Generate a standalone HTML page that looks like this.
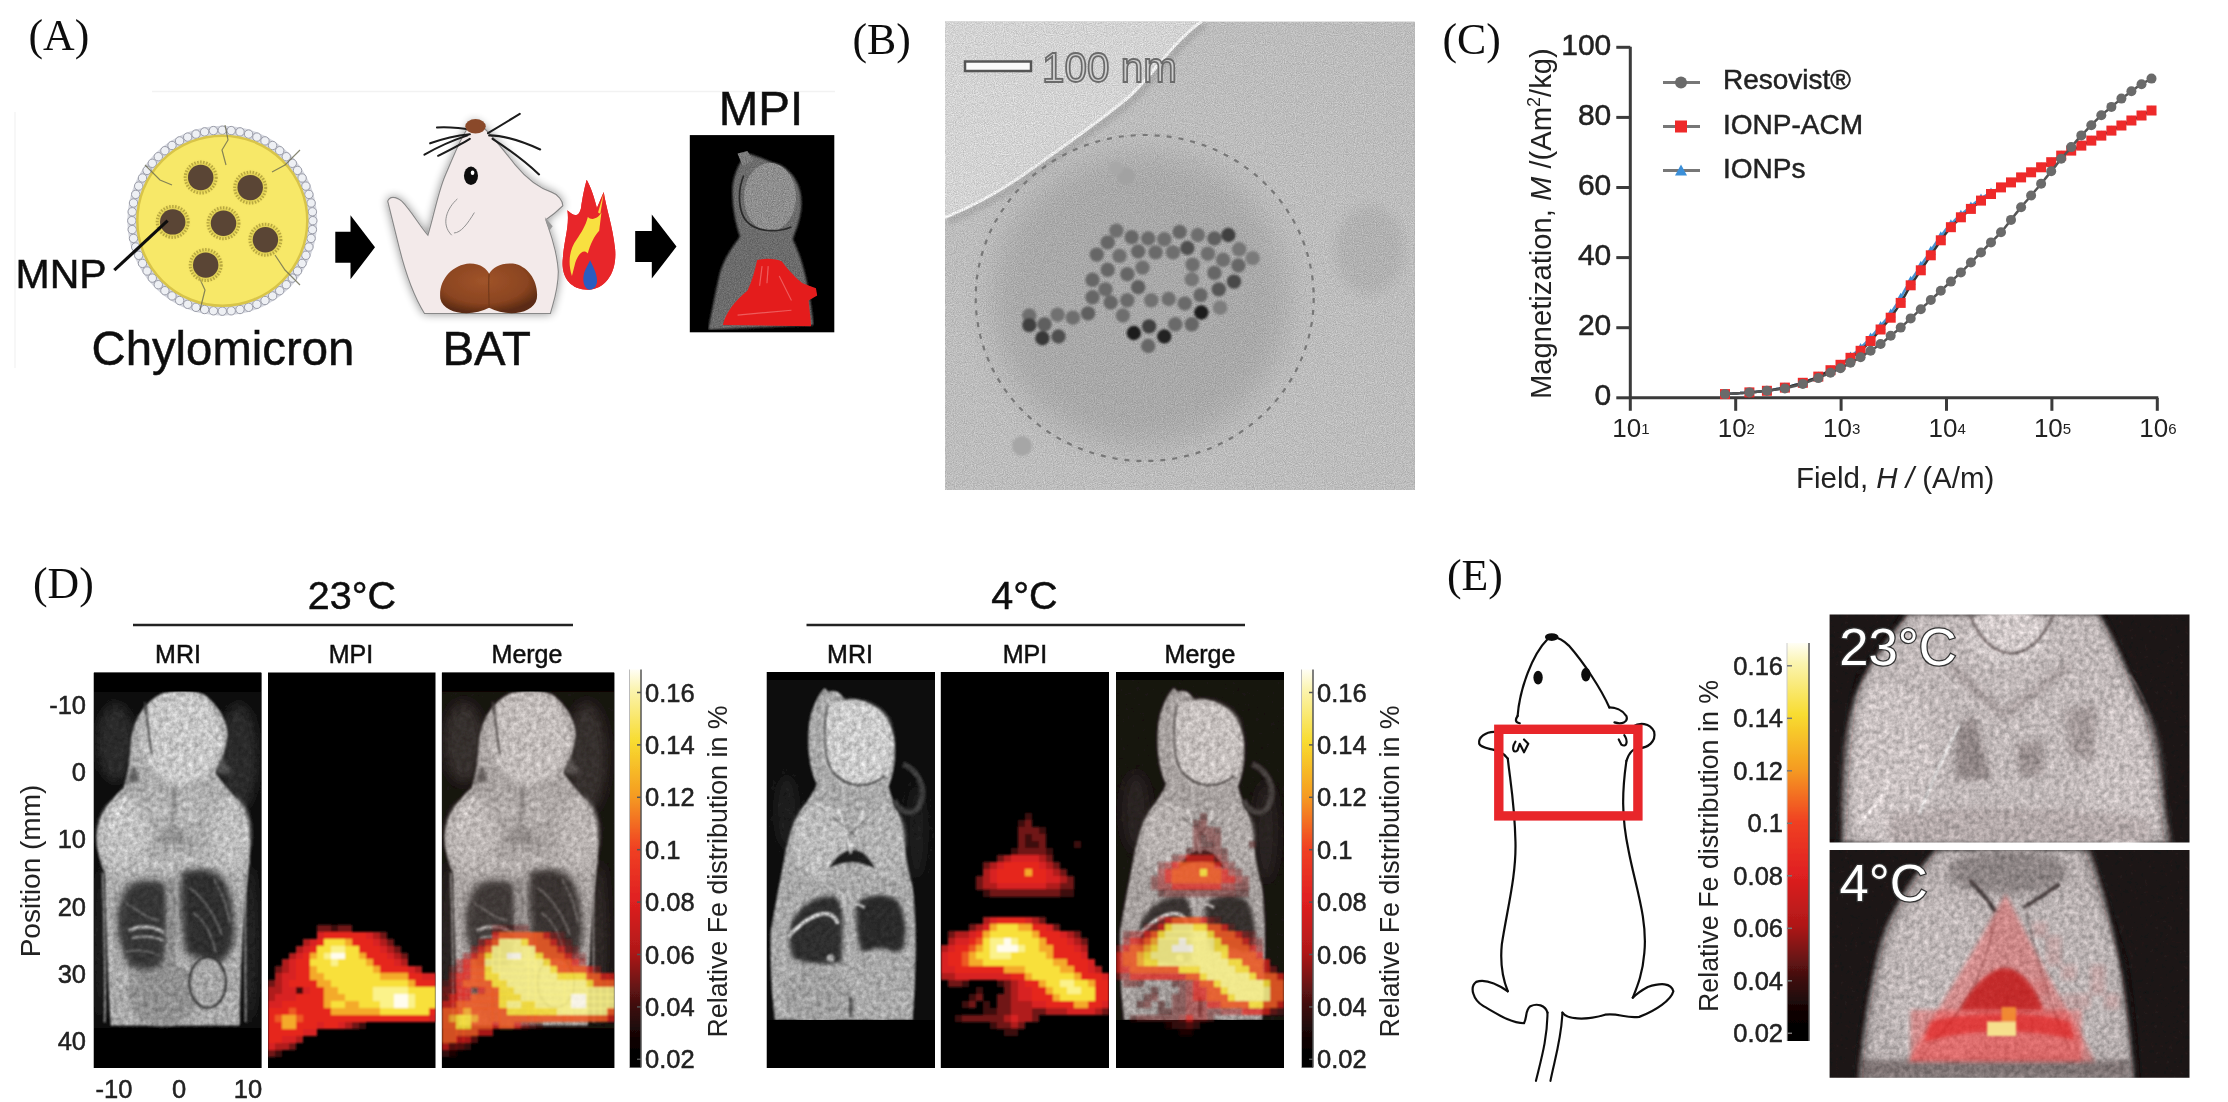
<!DOCTYPE html>
<html><head><meta charset="utf-8"><title>Figure</title>
<style>html,body{margin:0;padding:0;background:#fff;} svg{display:block;}</style></head>
<body><svg width="2228" height="1102" viewBox="0 0 2228 1102">
<defs><radialGradient id="mnphalo" cx="0.5" cy="0.5" r="0.5"><stop offset="0.6" stop-color="#cfc048"/><stop offset="1" stop-color="#f4e060" stop-opacity="0"/></radialGradient>
<radialGradient id="batg" cx="0.45" cy="0.35" r="0.65"><stop offset="0" stop-color="#a0542a"/><stop offset="0.7" stop-color="#8a4420"/><stop offset="1" stop-color="#5a2a12"/></radialGradient>
<filter id="shadow" x="-20%" y="-20%" width="140%" height="140%"><feGaussianBlur in="SourceAlpha" stdDeviation="22"/><feOffset dx="0" dy="0"/><feComponentTransfer><feFuncA type="linear" slope="0.45"/></feComponentTransfer><feMerge><feMergeNode/><feMergeNode in="SourceGraphic"/></feMerge></filter>
<filter id="glow" x="-30%" y="-30%" width="160%" height="160%"><feGaussianBlur in="SourceGraphic" stdDeviation="3" result="b"/><feMerge><feMergeNode in="b"/><feMergeNode in="SourceGraphic"/></feMerge></filter><filter id="temtex" x="0" y="0" width="100%" height="100%" color-interpolation-filters="sRGB"><feTurbulence type="fractalNoise" baseFrequency="0.9" numOctaves="2" seed="11" result="n"/><feColorMatrix in="n" type="matrix" values="1 0 0 0 0  1 0 0 0 0  1 0 0 0 0  0 0 0 0 1" result="g"/><feComposite in="SourceGraphic" in2="g" operator="arithmetic" k1="0.35" k2="0.83" k3="0" k4="0"/></filter>
<radialGradient id="temdark" cx="0.5" cy="0.5" r="0.5"><stop offset="0" stop-color="#9c9c9c"/><stop offset="0.6" stop-color="#a4a4a4"/><stop offset="1" stop-color="#b6b6b6" stop-opacity="0"/></radialGradient>
<filter id="blurtem" x="-30%" y="-30%" width="160%" height="160%"><feGaussianBlur stdDeviation="16"/></filter><clipPath id="temclip"><rect x="945" y="21.5" width="469.8" height="468.5"/></clipPath><filter id="blur1" x="-10%" y="-10%" width="120%" height="120%"><feGaussianBlur stdDeviation="1.2"/></filter>
<filter id="blur2" x="-10%" y="-10%" width="120%" height="120%"><feGaussianBlur stdDeviation="2"/></filter>
<filter id="blur4" x="-20%" y="-20%" width="140%" height="140%"><feGaussianBlur stdDeviation="3.5"/></filter>
<filter id="blur6" x="-30%" y="-30%" width="160%" height="160%"><feGaussianBlur stdDeviation="6"/></filter>
<filter id="tex" x="0" y="0" width="100%" height="100%" color-interpolation-filters="sRGB"><feTurbulence type="fractalNoise" baseFrequency="0.2" numOctaves="3" seed="4" result="n"/><feColorMatrix in="n" type="matrix" values="1 0 0 0 0  1 0 0 0 0  1 0 0 0 0  0 0 0 0 1" result="g"/><feComposite in="SourceGraphic" in2="g" operator="arithmetic" k1="0.55" k2="0.74" k3="0" k4="0"/></filter><linearGradient id="cbar" x1="0" y1="1" x2="0" y2="0"><stop offset="0" stop-color="#000"/><stop offset="0.06" stop-color="#080202"/><stop offset="0.158" stop-color="#401010"/><stop offset="0.29" stop-color="#b01818"/><stop offset="0.42" stop-color="#e02020"/><stop offset="0.55" stop-color="#f04020"/><stop offset="0.68" stop-color="#f59a20"/><stop offset="0.82" stop-color="#f8dc30"/><stop offset="0.95" stop-color="#fbf4b0"/><stop offset="1" stop-color="#fffef5"/></linearGradient><filter id="soft" x="0" y="0" width="100%" height="100%" filterUnits="userSpaceOnUse"><feGaussianBlur stdDeviation="0.6"/></filter></defs>
<g filter="url(#soft)"><rect width="2228" height="1102" fill="#fff"/>
<text x="28.5" y="50.0" style="font-family:'Liberation Serif',serif;font-size:43.8px" fill="#111" text-anchor="start" >(A)</text>
<text x="852.5" y="54.0" style="font-family:'Liberation Serif',serif;font-size:43.8px" fill="#111" text-anchor="start" >(B)</text>
<text x="1442.5" y="54.0" style="font-family:'Liberation Serif',serif;font-size:43.8px" fill="#111" text-anchor="start" >(C)</text>
<text x="33.0" y="598.0" style="font-family:'Liberation Serif',serif;font-size:43.8px" fill="#111" text-anchor="start" >(D)</text>
<text x="1447.0" y="590.0" style="font-family:'Liberation Serif',serif;font-size:43.8px" fill="#111" text-anchor="start" >(E)</text>
<path d="M152 91.5 H835" stroke="#f2f2f2" stroke-width="1.5"/><path d="M15 112 V368" stroke="#f4f4f4" stroke-width="1.5"/>
<circle cx="222.3" cy="220.7" r="95" fill="#d6d8e0"/>
<g><circle cx="312.8" cy="220.7" r="4.2" fill="#eef0f4" stroke="#9a9ca8" stroke-width="1"/><circle cx="312.4" cy="229.6" r="4.2" fill="#eef0f4" stroke="#9a9ca8" stroke-width="1"/><circle cx="311.1" cy="238.4" r="4.2" fill="#eef0f4" stroke="#9a9ca8" stroke-width="1"/><circle cx="308.9" cy="247.0" r="4.2" fill="#eef0f4" stroke="#9a9ca8" stroke-width="1"/><circle cx="305.9" cy="255.3" r="4.2" fill="#eef0f4" stroke="#9a9ca8" stroke-width="1"/><circle cx="302.1" cy="263.4" r="4.2" fill="#eef0f4" stroke="#9a9ca8" stroke-width="1"/><circle cx="297.5" cy="271.0" r="4.2" fill="#eef0f4" stroke="#9a9ca8" stroke-width="1"/><circle cx="292.3" cy="278.1" r="4.2" fill="#eef0f4" stroke="#9a9ca8" stroke-width="1"/><circle cx="286.3" cy="284.7" r="4.2" fill="#eef0f4" stroke="#9a9ca8" stroke-width="1"/><circle cx="279.7" cy="290.7" r="4.2" fill="#eef0f4" stroke="#9a9ca8" stroke-width="1"/><circle cx="272.6" cy="295.9" r="4.2" fill="#eef0f4" stroke="#9a9ca8" stroke-width="1"/><circle cx="265.0" cy="300.5" r="4.2" fill="#eef0f4" stroke="#9a9ca8" stroke-width="1"/><circle cx="256.9" cy="304.3" r="4.2" fill="#eef0f4" stroke="#9a9ca8" stroke-width="1"/><circle cx="248.6" cy="307.3" r="4.2" fill="#eef0f4" stroke="#9a9ca8" stroke-width="1"/><circle cx="240.0" cy="309.5" r="4.2" fill="#eef0f4" stroke="#9a9ca8" stroke-width="1"/><circle cx="231.2" cy="310.8" r="4.2" fill="#eef0f4" stroke="#9a9ca8" stroke-width="1"/><circle cx="222.3" cy="311.2" r="4.2" fill="#eef0f4" stroke="#9a9ca8" stroke-width="1"/><circle cx="213.4" cy="310.8" r="4.2" fill="#eef0f4" stroke="#9a9ca8" stroke-width="1"/><circle cx="204.6" cy="309.5" r="4.2" fill="#eef0f4" stroke="#9a9ca8" stroke-width="1"/><circle cx="196.0" cy="307.3" r="4.2" fill="#eef0f4" stroke="#9a9ca8" stroke-width="1"/><circle cx="187.7" cy="304.3" r="4.2" fill="#eef0f4" stroke="#9a9ca8" stroke-width="1"/><circle cx="179.6" cy="300.5" r="4.2" fill="#eef0f4" stroke="#9a9ca8" stroke-width="1"/><circle cx="172.0" cy="295.9" r="4.2" fill="#eef0f4" stroke="#9a9ca8" stroke-width="1"/><circle cx="164.9" cy="290.7" r="4.2" fill="#eef0f4" stroke="#9a9ca8" stroke-width="1"/><circle cx="158.3" cy="284.7" r="4.2" fill="#eef0f4" stroke="#9a9ca8" stroke-width="1"/><circle cx="152.3" cy="278.1" r="4.2" fill="#eef0f4" stroke="#9a9ca8" stroke-width="1"/><circle cx="147.1" cy="271.0" r="4.2" fill="#eef0f4" stroke="#9a9ca8" stroke-width="1"/><circle cx="142.5" cy="263.4" r="4.2" fill="#eef0f4" stroke="#9a9ca8" stroke-width="1"/><circle cx="138.7" cy="255.3" r="4.2" fill="#eef0f4" stroke="#9a9ca8" stroke-width="1"/><circle cx="135.7" cy="247.0" r="4.2" fill="#eef0f4" stroke="#9a9ca8" stroke-width="1"/><circle cx="133.5" cy="238.4" r="4.2" fill="#eef0f4" stroke="#9a9ca8" stroke-width="1"/><circle cx="132.2" cy="229.6" r="4.2" fill="#eef0f4" stroke="#9a9ca8" stroke-width="1"/><circle cx="131.8" cy="220.7" r="4.2" fill="#eef0f4" stroke="#9a9ca8" stroke-width="1"/><circle cx="132.2" cy="211.8" r="4.2" fill="#eef0f4" stroke="#9a9ca8" stroke-width="1"/><circle cx="133.5" cy="203.0" r="4.2" fill="#eef0f4" stroke="#9a9ca8" stroke-width="1"/><circle cx="135.7" cy="194.4" r="4.2" fill="#eef0f4" stroke="#9a9ca8" stroke-width="1"/><circle cx="138.7" cy="186.1" r="4.2" fill="#eef0f4" stroke="#9a9ca8" stroke-width="1"/><circle cx="142.5" cy="178.0" r="4.2" fill="#eef0f4" stroke="#9a9ca8" stroke-width="1"/><circle cx="147.1" cy="170.4" r="4.2" fill="#eef0f4" stroke="#9a9ca8" stroke-width="1"/><circle cx="152.3" cy="163.3" r="4.2" fill="#eef0f4" stroke="#9a9ca8" stroke-width="1"/><circle cx="158.3" cy="156.7" r="4.2" fill="#eef0f4" stroke="#9a9ca8" stroke-width="1"/><circle cx="164.9" cy="150.7" r="4.2" fill="#eef0f4" stroke="#9a9ca8" stroke-width="1"/><circle cx="172.0" cy="145.5" r="4.2" fill="#eef0f4" stroke="#9a9ca8" stroke-width="1"/><circle cx="179.6" cy="140.9" r="4.2" fill="#eef0f4" stroke="#9a9ca8" stroke-width="1"/><circle cx="187.7" cy="137.1" r="4.2" fill="#eef0f4" stroke="#9a9ca8" stroke-width="1"/><circle cx="196.0" cy="134.1" r="4.2" fill="#eef0f4" stroke="#9a9ca8" stroke-width="1"/><circle cx="204.6" cy="131.9" r="4.2" fill="#eef0f4" stroke="#9a9ca8" stroke-width="1"/><circle cx="213.4" cy="130.6" r="4.2" fill="#eef0f4" stroke="#9a9ca8" stroke-width="1"/><circle cx="222.3" cy="130.2" r="4.2" fill="#eef0f4" stroke="#9a9ca8" stroke-width="1"/><circle cx="231.2" cy="130.6" r="4.2" fill="#eef0f4" stroke="#9a9ca8" stroke-width="1"/><circle cx="240.0" cy="131.9" r="4.2" fill="#eef0f4" stroke="#9a9ca8" stroke-width="1"/><circle cx="248.6" cy="134.1" r="4.2" fill="#eef0f4" stroke="#9a9ca8" stroke-width="1"/><circle cx="256.9" cy="137.1" r="4.2" fill="#eef0f4" stroke="#9a9ca8" stroke-width="1"/><circle cx="265.0" cy="140.9" r="4.2" fill="#eef0f4" stroke="#9a9ca8" stroke-width="1"/><circle cx="272.6" cy="145.5" r="4.2" fill="#eef0f4" stroke="#9a9ca8" stroke-width="1"/><circle cx="279.7" cy="150.7" r="4.2" fill="#eef0f4" stroke="#9a9ca8" stroke-width="1"/><circle cx="286.3" cy="156.7" r="4.2" fill="#eef0f4" stroke="#9a9ca8" stroke-width="1"/><circle cx="292.3" cy="163.3" r="4.2" fill="#eef0f4" stroke="#9a9ca8" stroke-width="1"/><circle cx="297.5" cy="170.4" r="4.2" fill="#eef0f4" stroke="#9a9ca8" stroke-width="1"/><circle cx="302.1" cy="178.0" r="4.2" fill="#eef0f4" stroke="#9a9ca8" stroke-width="1"/><circle cx="305.9" cy="186.1" r="4.2" fill="#eef0f4" stroke="#9a9ca8" stroke-width="1"/><circle cx="308.9" cy="194.4" r="4.2" fill="#eef0f4" stroke="#9a9ca8" stroke-width="1"/><circle cx="311.1" cy="203.0" r="4.2" fill="#eef0f4" stroke="#9a9ca8" stroke-width="1"/><circle cx="312.4" cy="211.8" r="4.2" fill="#eef0f4" stroke="#9a9ca8" stroke-width="1"/></g>
<circle cx="222.3" cy="220.7" r="85" fill="#f7e868" stroke="#d8c448" stroke-width="2.5"/>
<g stroke="#6a6a50" stroke-width="1.2" fill="none" opacity="0.8"><path d="M225 125 L228 140 L222 150 L226 165"/><path d="M145 165 L160 180 L172 185"/><path d="M300 150 L285 165 L272 172"/><path d="M200 310 L205 290 L198 275"/><path d="M300 285 L285 270 L275 255"/></g>
<circle cx="200.7" cy="177.5" r="19" fill="url(#mnphalo)"/>
<circle cx="200.7" cy="177.5" r="15.5" fill="none" stroke="#b8a840" stroke-width="3" stroke-dasharray="1.5 1.5"/>
<circle cx="200.7" cy="177.5" r="12.7" fill="#5a4434"/>
<circle cx="250.2" cy="187.6" r="19" fill="url(#mnphalo)"/>
<circle cx="250.2" cy="187.6" r="15.5" fill="none" stroke="#b8a840" stroke-width="3" stroke-dasharray="1.5 1.5"/>
<circle cx="250.2" cy="187.6" r="12.7" fill="#5a4434"/>
<circle cx="172.7" cy="221.9" r="19" fill="url(#mnphalo)"/>
<circle cx="172.7" cy="221.9" r="15.5" fill="none" stroke="#b8a840" stroke-width="3" stroke-dasharray="1.5 1.5"/>
<circle cx="172.7" cy="221.9" r="12.7" fill="#5a4434"/>
<circle cx="223.5" cy="223.2" r="19" fill="url(#mnphalo)"/>
<circle cx="223.5" cy="223.2" r="15.5" fill="none" stroke="#b8a840" stroke-width="3" stroke-dasharray="1.5 1.5"/>
<circle cx="223.5" cy="223.2" r="12.7" fill="#5a4434"/>
<circle cx="265.4" cy="239.7" r="19" fill="url(#mnphalo)"/>
<circle cx="265.4" cy="239.7" r="15.5" fill="none" stroke="#b8a840" stroke-width="3" stroke-dasharray="1.5 1.5"/>
<circle cx="265.4" cy="239.7" r="12.7" fill="#5a4434"/>
<circle cx="205.7" cy="265.1" r="19" fill="url(#mnphalo)"/>
<circle cx="205.7" cy="265.1" r="15.5" fill="none" stroke="#b8a840" stroke-width="3" stroke-dasharray="1.5 1.5"/>
<circle cx="205.7" cy="265.1" r="12.7" fill="#5a4434"/>
<path d="M114.3 270.2 L167.6 220.7" stroke="#111" stroke-width="3.2"/>
<text x="15.5" y="288.0" style="font-family:'Liberation Sans',sans-serif;font-size:41px" fill="#111" stroke="#111" stroke-width="0.5" text-anchor="start" >MNP</text>
<text x="91.5" y="365.0" style="font-family:'Liberation Sans',sans-serif;font-size:47.3px" fill="#111" stroke="#111" stroke-width="0.5" text-anchor="start" >Chylomicron</text>
<text x="442.5" y="365.0" style="font-family:'Liberation Sans',sans-serif;font-size:47.3px" fill="#111" stroke="#111" stroke-width="0.5" text-anchor="start" >BAT</text>
<text x="718.7" y="124.5" style="font-family:'Liberation Sans',sans-serif;font-size:47.5px" fill="#111" stroke="#111" stroke-width="0.5" text-anchor="start" >MPI</text>
<path d="M335.3 231.8 H350.5 V215.3 L375 247.3 L350.5 279.3 V262.8 H335.3Z" fill="#000"/>
<path d="M635.2 231.1 H651.8 V214.6 L676.5 246.6 L651.8 278.6 V262.1 H635.2Z" fill="#000"/>
<g transform="translate(370,90) scale(0.22691)">
<g filter="url(#shadow)">
<path d="M455 135 C500 150 560 230 640 330 C690 390 740 430 800 450 C830 460 850 490 850 510 C830 530 800 555 775 572 C790 620 825 700 830 800 C830 880 810 930 795 985 L240 985 C200 920 160 820 130 700 C110 620 90 540 78 490 C85 470 110 465 140 490 C180 530 220 600 255 640 C280 560 300 450 330 380 C370 290 400 200 455 135Z" fill="#f3eaea" stroke="#888" stroke-width="5"/>
</g>
<path d="M770 560 L790 620 L805 600Z" fill="#999"/>
<ellipse cx="445" cy="378" rx="31" ry="41" fill="#111"/><ellipse cx="452" cy="365" rx="8" ry="10" fill="#fff"/>
<g stroke="#888" stroke-width="4" fill="none"><path d="M385 480 C340 520 310 590 360 640"/><path d="M460 540 C430 590 400 630 370 630"/></g>
<g stroke="#1a1a1a" stroke-width="9" fill="none" stroke-linecap="round"><path d="M240 285 C300 250 370 220 430 200"/><path d="M265 235 C320 215 390 200 440 195"/><path d="M295 165 C360 160 420 170 470 178"/><path d="M520 190 C570 160 620 130 660 105"/><path d="M525 200 C600 200 680 230 750 262"/><path d="M540 215 C610 260 690 320 745 372"/><path d="M300 290 C360 260 400 240 440 215"/></g>
<ellipse cx="465" cy="160" rx="45" ry="32" fill="#8a4a2a"/>
<g filter="url(#blur2)"><path d="M310 920 C300 840 360 770 440 765 C490 765 515 790 525 810 C540 780 580 760 630 765 C700 775 745 850 735 920 C720 990 600 1000 525 960 C450 1000 325 990 310 920Z" fill="url(#batg)"/></g>
<path d="M525 810 C520 860 525 920 525 960" stroke="#6a3418" stroke-width="6" fill="none" opacity="0.7"/>
<g filter="url(#glow)"><path d="M960 880 C880 880 840 820 850 740 C855 660 880 600 870 530 C900 560 920 560 930 520 C935 480 945 430 955 395 C975 430 990 480 1000 520 L1030 450 C1040 520 1070 600 1080 700 C1090 800 1040 880 960 880Z" fill="#e8282a"/></g>
<path d="M890 820 C870 760 880 700 910 660 C930 630 950 600 960 560 C980 580 1010 560 1020 540 L1010 620 C990 640 970 680 960 720 C940 700 920 720 905 760Z" fill="#f8e040"/>
<path d="M1030 455 L1005 540 L1015 545Z" fill="#f8e040"/>
<path d="M965 880 C935 870 935 820 950 790 C960 770 965 760 970 750 C985 780 1005 820 1000 850 C995 870 985 880 965 880Z" fill="#2a5cc0"/>
</g>
<rect x="689.8" y="135.1" width="144.5" height="197.2" fill="#000"/>
<g transform="translate(620,80) scale(0.24494)">
<g filter="url(#tex)"><g>
<path d="M520 300 C560 310 600 330 650 345 C720 380 745 450 740 520 C735 580 715 620 705 650 C740 720 770 820 790 1000 L360 1020 C380 920 395 840 410 780 C430 720 460 680 490 640 C470 580 455 500 460 430 C470 370 490 330 520 300Z" fill="#6a6a6a" filter="url(#blur4)"/>
<ellipse cx="612" cy="478" rx="106" ry="140" fill="#8c8c8c"/>
<path d="M480 300 L520 290 L545 330 L500 350Z" fill="#7a7a7a"/>
</g></g>
<path d="M505 390 C480 450 480 540 520 580 C560 620 640 625 700 600" stroke="#2a2a2a" stroke-width="7" fill="none"/>
<g filter="url(#blur2)"><path d="M560 735 C600 725 640 730 660 740 C690 780 720 810 745 830 L800 850 L805 880 L770 900 C775 950 780 990 780 1005 L420 1000 C430 950 470 900 520 860 C540 820 550 780 560 735Z" fill="#e41e1e"/></g>
<g stroke="#f59090" stroke-width="5" fill="none" opacity="0.55"><path d="M580 760 L570 840"/><path d="M605 760 L600 830"/><path d="M480 960 L700 940"/><path d="M650 800 L700 900"/></g>
</g>
<g clip-path="url(#temclip)"><g filter="url(#temtex)">
<rect x="945" y="21.5" width="469.79999999999995" height="468.5" fill="#bcbcbc"/>
<path d="M945 217.5 C975 205 1000 192 1030 170 C1070 142 1100 120 1125 100 C1145 84 1160 60 1180 40 C1190 30 1196 24 1202 21.5 L945 21.5Z" fill="#d2d2d2"/>
<path d="M945 217.5 C975 205 1000 192 1030 170 C1070 142 1100 120 1125 100 C1145 84 1160 60 1180 40 C1190 30 1196 24 1202 21.5" stroke="#a8a8a8" stroke-width="7" fill="none" filter="url(#blur2)" transform="translate(3,4)"/>
<path d="M945 217.5 C975 205 1000 192 1030 170 C1070 142 1100 120 1125 100 C1145 84 1160 60 1180 40 C1190 30 1196 24 1202 21.5" stroke="#ececec" stroke-width="3" fill="none"/>
<ellipse cx="1140" cy="300" rx="150" ry="148" fill="#a8a8a8" filter="url(#blurtem)"/>
<ellipse cx="1370" cy="250" rx="35" ry="45" fill="#b0b0b0" filter="url(#blur6)"/>
</g>
<ellipse cx="1144.7" cy="298" rx="169" ry="163" fill="none" stroke="#777" stroke-width="2.2" stroke-dasharray="5 7"/>
<circle cx="1126" cy="176" r="9" fill="#a2a2a2" filter="url(#blur1)"/><circle cx="1116" cy="168" r="7" fill="#a8a8a8" filter="url(#blur1)"/>
<circle cx="1022" cy="446" r="10" fill="#a6a6a6" filter="url(#blur1)"/>
<g filter="url(#blur1)"><circle cx="1116.4" cy="230.6" r="7.2" fill="#6e6e6e"/><circle cx="1131.7" cy="237.1" r="7.2" fill="#666666"/><circle cx="1148.2" cy="238.5" r="7.2" fill="#6b6b6b"/><circle cx="1164.3" cy="239.3" r="7.2" fill="#6e6e6e"/><circle cx="1179.6" cy="231.9" r="7.2" fill="#666666"/><circle cx="1197.9" cy="235.0" r="7.2" fill="#6e6e6e"/><circle cx="1214.4" cy="238.5" r="7.2" fill="#5f5f5f"/><circle cx="1228.4" cy="235.0" r="7.2" fill="#414141"/><circle cx="1107.7" cy="242.4" r="7.2" fill="#666666"/><circle cx="1096.8" cy="254.6" r="7.2" fill="#666666"/><circle cx="1119.5" cy="255.9" r="7.2" fill="#6e6e6e"/><circle cx="1138.2" cy="251.5" r="7.2" fill="#666666"/><circle cx="1155.6" cy="252.4" r="7.2" fill="#6b6b6b"/><circle cx="1173.0" cy="252.4" r="7.2" fill="#6e6e6e"/><circle cx="1187.4" cy="248.0" r="7.2" fill="#505050"/><circle cx="1207.9" cy="253.7" r="7.2" fill="#6e6e6e"/><circle cx="1223.1" cy="259.8" r="7.2" fill="#6e6e6e"/><circle cx="1239.2" cy="249.3" r="7.2" fill="#757575"/><circle cx="1252.7" cy="258.1" r="7.2" fill="#7a7a7a"/><circle cx="1107.7" cy="269.8" r="7.2" fill="#666666"/><circle cx="1127.3" cy="274.2" r="7.2" fill="#666666"/><circle cx="1142.5" cy="267.6" r="7.2" fill="#6e6e6e"/><circle cx="1192.6" cy="264.6" r="7.2" fill="#6e6e6e"/><circle cx="1214.4" cy="272.9" r="7.2" fill="#666666"/><circle cx="1238.4" cy="265.5" r="7.2" fill="#666666"/><circle cx="1234.0" cy="281.6" r="7.2" fill="#484848"/><circle cx="1092.5" cy="279.8" r="7.2" fill="#666666"/><circle cx="1105.5" cy="289.4" r="7.2" fill="#6b6b6b"/><circle cx="1138.2" cy="287.2" r="7.2" fill="#5f5f5f"/><circle cx="1191.8" cy="279.4" r="7.2" fill="#757575"/><circle cx="1200.5" cy="295.1" r="7.2" fill="#666666"/><circle cx="1218.8" cy="289.4" r="7.2" fill="#575757"/><circle cx="1220.1" cy="307.7" r="7.2" fill="#7d7d7d"/><circle cx="1092.5" cy="297.3" r="7.2" fill="#666666"/><circle cx="1110.7" cy="302.5" r="7.2" fill="#666666"/><circle cx="1127.3" cy="300.3" r="7.2" fill="#6b6b6b"/><circle cx="1151.3" cy="300.3" r="7.2" fill="#717171"/><circle cx="1168.7" cy="299.0" r="7.2" fill="#6e6e6e"/><circle cx="1184.8" cy="303.4" r="7.2" fill="#6b6b6b"/><circle cx="1201.3" cy="312.5" r="7.2" fill="#1b1b1b"/><circle cx="1029.3" cy="315.5" r="7.2" fill="#6e6e6e"/><circle cx="1044.5" cy="324.3" r="7.2" fill="#5f5f5f"/><circle cx="1057.6" cy="314.7" r="7.2" fill="#717171"/><circle cx="1072.9" cy="317.7" r="7.2" fill="#6e6e6e"/><circle cx="1088.1" cy="313.4" r="7.2" fill="#5f5f5f"/><circle cx="1122.9" cy="315.5" r="7.2" fill="#6e6e6e"/><circle cx="1175.2" cy="324.3" r="7.2" fill="#6b6b6b"/><circle cx="1191.8" cy="324.3" r="7.2" fill="#666666"/><circle cx="1029.3" cy="325.1" r="7.2" fill="#414141"/><circle cx="1042.4" cy="338.2" r="7.2" fill="#393939"/><circle cx="1058.5" cy="336.5" r="7.2" fill="#505050"/><circle cx="1133.8" cy="333.0" r="7.2" fill="#1b1b1b"/><circle cx="1149.1" cy="326.4" r="7.2" fill="#414141"/><circle cx="1164.3" cy="336.5" r="7.2" fill="#232323"/><circle cx="1148.2" cy="346.0" r="7.2" fill="#666666"/></g>
</g>
<rect x="965" y="61.5" width="66" height="9.5" fill="#fafafa" stroke="#555" stroke-width="2.5"/>
<text x="1042" y="81.5" style="font-family:'Liberation Sans',sans-serif;font-size:43px" fill="#cfcfcf" stroke="#6a6a6a" stroke-width="1.8" textLength="135" lengthAdjust="spacingAndGlyphs">100 nm</text>
<path d="M1630.3 46.80000000000001 V410.8 M1630.3 397.8 H2158.3" stroke="#3a3a3a" stroke-width="3" fill="none"/>
<path d="M1616.3 397.8 H1630.3" stroke="#3a3a3a" stroke-width="3"/>
<text x="1611.3" y="405.3" style="font-family:'Liberation Sans',sans-serif;font-size:30px" fill="#222" stroke="#222" stroke-width="0.5" text-anchor="end" >0</text>
<path d="M1616.3 327.7 H1630.3" stroke="#3a3a3a" stroke-width="3"/>
<text x="1611.3" y="335.2" style="font-family:'Liberation Sans',sans-serif;font-size:30px" fill="#222" stroke="#222" stroke-width="0.5" text-anchor="end" >20</text>
<path d="M1616.3 257.6 H1630.3" stroke="#3a3a3a" stroke-width="3"/>
<text x="1611.3" y="265.1" style="font-family:'Liberation Sans',sans-serif;font-size:30px" fill="#222" stroke="#222" stroke-width="0.5" text-anchor="end" >40</text>
<path d="M1616.3 187.5 H1630.3" stroke="#3a3a3a" stroke-width="3"/>
<text x="1611.3" y="195.0" style="font-family:'Liberation Sans',sans-serif;font-size:30px" fill="#222" stroke="#222" stroke-width="0.5" text-anchor="end" >60</text>
<path d="M1616.3 117.4 H1630.3" stroke="#3a3a3a" stroke-width="3"/>
<text x="1611.3" y="124.9" style="font-family:'Liberation Sans',sans-serif;font-size:30px" fill="#222" stroke="#222" stroke-width="0.5" text-anchor="end" >80</text>
<path d="M1616.3 47.3 H1630.3" stroke="#3a3a3a" stroke-width="3"/>
<text x="1611.3" y="54.8" style="font-family:'Liberation Sans',sans-serif;font-size:30px" fill="#222" stroke="#222" stroke-width="0.5" text-anchor="end" >100</text>
<path d="M1735.7 397.8 V410.8" stroke="#3a3a3a" stroke-width="3"/>
<path d="M1841.1 397.8 V410.8" stroke="#3a3a3a" stroke-width="3"/>
<path d="M1946.5 397.8 V410.8" stroke="#3a3a3a" stroke-width="3"/>
<path d="M2051.9 397.8 V410.8" stroke="#3a3a3a" stroke-width="3"/>
<path d="M2157.3 397.8 V410.8" stroke="#3a3a3a" stroke-width="3"/>
<text x="1612.3" y="437" style="font-family:'Liberation Sans',sans-serif;font-size:26px" fill="#222">10<tspan style="font-size:15px" dy="-3">1</tspan></text>
<text x="1717.7" y="437" style="font-family:'Liberation Sans',sans-serif;font-size:26px" fill="#222">10<tspan style="font-size:15px" dy="-3">2</tspan></text>
<text x="1823.1" y="437" style="font-family:'Liberation Sans',sans-serif;font-size:26px" fill="#222">10<tspan style="font-size:15px" dy="-3">3</tspan></text>
<text x="1928.5" y="437" style="font-family:'Liberation Sans',sans-serif;font-size:26px" fill="#222">10<tspan style="font-size:15px" dy="-3">4</tspan></text>
<text x="2033.9" y="437" style="font-family:'Liberation Sans',sans-serif;font-size:26px" fill="#222">10<tspan style="font-size:15px" dy="-3">5</tspan></text>
<text x="2139.3" y="437" style="font-family:'Liberation Sans',sans-serif;font-size:26px" fill="#222">10<tspan style="font-size:15px" dy="-3">6</tspan></text>
<text x="1796" y="488" style="font-family:'Liberation Sans',sans-serif;font-size:29.5px" fill="#222">Field, <tspan style="font-style:italic">H</tspan> <tspan style="font-style:italic">/</tspan> (A/m)</text>
<text transform="translate(1550.5,399) rotate(-90)" x="0" y="0" style="font-family:'Liberation Sans',sans-serif;font-size:29.2px" fill="#222">Magnetization, <tspan style="font-style:italic">M</tspan> /(Am<tspan style="font-size:18px" dy="-11">2</tspan><tspan dy="11">/kg)</tspan></text>
<path d="M1725.2 394.1 L1727.3 394.0 L1729.5 393.8 L1731.6 393.7 L1733.8 393.5 L1735.9 393.4 L1738.1 393.2 L1740.2 393.1 L1742.3 392.9 L1744.5 392.8 L1746.6 392.6 L1748.8 392.5 L1750.9 392.3 L1753.0 392.1 L1755.2 391.9 L1757.3 391.7 L1759.5 391.5 L1761.6 391.3 L1763.8 391.1 L1765.9 390.9 L1768.0 390.6 L1770.2 390.2 L1772.3 389.9 L1774.5 389.5 L1776.6 389.1 L1778.8 388.7 L1780.9 388.3 L1783.0 388.0 L1785.2 387.6 L1787.3 387.0 L1789.5 386.5 L1791.6 385.9 L1793.8 385.3 L1795.9 384.7 L1798.0 384.2 L1800.2 383.6 L1802.3 383.0 L1804.5 382.2 L1806.6 381.3 L1808.7 380.5 L1810.9 379.6 L1813.0 378.8 L1815.2 377.9 L1817.3 377.1 L1819.5 376.0 L1821.6 374.9 L1823.7 373.7 L1825.9 372.6 L1828.0 371.5 L1830.2 370.4 L1832.3 369.3 L1834.5 368.1 L1836.6 367.0 L1838.7 365.9 L1840.9 364.3 L1843.0 362.6 L1845.2 360.9 L1847.3 359.1 L1849.4 357.4 L1851.6 355.7 L1853.7 353.9 L1855.9 352.2 L1858.0 350.5 L1860.2 348.4 L1862.3 346.2 L1864.4 344.1 L1866.6 342.0 L1868.7 339.8 L1870.9 337.3 L1873.0 334.8 L1875.2 332.3 L1877.3 329.9 L1879.4 327.4 L1881.6 324.9 L1883.7 322.4 L1885.9 319.8 L1888.0 317.3 L1890.2 314.2 L1892.3 311.0 L1894.4 307.8 L1896.6 304.5 L1898.7 301.2 L1900.9 297.4 L1903.0 293.5 L1905.1 289.7 L1907.3 286.0 L1909.4 282.8 L1911.6 279.6 L1913.7 276.4 L1915.9 273.2 L1918.0 270.0 L1920.1 266.8 L1922.3 263.6 L1924.4 260.3 L1926.6 257.1 L1928.7 253.9 L1930.9 250.7 L1933.0 247.4 L1935.1 244.2 L1937.3 241.0 L1939.4 238.2 L1941.6 235.3 L1943.7 232.4 L1945.8 229.5 L1948.0 227.0 L1950.1 224.9 L1952.3 222.8 L1954.4 220.7 L1956.6 218.5 L1958.7 216.6 L1960.8 214.8 L1963.0 213.0 L1965.1 211.2 L1967.3 209.4 L1969.4 207.6 L1971.6 205.8 L1973.7 204.0 L1975.8 202.2 L1978.0 200.6 L1980.1 199.2 L1982.3 197.8 L1984.4 196.4 L1986.5 195.0 L1988.7 193.7 L1990.8 192.6 L1993.0 191.5 L1995.1 190.4 L1997.3 189.3 L1999.4 188.2 L2001.5 187.1 L2003.7 186.1 L2005.8 185.0 L2008.0 184.0 L2010.1 182.9 L2012.3 181.8 L2014.4 180.7 L2016.5 179.6 L2018.7 178.6 L2020.8 177.5 L2023.0 176.4 L2025.1 175.3 L2027.3 174.3 L2029.4 173.2 L2031.5 172.1 L2033.7 171.1 L2035.8 170.0 L2038.0 168.9 L2040.1 167.8 L2042.2 166.8 L2044.4 165.7 L2046.5 164.6 L2048.7 163.6 L2050.8 162.5 L2053.0 161.1 L2055.1 159.6 L2057.2 158.2 L2059.4 156.8 L2061.5 155.5 L2063.7 154.4 L2065.8 153.3 L2068.0 152.3 L2070.1 151.2 L2072.2 150.1 L2074.4 149.1 L2076.5 148.0 L2078.7 146.9 L2080.8 145.8 L2082.9 144.8 L2085.1 143.7 L2087.2 142.6 L2089.4 141.6 L2091.5 140.5 L2093.7 139.4 L2095.8 138.3 L2097.9 137.3 L2100.1 136.2 L2102.2 135.1 L2104.4 134.1 L2106.5 133.0 L2108.7 131.9 L2110.8 130.9 L2112.9 129.8 L2115.1 128.7 L2117.2 127.6 L2119.4 126.6 L2121.5 125.5 L2123.7 124.4 L2125.8 123.4 L2127.9 122.3 L2130.1 121.2 L2132.2 120.1 L2134.4 119.1 L2136.5 118.0 L2138.6 116.9 L2140.8 115.9 L2142.9 114.8 L2145.1 113.7 L2147.2 112.6 L2149.4 111.6 L2151.5 110.5" stroke="#4a90d0" stroke-width="2.5" fill="none"/>
<path d="M1720.0 398.1 L1725.0 389.1 L1730.0 398.1Z" fill="#3b8fd8"/>
<path d="M1744.4 396.4 L1749.4 387.4 L1754.4 396.4Z" fill="#3b8fd8"/>
<path d="M1761.9 394.8 L1766.9 385.8 L1771.9 394.8Z" fill="#3b8fd8"/>
<path d="M1779.9 391.6 L1784.9 382.6 L1789.9 391.6Z" fill="#3b8fd8"/>
<path d="M1797.8 386.8 L1802.8 377.8 L1807.8 386.8Z" fill="#3b8fd8"/>
<path d="M1813.3 380.6 L1818.3 371.6 L1823.3 380.6Z" fill="#3b8fd8"/>
<path d="M1825.5 374.2 L1830.5 365.2 L1835.5 374.2Z" fill="#3b8fd8"/>
<path d="M1835.5 368.6 L1840.5 359.6 L1845.5 368.6Z" fill="#3b8fd8"/>
<path d="M1845.5 360.5 L1850.5 351.5 L1855.5 360.5Z" fill="#3b8fd8"/>
<path d="M1855.6 352.0 L1860.6 343.0 L1865.6 352.0Z" fill="#3b8fd8"/>
<path d="M1865.6 341.6 L1870.6 332.6 L1875.6 341.6Z" fill="#3b8fd8"/>
<path d="M1875.6 330.0 L1880.6 321.0 L1885.6 330.0Z" fill="#3b8fd8"/>
<path d="M1885.7 317.4 L1890.7 308.4 L1895.7 317.4Z" fill="#3b8fd8"/>
<path d="M1895.7 301.7 L1900.7 292.7 L1905.7 301.7Z" fill="#3b8fd8"/>
<path d="M1905.7 284.8 L1910.7 275.8 L1915.7 284.8Z" fill="#3b8fd8"/>
<path d="M1915.8 269.8 L1920.8 260.8 L1925.8 269.8Z" fill="#3b8fd8"/>
<path d="M1925.8 254.8 L1930.8 245.8 L1935.8 254.8Z" fill="#3b8fd8"/>
<path d="M1935.8 240.3 L1940.8 231.3 L1945.8 240.3Z" fill="#3b8fd8"/>
<path d="M1945.9 228.2 L1950.9 219.2 L1955.9 228.2Z" fill="#3b8fd8"/>
<path d="M1955.9 218.8 L1960.9 209.8 L1965.9 218.8Z" fill="#3b8fd8"/>
<path d="M1965.9 210.4 L1970.9 201.4 L1975.9 210.4Z" fill="#3b8fd8"/>
<path d="M1976.0 202.6 L1981.0 193.6 L1986.0 202.6Z" fill="#3b8fd8"/>
<path d="M1986.0 196.6 L1991.0 187.6 L1996.0 196.6Z" fill="#3b8fd8"/>
<path d="M1996.0 191.4 L2001.0 182.4 L2006.0 191.4Z" fill="#3b8fd8"/>
<path d="M2006.0 186.4 L2011.0 177.4 L2016.0 186.4Z" fill="#3b8fd8"/>
<path d="M2016.1 181.4 L2021.1 172.4 L2026.1 181.4Z" fill="#3b8fd8"/>
<path d="M2026.1 176.3 L2031.1 167.3 L2036.1 176.3Z" fill="#3b8fd8"/>
<path d="M2036.1 171.3 L2041.1 162.3 L2046.1 171.3Z" fill="#3b8fd8"/>
<path d="M2046.2 166.2 L2051.2 157.2 L2056.2 166.2Z" fill="#3b8fd8"/>
<path d="M2056.2 159.6 L2061.2 150.6 L2066.2 159.6Z" fill="#3b8fd8"/>
<path d="M2066.2 154.6 L2071.2 145.6 L2076.2 154.6Z" fill="#3b8fd8"/>
<path d="M2076.3 149.6 L2081.3 140.6 L2086.3 149.6Z" fill="#3b8fd8"/>
<path d="M2086.3 144.6 L2091.3 135.6 L2096.3 144.6Z" fill="#3b8fd8"/>
<path d="M2096.3 139.6 L2101.3 130.6 L2106.3 139.6Z" fill="#3b8fd8"/>
<path d="M2106.4 134.6 L2111.4 125.6 L2116.4 134.6Z" fill="#3b8fd8"/>
<path d="M2116.4 129.5 L2121.4 120.5 L2126.4 129.5Z" fill="#3b8fd8"/>
<path d="M2126.4 124.5 L2131.4 115.5 L2136.4 124.5Z" fill="#3b8fd8"/>
<path d="M2136.5 119.5 L2141.5 110.5 L2146.5 119.5Z" fill="#3b8fd8"/>
<path d="M2146.5 114.5 L2151.5 105.5 L2156.5 114.5Z" fill="#3b8fd8"/>
<path d="M1725.2 394.1 L1727.3 394.0 L1729.5 393.8 L1731.6 393.7 L1733.8 393.5 L1735.9 393.4 L1738.1 393.2 L1740.2 393.1 L1742.3 392.9 L1744.5 392.8 L1746.6 392.6 L1748.8 392.5 L1750.9 392.3 L1753.0 392.1 L1755.2 391.9 L1757.3 391.7 L1759.5 391.5 L1761.6 391.3 L1763.8 391.1 L1765.9 390.9 L1768.0 390.6 L1770.2 390.2 L1772.3 389.9 L1774.5 389.5 L1776.6 389.1 L1778.8 388.7 L1780.9 388.3 L1783.0 388.0 L1785.2 387.6 L1787.3 387.0 L1789.5 386.5 L1791.6 385.9 L1793.8 385.3 L1795.9 384.7 L1798.0 384.2 L1800.2 383.6 L1802.3 383.0 L1804.5 382.2 L1806.6 381.3 L1808.7 380.5 L1810.9 379.6 L1813.0 378.8 L1815.2 377.9 L1817.3 377.1 L1819.5 376.0 L1821.6 374.9 L1823.7 373.7 L1825.9 372.6 L1828.0 371.5 L1830.2 370.4 L1832.3 369.3 L1834.5 368.1 L1836.6 367.0 L1838.7 365.9 L1840.9 364.5 L1843.0 363.0 L1845.2 361.5 L1847.3 360.0 L1849.4 358.5 L1851.6 357.0 L1853.7 355.6 L1855.9 354.1 L1858.0 352.6 L1860.2 351.1 L1862.3 349.2 L1864.4 347.1 L1866.6 345.0 L1868.7 342.8 L1870.9 340.7 L1873.0 338.3 L1875.2 335.8 L1877.3 333.3 L1879.4 330.9 L1881.6 328.4 L1883.7 325.9 L1885.9 323.4 L1888.0 320.9 L1890.2 318.3 L1892.3 315.5 L1894.4 312.3 L1896.6 309.1 L1898.7 305.8 L1900.9 302.6 L1903.0 298.9 L1905.1 295.1 L1907.3 291.2 L1909.4 287.4 L1911.6 284.1 L1913.7 280.8 L1915.9 277.6 L1918.0 274.4 L1920.1 271.2 L1922.3 268.0 L1924.4 264.8 L1926.6 261.6 L1928.7 258.4 L1930.9 255.2 L1933.0 252.0 L1935.1 248.7 L1937.3 245.5 L1939.4 242.3 L1941.6 239.3 L1943.7 236.4 L1945.8 233.6 L1948.0 230.7 L1950.1 227.9 L1952.3 225.7 L1954.4 223.6 L1956.6 221.5 L1958.7 219.4 L1960.8 217.4 L1963.0 215.6 L1965.1 213.8 L1967.3 212.0 L1969.4 210.2 L1971.6 208.4 L1973.7 206.6 L1975.8 204.8 L1978.0 203.0 L1980.1 201.1 L1982.3 199.7 L1984.4 198.3 L1986.5 196.9 L1988.7 195.5 L1990.8 194.1 L1993.0 192.7 L1995.1 191.2 L1997.3 189.8 L1999.4 188.4 L2001.5 187.1 L2003.7 186.1 L2005.8 185.0 L2008.0 184.0 L2010.1 182.9 L2012.3 181.8 L2014.4 180.7 L2016.5 179.6 L2018.7 178.6 L2020.8 177.5 L2023.0 176.4 L2025.1 175.3 L2027.3 174.3 L2029.4 173.2 L2031.5 172.1 L2033.7 171.1 L2035.8 170.0 L2038.0 168.9 L2040.1 167.8 L2042.2 166.8 L2044.4 165.7 L2046.5 164.6 L2048.7 163.6 L2050.8 162.5 L2053.0 161.1 L2055.1 159.6 L2057.2 158.2 L2059.4 156.8 L2061.5 155.5 L2063.7 154.4 L2065.8 153.3 L2068.0 152.3 L2070.1 151.2 L2072.2 150.1 L2074.4 149.1 L2076.5 148.0 L2078.7 146.9 L2080.8 145.8 L2082.9 144.8 L2085.1 143.7 L2087.2 142.6 L2089.4 141.6 L2091.5 140.5 L2093.7 139.4 L2095.8 138.3 L2097.9 137.3 L2100.1 136.2 L2102.2 135.1 L2104.4 134.1 L2106.5 133.0 L2108.7 131.9 L2110.8 130.9 L2112.9 129.8 L2115.1 128.7 L2117.2 127.6 L2119.4 126.6 L2121.5 125.5 L2123.7 124.4 L2125.8 123.4 L2127.9 122.3 L2130.1 121.2 L2132.2 120.1 L2134.4 119.1 L2136.5 118.0 L2138.6 116.9 L2140.8 115.9 L2142.9 114.8 L2145.1 113.7 L2147.2 112.6 L2149.4 111.6 L2151.5 110.5" stroke="#333" stroke-width="2.5" fill="none"/>
<g fill="#ee2a2a"><rect x="1720.0" y="389.1" width="10" height="10"/><rect x="1744.4" y="387.4" width="10" height="10"/><rect x="1761.9" y="385.8" width="10" height="10"/><rect x="1779.9" y="382.6" width="10" height="10"/><rect x="1797.8" y="377.8" width="10" height="10"/><rect x="1813.3" y="371.6" width="10" height="10"/><rect x="1825.5" y="365.2" width="10" height="10"/><rect x="1835.5" y="359.8" width="10" height="10"/><rect x="1845.5" y="352.8" width="10" height="10"/><rect x="1855.6" y="345.8" width="10" height="10"/><rect x="1865.6" y="336.0" width="10" height="10"/><rect x="1875.6" y="324.5" width="10" height="10"/><rect x="1885.7" y="312.7" width="10" height="10"/><rect x="1895.7" y="297.9" width="10" height="10"/><rect x="1905.7" y="280.3" width="10" height="10"/><rect x="1915.8" y="265.3" width="10" height="10"/><rect x="1925.8" y="250.3" width="10" height="10"/><rect x="1935.8" y="235.3" width="10" height="10"/><rect x="1945.9" y="222.2" width="10" height="10"/><rect x="1955.9" y="212.3" width="10" height="10"/><rect x="1965.9" y="203.9" width="10" height="10"/><rect x="1976.0" y="195.6" width="10" height="10"/><rect x="1986.0" y="189.0" width="10" height="10"/><rect x="1996.0" y="182.4" width="10" height="10"/><rect x="2006.0" y="177.4" width="10" height="10"/><rect x="2016.1" y="172.4" width="10" height="10"/><rect x="2026.1" y="167.3" width="10" height="10"/><rect x="2036.1" y="162.3" width="10" height="10"/><rect x="2046.2" y="157.2" width="10" height="10"/><rect x="2056.2" y="150.6" width="10" height="10"/><rect x="2066.2" y="145.6" width="10" height="10"/><rect x="2076.3" y="140.6" width="10" height="10"/><rect x="2086.3" y="135.6" width="10" height="10"/><rect x="2096.3" y="130.6" width="10" height="10"/><rect x="2106.4" y="125.6" width="10" height="10"/><rect x="2116.4" y="120.5" width="10" height="10"/><rect x="2126.4" y="115.5" width="10" height="10"/><rect x="2136.5" y="110.5" width="10" height="10"/><rect x="2146.5" y="105.5" width="10" height="10"/></g>
<path d="M1725.2 394.1 L1727.3 394.0 L1729.5 393.8 L1731.6 393.7 L1733.8 393.5 L1735.9 393.4 L1738.1 393.2 L1740.2 393.1 L1742.3 392.9 L1744.5 392.8 L1746.6 392.6 L1748.8 392.5 L1750.9 392.3 L1753.0 392.1 L1755.2 391.9 L1757.3 391.7 L1759.5 391.5 L1761.6 391.3 L1763.8 391.1 L1765.9 390.9 L1768.0 390.7 L1770.2 390.4 L1772.3 390.1 L1774.5 389.8 L1776.6 389.6 L1778.8 389.3 L1780.9 389.0 L1783.0 388.7 L1785.2 388.5 L1787.3 387.9 L1789.5 387.4 L1791.6 386.8 L1793.8 386.3 L1795.9 385.7 L1798.0 385.1 L1800.2 384.6 L1802.3 384.0 L1804.5 383.2 L1806.6 382.4 L1808.7 381.6 L1810.9 380.9 L1813.0 380.1 L1815.2 379.3 L1817.3 378.5 L1819.5 377.6 L1821.6 376.6 L1823.7 375.7 L1825.9 374.8 L1828.0 373.9 L1830.2 372.9 L1832.3 372.0 L1834.5 371.1 L1836.6 370.2 L1838.7 369.2 L1840.9 368.1 L1843.0 366.9 L1845.2 365.8 L1847.3 364.6 L1849.4 363.4 L1851.6 362.2 L1853.7 361.0 L1855.9 359.8 L1858.0 358.6 L1860.2 357.5 L1862.3 356.1 L1864.4 354.7 L1866.6 353.3 L1868.7 351.9 L1870.9 350.5 L1873.0 349.1 L1875.2 347.7 L1877.3 346.2 L1879.4 344.8 L1881.6 343.3 L1883.7 341.6 L1885.9 339.8 L1888.0 338.0 L1890.2 336.3 L1892.3 334.5 L1894.4 332.7 L1896.6 331.0 L1898.7 329.2 L1900.9 327.4 L1903.0 325.5 L1905.1 323.6 L1907.3 321.6 L1909.4 319.6 L1911.6 317.6 L1913.7 315.7 L1915.9 313.7 L1918.0 311.7 L1920.1 309.8 L1922.3 307.8 L1924.4 305.8 L1926.6 303.9 L1928.7 301.9 L1930.9 299.9 L1933.0 298.0 L1935.1 296.0 L1937.3 294.0 L1939.4 292.1 L1941.6 290.1 L1943.7 288.2 L1945.8 286.2 L1948.0 284.2 L1950.1 282.3 L1952.3 280.3 L1954.4 278.4 L1956.6 276.4 L1958.7 274.4 L1960.8 272.5 L1963.0 270.4 L1965.1 268.3 L1967.3 266.2 L1969.4 264.0 L1971.6 261.9 L1973.7 259.8 L1975.8 257.6 L1978.0 255.5 L1980.1 253.4 L1982.3 251.2 L1984.4 249.1 L1986.5 246.9 L1988.7 244.7 L1990.8 242.6 L1993.0 240.4 L1995.1 238.3 L1997.3 236.1 L1999.4 233.9 L2001.5 231.8 L2003.7 229.2 L2005.8 226.5 L2008.0 223.8 L2010.1 221.0 L2012.3 218.3 L2014.4 215.6 L2016.5 212.9 L2018.7 210.2 L2020.8 207.5 L2023.0 205.0 L2025.1 202.5 L2027.3 200.0 L2029.4 197.5 L2031.5 195.0 L2033.7 192.5 L2035.8 190.0 L2038.0 187.5 L2040.1 185.0 L2042.2 182.4 L2044.4 179.7 L2046.5 177.1 L2048.7 174.4 L2050.8 171.7 L2053.0 169.1 L2055.1 166.4 L2057.2 163.7 L2059.4 161.1 L2061.5 158.5 L2063.7 156.0 L2065.8 153.5 L2068.0 151.0 L2070.1 148.4 L2072.2 145.9 L2074.4 143.4 L2076.5 140.9 L2078.7 138.4 L2080.8 135.9 L2082.9 133.7 L2085.1 131.6 L2087.2 129.4 L2089.4 127.2 L2091.5 125.1 L2093.7 122.9 L2095.8 120.7 L2097.9 118.6 L2100.1 116.4 L2102.2 114.5 L2104.4 112.7 L2106.5 110.9 L2108.7 109.2 L2110.8 107.4 L2112.9 105.6 L2115.1 103.8 L2117.2 102.1 L2119.4 100.3 L2121.5 98.5 L2123.7 97.0 L2125.8 95.4 L2127.9 93.9 L2130.1 92.3 L2132.2 90.7 L2134.4 89.2 L2136.5 87.6 L2138.6 86.1 L2140.8 84.7 L2142.9 83.5 L2145.1 82.2 L2147.2 81.0 L2149.4 79.8 L2151.5 78.6" stroke="#555" stroke-width="2.5" fill="none"/>
<g fill="#6a6a6a"><circle cx="1725.0" cy="394.1" r="5"/><circle cx="1749.4" cy="392.4" r="5"/><circle cx="1766.9" cy="390.8" r="5"/><circle cx="1784.9" cy="388.5" r="5"/><circle cx="1802.8" cy="383.9" r="5"/><circle cx="1818.3" cy="378.1" r="5"/><circle cx="1830.5" cy="372.8" r="5"/><circle cx="1840.5" cy="368.3" r="5"/><circle cx="1850.5" cy="362.8" r="5"/><circle cx="1860.6" cy="357.2" r="5"/><circle cx="1870.6" cy="350.7" r="5"/><circle cx="1880.6" cy="344.0" r="5"/><circle cx="1890.7" cy="335.8" r="5"/><circle cx="1900.7" cy="327.6" r="5"/><circle cx="1910.7" cy="318.4" r="5"/><circle cx="1920.8" cy="309.2" r="5"/><circle cx="1930.8" cy="300.0" r="5"/><circle cx="1940.8" cy="290.8" r="5"/><circle cx="1950.9" cy="281.6" r="5"/><circle cx="1960.9" cy="272.4" r="5"/><circle cx="1970.9" cy="262.5" r="5"/><circle cx="1981.0" cy="252.5" r="5"/><circle cx="1991.0" cy="242.4" r="5"/><circle cx="2001.0" cy="232.3" r="5"/><circle cx="2011.0" cy="219.9" r="5"/><circle cx="2021.1" cy="207.2" r="5"/><circle cx="2031.1" cy="195.5" r="5"/><circle cx="2041.1" cy="183.7" r="5"/><circle cx="2051.2" cy="171.3" r="5"/><circle cx="2061.2" cy="158.8" r="5"/><circle cx="2071.2" cy="147.1" r="5"/><circle cx="2081.3" cy="135.4" r="5"/><circle cx="2091.3" cy="125.3" r="5"/><circle cx="2101.3" cy="115.2" r="5"/><circle cx="2111.4" cy="106.9" r="5"/><circle cx="2121.4" cy="98.6" r="5"/><circle cx="2131.4" cy="91.3" r="5"/><circle cx="2141.5" cy="84.3" r="5"/><circle cx="2151.5" cy="78.6" r="5"/></g>
<path d="M1663 82.4 H1700" stroke="#777" stroke-width="3"/>
<circle cx="1681" cy="82.4" r="6" fill="#6a6a6a"/>
<text x="1723.0" y="89.4" style="font-family:'Liberation Sans',sans-serif;font-size:28px" fill="#222" stroke="#222" stroke-width="0.5" text-anchor="start" >Resovist®</text>
<path d="M1663 126.5 H1700" stroke="#777" stroke-width="3"/>
<rect x="1675" y="120.5" width="12" height="12" fill="#ee2a2a"/>
<text x="1723.0" y="133.5" style="font-family:'Liberation Sans',sans-serif;font-size:28px" fill="#222" stroke="#222" stroke-width="0.5" text-anchor="start" >IONP-ACM</text>
<path d="M1663 170.6 H1700" stroke="#777" stroke-width="3"/>
<path d="M1675 175.6 L1681 164.6 L1687 175.6Z" fill="#3b8fd8"/>
<text x="1723.0" y="177.6" style="font-family:'Liberation Sans',sans-serif;font-size:28px" fill="#222" stroke="#222" stroke-width="0.5" text-anchor="start" >IONPs</text>
<text x="352.0" y="609.0" style="font-family:'Liberation Sans',sans-serif;font-size:39.5px" fill="#111" stroke="#111" stroke-width="0.5" text-anchor="middle" >23°C</text>
<path d="M133 625 H573" stroke="#222" stroke-width="2.5"/>
<text x="178.0" y="663.0" style="font-family:'Liberation Sans',sans-serif;font-size:25px" fill="#111" stroke="#111" stroke-width="0.5" text-anchor="middle" >MRI</text>
<text x="351.0" y="663.0" style="font-family:'Liberation Sans',sans-serif;font-size:25px" fill="#111" stroke="#111" stroke-width="0.5" text-anchor="middle" >MPI</text>
<text x="527.0" y="663.0" style="font-family:'Liberation Sans',sans-serif;font-size:25px" fill="#111" stroke="#111" stroke-width="0.5" text-anchor="middle" >Merge</text>
<clipPath id="m23a"><rect x="93.7" y="672.5" width="167.8" height="395.5"/></clipPath><g clip-path="url(#m23a)"><rect x="93.7" y="672.5" width="167.8" height="395.5" fill="#000"/><g transform="translate(93.7,672.5)"><g filter="url(#tex)"><rect x="0" y="0" width="167.8" height="395.5" fill="#000"/><rect x="0" y="19" width="167.8" height="337" fill="#0a0a0a"/><g filter="url(#blur6)"><ellipse cx="22" cy="70" rx="20" ry="40" fill="#2c2c2c"/><ellipse cx="145" cy="85" rx="20" ry="55" fill="#2a2a2a"/><ellipse cx="6" cy="270" rx="7" ry="80" fill="#222"/><ellipse cx="157" cy="270" rx="8" ry="80" fill="#262626"/></g><g filter="url(#blur1)"><path d="M69 21 C85 18 100 18 110 22 C125 32 134 50 134 62 C132 80 125 92 122 100 C128 110 138 120 145 130 C153 145 157 165 156 190 C150 230 147 290 146 353 L17 353 C14 300 12 240 11 200 C4 185 2 170 4 158 C8 140 18 125 30 115 C35 100 36 85 37 70 C40 45 52 28 69 21Z" fill="#a9a9a9"/></g><g filter="url(#blur2)"><path d="M66 24 C78 18 100 18 112 26 C124 40 132 62 128 82 C122 100 104 112 84 113 C68 110 56 98 50 80 C46 60 52 36 66 24Z" fill="#c4c4c4"/><ellipse cx="30" cy="162" rx="26" ry="36" fill="#bebebe"/><ellipse cx="136" cy="162" rx="21" ry="38" fill="#bababa"/><ellipse cx="84" cy="135" rx="30" ry="18" fill="#b2b2b2"/><path d="M60 171 L79 149 L98 171Z" fill="#8e8e8e"/><path d="M76 116 L83 116 L81 150 L78 150Z" fill="#808080"/><path d="M40 92 L32 112 L46 108Z M126 84 L140 100 L122 102Z" fill="#555"/><path d="M20 190 C60 182 110 182 148 192 L148 204 C110 196 60 196 18 204Z" fill="#b6b6b6"/><ellipse cx="70" cy="322" rx="36" ry="31" fill="#8e8e8e"/></g><g filter="url(#blur4)"><path d="M36 212 C48 206 64 206 72 212 C75 240 74 270 70 290 C62 298 48 300 36 294 C28 280 22 262 24 240 C26 228 30 218 36 212Z" fill="#363636"/><path d="M88 200 C100 194 118 196 128 204 C138 218 142 244 140 268 C138 280 132 288 124 290 C110 288 98 284 92 280 C88 256 85 226 88 200Z" fill="#2e2e2e"/></g><g filter="url(#blur1)"><path d="M78 206 V294" stroke="#8a8a8a" stroke-width="9"/><path d="M35 258 C48 252 60 254 70 260" stroke="#a8a8a8" stroke-width="3.5" fill="none"/><path d="M38 266 C50 262 60 264 70 268" stroke="#909090" stroke-width="2.5" fill="none"/><ellipse cx="114" cy="310" rx="18" ry="25" fill="#a4a4a4" stroke="#2a2a2a" stroke-width="2.5"/><g stroke="#707070" stroke-width="2" fill="none" opacity="0.8"><path d="M95 215 C110 225 120 240 128 262"/><path d="M100 240 C112 250 118 262 122 280"/><path d="M32 230 C45 240 55 246 66 248"/><path d="M30 280 C45 276 55 278 68 284"/><path d="M120 206 C128 220 134 236 136 250"/></g><path d="M9 200 C11 260 12 300 11 350" stroke="#9a9a9a" stroke-width="1.8" fill="none"/><path d="M152 200 C151 260 152 300 152 350" stroke="#8a8a8a" stroke-width="1.8" fill="none"/><path d="M51 29 C54 50 56 70 58 82" stroke="#444" stroke-width="2" fill="none"/><path d="M32 125 C25 140 20 150 18 160" stroke="#e0e0e0" stroke-width="2" fill="none"/></g><rect x="0" y="356" width="167.8" height="39.5" fill="#000"/><rect x="0" y="0" width="167.8" height="19" fill="#000"/></g></g></g>
<rect x="268" y="672.5" width="167.5" height="395.5" fill="#000"/>
<g clip-path="url(#mpi23)"><clipPath id="mpi23"><rect x="268" y="672.5" width="167.5" height="395.5"/></clipPath><g filter="url(#blur1)"><g shape-rendering="crispEdges"><rect x="316.86" y="924.70" width="7.38" height="7.35" fill="#701616"/><rect x="323.84" y="924.70" width="7.38" height="7.35" fill="#701616"/><rect x="330.82" y="924.70" width="7.38" height="7.35" fill="#3c0e0e"/><rect x="337.80" y="924.70" width="7.38" height="7.35" fill="#701616"/><rect x="344.78" y="924.70" width="7.38" height="7.35" fill="#701616"/><rect x="316.86" y="931.65" width="7.38" height="7.35" fill="#d82020"/><rect x="323.84" y="931.65" width="7.38" height="7.35" fill="#e6261f"/><rect x="330.82" y="931.65" width="7.38" height="7.35" fill="#e6261f"/><rect x="337.80" y="931.65" width="7.38" height="7.35" fill="#e6261f"/><rect x="344.78" y="931.65" width="7.38" height="7.35" fill="#e6261f"/><rect x="351.76" y="931.65" width="7.38" height="7.35" fill="#e6261f"/><rect x="358.74" y="931.65" width="7.38" height="7.35" fill="#e6261f"/><rect x="365.72" y="931.65" width="7.38" height="7.35" fill="#d82020"/><rect x="372.70" y="931.65" width="7.38" height="7.35" fill="#b01c1c"/><rect x="379.68" y="931.65" width="7.38" height="7.35" fill="#701616"/><rect x="302.90" y="938.60" width="7.38" height="7.35" fill="#b01c1c"/><rect x="309.88" y="938.60" width="7.38" height="7.35" fill="#d82020"/><rect x="316.86" y="938.60" width="7.38" height="7.35" fill="#e6261f"/><rect x="323.84" y="938.60" width="7.38" height="7.35" fill="#f8e03a"/><rect x="330.82" y="938.60" width="7.38" height="7.35" fill="#f8e03a"/><rect x="337.80" y="938.60" width="7.38" height="7.35" fill="#f8e03a"/><rect x="344.78" y="938.60" width="7.38" height="7.35" fill="#f4aa2c"/><rect x="351.76" y="938.60" width="7.38" height="7.35" fill="#e6261f"/><rect x="358.74" y="938.60" width="7.38" height="7.35" fill="#e6261f"/><rect x="365.72" y="938.60" width="7.38" height="7.35" fill="#e6261f"/><rect x="372.70" y="938.60" width="7.38" height="7.35" fill="#d82020"/><rect x="379.68" y="938.60" width="7.38" height="7.35" fill="#b01c1c"/><rect x="386.66" y="938.60" width="7.38" height="7.35" fill="#701616"/><rect x="295.92" y="945.55" width="7.38" height="7.35" fill="#b01c1c"/><rect x="302.90" y="945.55" width="7.38" height="7.35" fill="#d82020"/><rect x="309.88" y="945.55" width="7.38" height="7.35" fill="#e6261f"/><rect x="316.86" y="945.55" width="7.38" height="7.35" fill="#f8e03a"/><rect x="323.84" y="945.55" width="7.38" height="7.35" fill="#f8e03a"/><rect x="330.82" y="945.55" width="7.38" height="7.35" fill="#fbf28a"/><rect x="337.80" y="945.55" width="7.38" height="7.35" fill="#fbf28a"/><rect x="344.78" y="945.55" width="7.38" height="7.35" fill="#f8e03a"/><rect x="351.76" y="945.55" width="7.38" height="7.35" fill="#f8e03a"/><rect x="358.74" y="945.55" width="7.38" height="7.35" fill="#e6261f"/><rect x="365.72" y="945.55" width="7.38" height="7.35" fill="#e6261f"/><rect x="372.70" y="945.55" width="7.38" height="7.35" fill="#e6261f"/><rect x="379.68" y="945.55" width="7.38" height="7.35" fill="#d82020"/><rect x="386.66" y="945.55" width="7.38" height="7.35" fill="#b01c1c"/><rect x="393.64" y="945.55" width="7.38" height="7.35" fill="#701616"/><rect x="288.94" y="952.50" width="7.38" height="7.35" fill="#b01c1c"/><rect x="295.92" y="952.50" width="7.38" height="7.35" fill="#d82020"/><rect x="302.90" y="952.50" width="7.38" height="7.35" fill="#e6261f"/><rect x="309.88" y="952.50" width="7.38" height="7.35" fill="#f4aa2c"/><rect x="316.86" y="952.50" width="7.38" height="7.35" fill="#f8e03a"/><rect x="323.84" y="952.50" width="7.38" height="7.35" fill="#fbf28a"/><rect x="330.82" y="952.50" width="7.38" height="7.35" fill="#fffcee"/><rect x="337.80" y="952.50" width="7.38" height="7.35" fill="#fffcee"/><rect x="344.78" y="952.50" width="7.38" height="7.35" fill="#f8e03a"/><rect x="351.76" y="952.50" width="7.38" height="7.35" fill="#f8e03a"/><rect x="358.74" y="952.50" width="7.38" height="7.35" fill="#f4aa2c"/><rect x="365.72" y="952.50" width="7.38" height="7.35" fill="#e6261f"/><rect x="372.70" y="952.50" width="7.38" height="7.35" fill="#e6261f"/><rect x="379.68" y="952.50" width="7.38" height="7.35" fill="#e6261f"/><rect x="386.66" y="952.50" width="7.38" height="7.35" fill="#d82020"/><rect x="393.64" y="952.50" width="7.38" height="7.35" fill="#b01c1c"/><rect x="400.62" y="952.50" width="7.38" height="7.35" fill="#701616"/><rect x="281.96" y="959.45" width="7.38" height="7.35" fill="#b01c1c"/><rect x="288.94" y="959.45" width="7.38" height="7.35" fill="#d82020"/><rect x="295.92" y="959.45" width="7.38" height="7.35" fill="#e6261f"/><rect x="302.90" y="959.45" width="7.38" height="7.35" fill="#e6261f"/><rect x="309.88" y="959.45" width="7.38" height="7.35" fill="#f8e03a"/><rect x="316.86" y="959.45" width="7.38" height="7.35" fill="#f8e03a"/><rect x="323.84" y="959.45" width="7.38" height="7.35" fill="#f8e03a"/><rect x="330.82" y="959.45" width="7.38" height="7.35" fill="#fbf28a"/><rect x="337.80" y="959.45" width="7.38" height="7.35" fill="#f8e03a"/><rect x="344.78" y="959.45" width="7.38" height="7.35" fill="#f8e03a"/><rect x="351.76" y="959.45" width="7.38" height="7.35" fill="#f8e03a"/><rect x="358.74" y="959.45" width="7.38" height="7.35" fill="#f8e03a"/><rect x="365.72" y="959.45" width="7.38" height="7.35" fill="#f4aa2c"/><rect x="372.70" y="959.45" width="7.38" height="7.35" fill="#e6261f"/><rect x="379.68" y="959.45" width="7.38" height="7.35" fill="#e6261f"/><rect x="386.66" y="959.45" width="7.38" height="7.35" fill="#e6261f"/><rect x="393.64" y="959.45" width="7.38" height="7.35" fill="#d82020"/><rect x="400.62" y="959.45" width="7.38" height="7.35" fill="#b01c1c"/><rect x="274.98" y="966.40" width="7.38" height="7.35" fill="#701616"/><rect x="281.96" y="966.40" width="7.38" height="7.35" fill="#b01c1c"/><rect x="288.94" y="966.40" width="7.38" height="7.35" fill="#d82020"/><rect x="295.92" y="966.40" width="7.38" height="7.35" fill="#e6261f"/><rect x="302.90" y="966.40" width="7.38" height="7.35" fill="#e6261f"/><rect x="309.88" y="966.40" width="7.38" height="7.35" fill="#f4aa2c"/><rect x="316.86" y="966.40" width="7.38" height="7.35" fill="#f8e03a"/><rect x="323.84" y="966.40" width="7.38" height="7.35" fill="#f8e03a"/><rect x="330.82" y="966.40" width="7.38" height="7.35" fill="#f8e03a"/><rect x="337.80" y="966.40" width="7.38" height="7.35" fill="#f8e03a"/><rect x="344.78" y="966.40" width="7.38" height="7.35" fill="#f8e03a"/><rect x="351.76" y="966.40" width="7.38" height="7.35" fill="#f8e03a"/><rect x="358.74" y="966.40" width="7.38" height="7.35" fill="#f8e03a"/><rect x="365.72" y="966.40" width="7.38" height="7.35" fill="#f8e03a"/><rect x="372.70" y="966.40" width="7.38" height="7.35" fill="#f4aa2c"/><rect x="379.68" y="966.40" width="7.38" height="7.35" fill="#e6261f"/><rect x="386.66" y="966.40" width="7.38" height="7.35" fill="#e6261f"/><rect x="393.64" y="966.40" width="7.38" height="7.35" fill="#e6261f"/><rect x="400.62" y="966.40" width="7.38" height="7.35" fill="#e6261f"/><rect x="407.60" y="966.40" width="7.38" height="7.35" fill="#d82020"/><rect x="414.58" y="966.40" width="7.38" height="7.35" fill="#b01c1c"/><rect x="274.98" y="973.35" width="7.38" height="7.35" fill="#b01c1c"/><rect x="281.96" y="973.35" width="7.38" height="7.35" fill="#d82020"/><rect x="288.94" y="973.35" width="7.38" height="7.35" fill="#d82020"/><rect x="295.92" y="973.35" width="7.38" height="7.35" fill="#e6261f"/><rect x="302.90" y="973.35" width="7.38" height="7.35" fill="#e6261f"/><rect x="309.88" y="973.35" width="7.38" height="7.35" fill="#f4aa2c"/><rect x="316.86" y="973.35" width="7.38" height="7.35" fill="#f4aa2c"/><rect x="323.84" y="973.35" width="7.38" height="7.35" fill="#f8e03a"/><rect x="330.82" y="973.35" width="7.38" height="7.35" fill="#f8e03a"/><rect x="337.80" y="973.35" width="7.38" height="7.35" fill="#f8e03a"/><rect x="344.78" y="973.35" width="7.38" height="7.35" fill="#f8e03a"/><rect x="351.76" y="973.35" width="7.38" height="7.35" fill="#f8e03a"/><rect x="358.74" y="973.35" width="7.38" height="7.35" fill="#f8e03a"/><rect x="365.72" y="973.35" width="7.38" height="7.35" fill="#f8e03a"/><rect x="372.70" y="973.35" width="7.38" height="7.35" fill="#f8e03a"/><rect x="379.68" y="973.35" width="7.38" height="7.35" fill="#f4aa2c"/><rect x="386.66" y="973.35" width="7.38" height="7.35" fill="#f4aa2c"/><rect x="393.64" y="973.35" width="7.38" height="7.35" fill="#f4aa2c"/><rect x="400.62" y="973.35" width="7.38" height="7.35" fill="#f4aa2c"/><rect x="407.60" y="973.35" width="7.38" height="7.35" fill="#e6261f"/><rect x="414.58" y="973.35" width="7.38" height="7.35" fill="#e6261f"/><rect x="421.56" y="973.35" width="7.38" height="7.35" fill="#d82020"/><rect x="428.54" y="973.35" width="7.38" height="7.35" fill="#d82020"/><rect x="268.00" y="980.30" width="7.38" height="7.35" fill="#701616"/><rect x="274.98" y="980.30" width="7.38" height="7.35" fill="#b01c1c"/><rect x="281.96" y="980.30" width="7.38" height="7.35" fill="#d82020"/><rect x="288.94" y="980.30" width="7.38" height="7.35" fill="#e6261f"/><rect x="295.92" y="980.30" width="7.38" height="7.35" fill="#e6261f"/><rect x="302.90" y="980.30" width="7.38" height="7.35" fill="#e6261f"/><rect x="309.88" y="980.30" width="7.38" height="7.35" fill="#e6261f"/><rect x="316.86" y="980.30" width="7.38" height="7.35" fill="#f4aa2c"/><rect x="323.84" y="980.30" width="7.38" height="7.35" fill="#f4aa2c"/><rect x="330.82" y="980.30" width="7.38" height="7.35" fill="#f8e03a"/><rect x="337.80" y="980.30" width="7.38" height="7.35" fill="#f8e03a"/><rect x="344.78" y="980.30" width="7.38" height="7.35" fill="#f8e03a"/><rect x="351.76" y="980.30" width="7.38" height="7.35" fill="#f8e03a"/><rect x="358.74" y="980.30" width="7.38" height="7.35" fill="#f8e03a"/><rect x="365.72" y="980.30" width="7.38" height="7.35" fill="#f8e03a"/><rect x="372.70" y="980.30" width="7.38" height="7.35" fill="#f8e03a"/><rect x="379.68" y="980.30" width="7.38" height="7.35" fill="#f8e03a"/><rect x="386.66" y="980.30" width="7.38" height="7.35" fill="#f8e03a"/><rect x="393.64" y="980.30" width="7.38" height="7.35" fill="#f8e03a"/><rect x="400.62" y="980.30" width="7.38" height="7.35" fill="#f8e03a"/><rect x="407.60" y="980.30" width="7.38" height="7.35" fill="#f4aa2c"/><rect x="414.58" y="980.30" width="7.38" height="7.35" fill="#e6261f"/><rect x="421.56" y="980.30" width="7.38" height="7.35" fill="#e6261f"/><rect x="428.54" y="980.30" width="7.38" height="7.35" fill="#e6261f"/><rect x="268.00" y="987.25" width="7.38" height="7.35" fill="#b01c1c"/><rect x="274.98" y="987.25" width="7.38" height="7.35" fill="#b01c1c"/><rect x="281.96" y="987.25" width="7.38" height="7.35" fill="#d82020"/><rect x="288.94" y="987.25" width="7.38" height="7.35" fill="#d82020"/><rect x="295.92" y="987.25" width="7.38" height="7.35" fill="#3c0e0e"/><rect x="302.90" y="987.25" width="7.38" height="7.35" fill="#d82020"/><rect x="309.88" y="987.25" width="7.38" height="7.35" fill="#e6261f"/><rect x="316.86" y="987.25" width="7.38" height="7.35" fill="#e6261f"/><rect x="323.84" y="987.25" width="7.38" height="7.35" fill="#f4aa2c"/><rect x="330.82" y="987.25" width="7.38" height="7.35" fill="#f4aa2c"/><rect x="337.80" y="987.25" width="7.38" height="7.35" fill="#f8e03a"/><rect x="344.78" y="987.25" width="7.38" height="7.35" fill="#f8e03a"/><rect x="351.76" y="987.25" width="7.38" height="7.35" fill="#f8e03a"/><rect x="358.74" y="987.25" width="7.38" height="7.35" fill="#f8e03a"/><rect x="365.72" y="987.25" width="7.38" height="7.35" fill="#f8e03a"/><rect x="372.70" y="987.25" width="7.38" height="7.35" fill="#fbf28a"/><rect x="379.68" y="987.25" width="7.38" height="7.35" fill="#fbf28a"/><rect x="386.66" y="987.25" width="7.38" height="7.35" fill="#fbf28a"/><rect x="393.64" y="987.25" width="7.38" height="7.35" fill="#fbf28a"/><rect x="400.62" y="987.25" width="7.38" height="7.35" fill="#fbf28a"/><rect x="407.60" y="987.25" width="7.38" height="7.35" fill="#f8e03a"/><rect x="414.58" y="987.25" width="7.38" height="7.35" fill="#f8e03a"/><rect x="421.56" y="987.25" width="7.38" height="7.35" fill="#f8e03a"/><rect x="428.54" y="987.25" width="7.38" height="7.35" fill="#f8e03a"/><rect x="268.00" y="994.20" width="7.38" height="7.35" fill="#b01c1c"/><rect x="274.98" y="994.20" width="7.38" height="7.35" fill="#d82020"/><rect x="281.96" y="994.20" width="7.38" height="7.35" fill="#d82020"/><rect x="288.94" y="994.20" width="7.38" height="7.35" fill="#d82020"/><rect x="295.92" y="994.20" width="7.38" height="7.35" fill="#e6261f"/><rect x="302.90" y="994.20" width="7.38" height="7.35" fill="#e6261f"/><rect x="309.88" y="994.20" width="7.38" height="7.35" fill="#e6261f"/><rect x="316.86" y="994.20" width="7.38" height="7.35" fill="#e6261f"/><rect x="323.84" y="994.20" width="7.38" height="7.35" fill="#f4aa2c"/><rect x="330.82" y="994.20" width="7.38" height="7.35" fill="#f4aa2c"/><rect x="337.80" y="994.20" width="7.38" height="7.35" fill="#f4aa2c"/><rect x="344.78" y="994.20" width="7.38" height="7.35" fill="#f8e03a"/><rect x="351.76" y="994.20" width="7.38" height="7.35" fill="#f8e03a"/><rect x="358.74" y="994.20" width="7.38" height="7.35" fill="#f8e03a"/><rect x="365.72" y="994.20" width="7.38" height="7.35" fill="#f8e03a"/><rect x="372.70" y="994.20" width="7.38" height="7.35" fill="#fbf28a"/><rect x="379.68" y="994.20" width="7.38" height="7.35" fill="#fbf28a"/><rect x="386.66" y="994.20" width="7.38" height="7.35" fill="#fbf28a"/><rect x="393.64" y="994.20" width="7.38" height="7.35" fill="#fffcee"/><rect x="400.62" y="994.20" width="7.38" height="7.35" fill="#fffcee"/><rect x="407.60" y="994.20" width="7.38" height="7.35" fill="#fbf28a"/><rect x="414.58" y="994.20" width="7.38" height="7.35" fill="#f8e03a"/><rect x="421.56" y="994.20" width="7.38" height="7.35" fill="#f8e03a"/><rect x="428.54" y="994.20" width="7.38" height="7.35" fill="#f8e03a"/><rect x="268.00" y="1001.15" width="7.38" height="7.35" fill="#d82020"/><rect x="274.98" y="1001.15" width="7.38" height="7.35" fill="#d82020"/><rect x="281.96" y="1001.15" width="7.38" height="7.35" fill="#e6261f"/><rect x="288.94" y="1001.15" width="7.38" height="7.35" fill="#e6261f"/><rect x="295.92" y="1001.15" width="7.38" height="7.35" fill="#e6261f"/><rect x="302.90" y="1001.15" width="7.38" height="7.35" fill="#e6261f"/><rect x="309.88" y="1001.15" width="7.38" height="7.35" fill="#e6261f"/><rect x="316.86" y="1001.15" width="7.38" height="7.35" fill="#e6261f"/><rect x="323.84" y="1001.15" width="7.38" height="7.35" fill="#f4aa2c"/><rect x="330.82" y="1001.15" width="7.38" height="7.35" fill="#f8e03a"/><rect x="337.80" y="1001.15" width="7.38" height="7.35" fill="#f8e03a"/><rect x="344.78" y="1001.15" width="7.38" height="7.35" fill="#f4aa2c"/><rect x="351.76" y="1001.15" width="7.38" height="7.35" fill="#f4aa2c"/><rect x="358.74" y="1001.15" width="7.38" height="7.35" fill="#f8e03a"/><rect x="365.72" y="1001.15" width="7.38" height="7.35" fill="#f8e03a"/><rect x="372.70" y="1001.15" width="7.38" height="7.35" fill="#f8e03a"/><rect x="379.68" y="1001.15" width="7.38" height="7.35" fill="#fbf28a"/><rect x="386.66" y="1001.15" width="7.38" height="7.35" fill="#fbf28a"/><rect x="393.64" y="1001.15" width="7.38" height="7.35" fill="#fffcee"/><rect x="400.62" y="1001.15" width="7.38" height="7.35" fill="#fffcee"/><rect x="407.60" y="1001.15" width="7.38" height="7.35" fill="#fbf28a"/><rect x="414.58" y="1001.15" width="7.38" height="7.35" fill="#f8e03a"/><rect x="421.56" y="1001.15" width="7.38" height="7.35" fill="#f8e03a"/><rect x="428.54" y="1001.15" width="7.38" height="7.35" fill="#f8e03a"/><rect x="268.00" y="1008.10" width="7.38" height="7.35" fill="#e6261f"/><rect x="274.98" y="1008.10" width="7.38" height="7.35" fill="#e6261f"/><rect x="281.96" y="1008.10" width="7.38" height="7.35" fill="#e6261f"/><rect x="288.94" y="1008.10" width="7.38" height="7.35" fill="#ee5a24"/><rect x="295.92" y="1008.10" width="7.38" height="7.35" fill="#e6261f"/><rect x="302.90" y="1008.10" width="7.38" height="7.35" fill="#e6261f"/><rect x="309.88" y="1008.10" width="7.38" height="7.35" fill="#e6261f"/><rect x="316.86" y="1008.10" width="7.38" height="7.35" fill="#e6261f"/><rect x="323.84" y="1008.10" width="7.38" height="7.35" fill="#e6261f"/><rect x="330.82" y="1008.10" width="7.38" height="7.35" fill="#f4aa2c"/><rect x="337.80" y="1008.10" width="7.38" height="7.35" fill="#f4aa2c"/><rect x="344.78" y="1008.10" width="7.38" height="7.35" fill="#f4aa2c"/><rect x="351.76" y="1008.10" width="7.38" height="7.35" fill="#f4aa2c"/><rect x="358.74" y="1008.10" width="7.38" height="7.35" fill="#f4aa2c"/><rect x="365.72" y="1008.10" width="7.38" height="7.35" fill="#f4aa2c"/><rect x="372.70" y="1008.10" width="7.38" height="7.35" fill="#f4aa2c"/><rect x="379.68" y="1008.10" width="7.38" height="7.35" fill="#f8e03a"/><rect x="386.66" y="1008.10" width="7.38" height="7.35" fill="#f8e03a"/><rect x="393.64" y="1008.10" width="7.38" height="7.35" fill="#f8e03a"/><rect x="400.62" y="1008.10" width="7.38" height="7.35" fill="#f8e03a"/><rect x="407.60" y="1008.10" width="7.38" height="7.35" fill="#f8e03a"/><rect x="414.58" y="1008.10" width="7.38" height="7.35" fill="#f8e03a"/><rect x="421.56" y="1008.10" width="7.38" height="7.35" fill="#f8e03a"/><rect x="428.54" y="1008.10" width="7.38" height="7.35" fill="#e6261f"/><rect x="268.00" y="1015.05" width="7.38" height="7.35" fill="#e6261f"/><rect x="274.98" y="1015.05" width="7.38" height="7.35" fill="#ee5a24"/><rect x="281.96" y="1015.05" width="7.38" height="7.35" fill="#f4aa2c"/><rect x="288.94" y="1015.05" width="7.38" height="7.35" fill="#f4aa2c"/><rect x="295.92" y="1015.05" width="7.38" height="7.35" fill="#ee5a24"/><rect x="302.90" y="1015.05" width="7.38" height="7.35" fill="#e6261f"/><rect x="309.88" y="1015.05" width="7.38" height="7.35" fill="#e6261f"/><rect x="316.86" y="1015.05" width="7.38" height="7.35" fill="#e6261f"/><rect x="323.84" y="1015.05" width="7.38" height="7.35" fill="#e6261f"/><rect x="330.82" y="1015.05" width="7.38" height="7.35" fill="#e6261f"/><rect x="337.80" y="1015.05" width="7.38" height="7.35" fill="#e6261f"/><rect x="344.78" y="1015.05" width="7.38" height="7.35" fill="#e6261f"/><rect x="351.76" y="1015.05" width="7.38" height="7.35" fill="#e6261f"/><rect x="358.74" y="1015.05" width="7.38" height="7.35" fill="#e6261f"/><rect x="365.72" y="1015.05" width="7.38" height="7.35" fill="#e6261f"/><rect x="372.70" y="1015.05" width="7.38" height="7.35" fill="#e6261f"/><rect x="379.68" y="1015.05" width="7.38" height="7.35" fill="#e6261f"/><rect x="386.66" y="1015.05" width="7.38" height="7.35" fill="#e6261f"/><rect x="393.64" y="1015.05" width="7.38" height="7.35" fill="#e6261f"/><rect x="400.62" y="1015.05" width="7.38" height="7.35" fill="#e6261f"/><rect x="407.60" y="1015.05" width="7.38" height="7.35" fill="#e6261f"/><rect x="414.58" y="1015.05" width="7.38" height="7.35" fill="#e6261f"/><rect x="421.56" y="1015.05" width="7.38" height="7.35" fill="#e6261f"/><rect x="428.54" y="1015.05" width="7.38" height="7.35" fill="#d82020"/><rect x="268.00" y="1022.00" width="7.38" height="7.35" fill="#e6261f"/><rect x="274.98" y="1022.00" width="7.38" height="7.35" fill="#e6261f"/><rect x="281.96" y="1022.00" width="7.38" height="7.35" fill="#f4aa2c"/><rect x="288.94" y="1022.00" width="7.38" height="7.35" fill="#f4aa2c"/><rect x="295.92" y="1022.00" width="7.38" height="7.35" fill="#e6261f"/><rect x="302.90" y="1022.00" width="7.38" height="7.35" fill="#e6261f"/><rect x="309.88" y="1022.00" width="7.38" height="7.35" fill="#e6261f"/><rect x="316.86" y="1022.00" width="7.38" height="7.35" fill="#d82020"/><rect x="323.84" y="1022.00" width="7.38" height="7.35" fill="#e6261f"/><rect x="330.82" y="1022.00" width="7.38" height="7.35" fill="#e6261f"/><rect x="337.80" y="1022.00" width="7.38" height="7.35" fill="#d82020"/><rect x="344.78" y="1022.00" width="7.38" height="7.35" fill="#b01c1c"/><rect x="351.76" y="1022.00" width="7.38" height="7.35" fill="#701616"/><rect x="358.74" y="1022.00" width="7.38" height="7.35" fill="#3c0e0e"/><rect x="268.00" y="1028.95" width="7.38" height="7.35" fill="#e6261f"/><rect x="274.98" y="1028.95" width="7.38" height="7.35" fill="#e6261f"/><rect x="281.96" y="1028.95" width="7.38" height="7.35" fill="#e6261f"/><rect x="288.94" y="1028.95" width="7.38" height="7.35" fill="#e6261f"/><rect x="295.92" y="1028.95" width="7.38" height="7.35" fill="#e6261f"/><rect x="302.90" y="1028.95" width="7.38" height="7.35" fill="#d82020"/><rect x="309.88" y="1028.95" width="7.38" height="7.35" fill="#d82020"/><rect x="268.00" y="1035.90" width="7.38" height="7.35" fill="#e6261f"/><rect x="274.98" y="1035.90" width="7.38" height="7.35" fill="#e6261f"/><rect x="281.96" y="1035.90" width="7.38" height="7.35" fill="#d82020"/><rect x="288.94" y="1035.90" width="7.38" height="7.35" fill="#d82020"/><rect x="295.92" y="1035.90" width="7.38" height="7.35" fill="#b01c1c"/><rect x="268.00" y="1042.85" width="7.38" height="7.35" fill="#d82020"/><rect x="274.98" y="1042.85" width="7.38" height="7.35" fill="#b01c1c"/><rect x="281.96" y="1042.85" width="7.38" height="7.35" fill="#b01c1c"/><rect x="288.94" y="1042.85" width="7.38" height="7.35" fill="#701616"/><rect x="268.00" y="1049.80" width="7.38" height="7.35" fill="#701616"/><rect x="274.98" y="1049.80" width="7.38" height="7.35" fill="#3c0e0e"/></g></g></g>
<clipPath id="m23b"><rect x="441.8" y="672.5" width="172.6" height="395.5"/></clipPath><g clip-path="url(#m23b)"><rect x="441.8" y="672.5" width="172.6" height="395.5" fill="#000"/><g transform="translate(441.8,672.5)"><g filter="url(#tex)"><rect x="0" y="0" width="172.6" height="395.5" fill="#000"/><rect x="0" y="19" width="172.6" height="337" fill="#0a0a0a"/><g filter="url(#blur6)"><ellipse cx="22" cy="70" rx="20" ry="40" fill="#2c2c2c"/><ellipse cx="145" cy="85" rx="20" ry="55" fill="#2a2a2a"/><ellipse cx="6" cy="270" rx="7" ry="80" fill="#222"/><ellipse cx="157" cy="270" rx="8" ry="80" fill="#262626"/></g><g filter="url(#blur1)"><path d="M69 21 C85 18 100 18 110 22 C125 32 134 50 134 62 C132 80 125 92 122 100 C128 110 138 120 145 130 C153 145 157 165 156 190 C150 230 147 290 146 353 L17 353 C14 300 12 240 11 200 C4 185 2 170 4 158 C8 140 18 125 30 115 C35 100 36 85 37 70 C40 45 52 28 69 21Z" fill="#a9a9a9"/></g><g filter="url(#blur2)"><path d="M66 24 C78 18 100 18 112 26 C124 40 132 62 128 82 C122 100 104 112 84 113 C68 110 56 98 50 80 C46 60 52 36 66 24Z" fill="#c4c4c4"/><ellipse cx="30" cy="162" rx="26" ry="36" fill="#bebebe"/><ellipse cx="136" cy="162" rx="21" ry="38" fill="#bababa"/><ellipse cx="84" cy="135" rx="30" ry="18" fill="#b2b2b2"/><path d="M60 171 L79 149 L98 171Z" fill="#8e8e8e"/><path d="M76 116 L83 116 L81 150 L78 150Z" fill="#808080"/><path d="M40 92 L32 112 L46 108Z M126 84 L140 100 L122 102Z" fill="#555"/><path d="M20 190 C60 182 110 182 148 192 L148 204 C110 196 60 196 18 204Z" fill="#b6b6b6"/><ellipse cx="70" cy="322" rx="36" ry="31" fill="#8e8e8e"/></g><g filter="url(#blur4)"><path d="M36 212 C48 206 64 206 72 212 C75 240 74 270 70 290 C62 298 48 300 36 294 C28 280 22 262 24 240 C26 228 30 218 36 212Z" fill="#363636"/><path d="M88 200 C100 194 118 196 128 204 C138 218 142 244 140 268 C138 280 132 288 124 290 C110 288 98 284 92 280 C88 256 85 226 88 200Z" fill="#2e2e2e"/></g><g filter="url(#blur1)"><path d="M78 206 V294" stroke="#8a8a8a" stroke-width="9"/><path d="M35 258 C48 252 60 254 70 260" stroke="#a8a8a8" stroke-width="3.5" fill="none"/><path d="M38 266 C50 262 60 264 70 268" stroke="#909090" stroke-width="2.5" fill="none"/><ellipse cx="114" cy="310" rx="18" ry="25" fill="#a4a4a4" stroke="#2a2a2a" stroke-width="2.5"/><g stroke="#707070" stroke-width="2" fill="none" opacity="0.8"><path d="M95 215 C110 225 120 240 128 262"/><path d="M100 240 C112 250 118 262 122 280"/><path d="M32 230 C45 240 55 246 66 248"/><path d="M30 280 C45 276 55 278 68 284"/><path d="M120 206 C128 220 134 236 136 250"/></g><path d="M9 200 C11 260 12 300 11 350" stroke="#9a9a9a" stroke-width="1.8" fill="none"/><path d="M152 200 C151 260 152 300 152 350" stroke="#8a8a8a" stroke-width="1.8" fill="none"/><path d="M51 29 C54 50 56 70 58 82" stroke="#444" stroke-width="2" fill="none"/><path d="M32 125 C25 140 20 150 18 160" stroke="#e0e0e0" stroke-width="2" fill="none"/></g><rect x="0" y="356" width="172.6" height="39.5" fill="#000"/><rect x="0" y="0" width="172.6" height="19" fill="#000"/></g><rect x="0" y="19" width="172.6" height="337" fill="#a06050" opacity="0.1"/></g></g>
<g clip-path="url(#m23b)" filter="url(#blur1)"><g shape-rendering="crispEdges"><rect x="492.20" y="924.70" width="7.60" height="7.35" fill="#701616" fill-opacity="0.45"/><rect x="499.40" y="924.70" width="7.60" height="7.35" fill="#701616" fill-opacity="0.45"/><rect x="506.60" y="924.70" width="7.60" height="7.35" fill="#3c0e0e" fill-opacity="0.45"/><rect x="513.80" y="924.70" width="7.60" height="7.35" fill="#701616" fill-opacity="0.45"/><rect x="521.00" y="924.70" width="7.60" height="7.35" fill="#701616" fill-opacity="0.45"/><rect x="492.20" y="931.65" width="7.60" height="7.35" fill="#e6261f" fill-opacity="0.72"/><rect x="499.40" y="931.65" width="7.60" height="7.35" fill="#ee5a24" fill-opacity="0.88"/><rect x="506.60" y="931.65" width="7.60" height="7.35" fill="#ee5a24" fill-opacity="0.88"/><rect x="513.80" y="931.65" width="7.60" height="7.35" fill="#ee5a24" fill-opacity="0.88"/><rect x="521.00" y="931.65" width="7.60" height="7.35" fill="#ee5a24" fill-opacity="0.88"/><rect x="528.20" y="931.65" width="7.60" height="7.35" fill="#ee5a24" fill-opacity="0.88"/><rect x="535.40" y="931.65" width="7.60" height="7.35" fill="#ee5a24" fill-opacity="0.88"/><rect x="542.60" y="931.65" width="7.60" height="7.35" fill="#e6261f" fill-opacity="0.72"/><rect x="549.80" y="931.65" width="7.60" height="7.35" fill="#b01c1c" fill-opacity="0.45"/><rect x="557.00" y="931.65" width="7.60" height="7.35" fill="#701616" fill-opacity="0.45"/><rect x="477.80" y="938.60" width="7.60" height="7.35" fill="#b01c1c" fill-opacity="0.45"/><rect x="485.00" y="938.60" width="7.60" height="7.35" fill="#e6261f" fill-opacity="0.72"/><rect x="492.20" y="938.60" width="7.60" height="7.35" fill="#ee5a24" fill-opacity="0.88"/><rect x="499.40" y="938.60" width="7.60" height="7.35" fill="#fbf28a" fill-opacity="0.88"/><rect x="506.60" y="938.60" width="7.60" height="7.35" fill="#fbf28a" fill-opacity="0.88"/><rect x="513.80" y="938.60" width="7.60" height="7.35" fill="#fbf28a" fill-opacity="0.88"/><rect x="521.00" y="938.60" width="7.60" height="7.35" fill="#f8e03a" fill-opacity="0.88"/><rect x="528.20" y="938.60" width="7.60" height="7.35" fill="#ee5a24" fill-opacity="0.88"/><rect x="535.40" y="938.60" width="7.60" height="7.35" fill="#ee5a24" fill-opacity="0.88"/><rect x="542.60" y="938.60" width="7.60" height="7.35" fill="#ee5a24" fill-opacity="0.88"/><rect x="549.80" y="938.60" width="7.60" height="7.35" fill="#e6261f" fill-opacity="0.72"/><rect x="557.00" y="938.60" width="7.60" height="7.35" fill="#b01c1c" fill-opacity="0.45"/><rect x="564.20" y="938.60" width="7.60" height="7.35" fill="#701616" fill-opacity="0.45"/><rect x="470.60" y="945.55" width="7.60" height="7.35" fill="#b01c1c" fill-opacity="0.45"/><rect x="477.80" y="945.55" width="7.60" height="7.35" fill="#e6261f" fill-opacity="0.72"/><rect x="485.00" y="945.55" width="7.60" height="7.35" fill="#ee5a24" fill-opacity="0.88"/><rect x="492.20" y="945.55" width="7.60" height="7.35" fill="#fbf28a" fill-opacity="0.88"/><rect x="499.40" y="945.55" width="7.60" height="7.35" fill="#fbf28a" fill-opacity="0.88"/><rect x="506.60" y="945.55" width="7.60" height="7.35" fill="#fbf28a" fill-opacity="0.88"/><rect x="513.80" y="945.55" width="7.60" height="7.35" fill="#fbf28a" fill-opacity="0.88"/><rect x="521.00" y="945.55" width="7.60" height="7.35" fill="#fbf28a" fill-opacity="0.88"/><rect x="528.20" y="945.55" width="7.60" height="7.35" fill="#fbf28a" fill-opacity="0.88"/><rect x="535.40" y="945.55" width="7.60" height="7.35" fill="#ee5a24" fill-opacity="0.88"/><rect x="542.60" y="945.55" width="7.60" height="7.35" fill="#ee5a24" fill-opacity="0.88"/><rect x="549.80" y="945.55" width="7.60" height="7.35" fill="#ee5a24" fill-opacity="0.88"/><rect x="557.00" y="945.55" width="7.60" height="7.35" fill="#e6261f" fill-opacity="0.72"/><rect x="564.20" y="945.55" width="7.60" height="7.35" fill="#b01c1c" fill-opacity="0.45"/><rect x="571.40" y="945.55" width="7.60" height="7.35" fill="#701616" fill-opacity="0.45"/><rect x="463.40" y="952.50" width="7.60" height="7.35" fill="#b01c1c" fill-opacity="0.45"/><rect x="470.60" y="952.50" width="7.60" height="7.35" fill="#e6261f" fill-opacity="0.72"/><rect x="477.80" y="952.50" width="7.60" height="7.35" fill="#ee5a24" fill-opacity="0.88"/><rect x="485.00" y="952.50" width="7.60" height="7.35" fill="#f8e03a" fill-opacity="0.88"/><rect x="492.20" y="952.50" width="7.60" height="7.35" fill="#fbf28a" fill-opacity="0.88"/><rect x="499.40" y="952.50" width="7.60" height="7.35" fill="#fbf28a" fill-opacity="0.88"/><rect x="506.60" y="952.50" width="7.60" height="7.35" fill="#fffcee" fill-opacity="0.88"/><rect x="513.80" y="952.50" width="7.60" height="7.35" fill="#fffcee" fill-opacity="0.88"/><rect x="521.00" y="952.50" width="7.60" height="7.35" fill="#fbf28a" fill-opacity="0.88"/><rect x="528.20" y="952.50" width="7.60" height="7.35" fill="#fbf28a" fill-opacity="0.88"/><rect x="535.40" y="952.50" width="7.60" height="7.35" fill="#f8e03a" fill-opacity="0.88"/><rect x="542.60" y="952.50" width="7.60" height="7.35" fill="#ee5a24" fill-opacity="0.88"/><rect x="549.80" y="952.50" width="7.60" height="7.35" fill="#ee5a24" fill-opacity="0.88"/><rect x="557.00" y="952.50" width="7.60" height="7.35" fill="#ee5a24" fill-opacity="0.88"/><rect x="564.20" y="952.50" width="7.60" height="7.35" fill="#e6261f" fill-opacity="0.72"/><rect x="571.40" y="952.50" width="7.60" height="7.35" fill="#b01c1c" fill-opacity="0.45"/><rect x="578.60" y="952.50" width="7.60" height="7.35" fill="#701616" fill-opacity="0.45"/><rect x="456.20" y="959.45" width="7.60" height="7.35" fill="#b01c1c" fill-opacity="0.45"/><rect x="463.40" y="959.45" width="7.60" height="7.35" fill="#e6261f" fill-opacity="0.72"/><rect x="470.60" y="959.45" width="7.60" height="7.35" fill="#ee5a24" fill-opacity="0.88"/><rect x="477.80" y="959.45" width="7.60" height="7.35" fill="#ee5a24" fill-opacity="0.88"/><rect x="485.00" y="959.45" width="7.60" height="7.35" fill="#fbf28a" fill-opacity="0.88"/><rect x="492.20" y="959.45" width="7.60" height="7.35" fill="#fbf28a" fill-opacity="0.88"/><rect x="499.40" y="959.45" width="7.60" height="7.35" fill="#fbf28a" fill-opacity="0.88"/><rect x="506.60" y="959.45" width="7.60" height="7.35" fill="#fbf28a" fill-opacity="0.88"/><rect x="513.80" y="959.45" width="7.60" height="7.35" fill="#fbf28a" fill-opacity="0.88"/><rect x="521.00" y="959.45" width="7.60" height="7.35" fill="#fbf28a" fill-opacity="0.88"/><rect x="528.20" y="959.45" width="7.60" height="7.35" fill="#fbf28a" fill-opacity="0.88"/><rect x="535.40" y="959.45" width="7.60" height="7.35" fill="#fbf28a" fill-opacity="0.88"/><rect x="542.60" y="959.45" width="7.60" height="7.35" fill="#f8e03a" fill-opacity="0.88"/><rect x="549.80" y="959.45" width="7.60" height="7.35" fill="#ee5a24" fill-opacity="0.88"/><rect x="557.00" y="959.45" width="7.60" height="7.35" fill="#ee5a24" fill-opacity="0.88"/><rect x="564.20" y="959.45" width="7.60" height="7.35" fill="#ee5a24" fill-opacity="0.88"/><rect x="571.40" y="959.45" width="7.60" height="7.35" fill="#e6261f" fill-opacity="0.72"/><rect x="578.60" y="959.45" width="7.60" height="7.35" fill="#b01c1c" fill-opacity="0.45"/><rect x="449.00" y="966.40" width="7.60" height="7.35" fill="#701616" fill-opacity="0.45"/><rect x="456.20" y="966.40" width="7.60" height="7.35" fill="#b01c1c" fill-opacity="0.45"/><rect x="463.40" y="966.40" width="7.60" height="7.35" fill="#e6261f" fill-opacity="0.72"/><rect x="470.60" y="966.40" width="7.60" height="7.35" fill="#ee5a24" fill-opacity="0.88"/><rect x="477.80" y="966.40" width="7.60" height="7.35" fill="#ee5a24" fill-opacity="0.88"/><rect x="485.00" y="966.40" width="7.60" height="7.35" fill="#f8e03a" fill-opacity="0.88"/><rect x="492.20" y="966.40" width="7.60" height="7.35" fill="#fbf28a" fill-opacity="0.88"/><rect x="499.40" y="966.40" width="7.60" height="7.35" fill="#fbf28a" fill-opacity="0.88"/><rect x="506.60" y="966.40" width="7.60" height="7.35" fill="#fbf28a" fill-opacity="0.88"/><rect x="513.80" y="966.40" width="7.60" height="7.35" fill="#fbf28a" fill-opacity="0.88"/><rect x="521.00" y="966.40" width="7.60" height="7.35" fill="#fbf28a" fill-opacity="0.88"/><rect x="528.20" y="966.40" width="7.60" height="7.35" fill="#fbf28a" fill-opacity="0.88"/><rect x="535.40" y="966.40" width="7.60" height="7.35" fill="#fbf28a" fill-opacity="0.88"/><rect x="542.60" y="966.40" width="7.60" height="7.35" fill="#fbf28a" fill-opacity="0.88"/><rect x="549.80" y="966.40" width="7.60" height="7.35" fill="#f8e03a" fill-opacity="0.88"/><rect x="557.00" y="966.40" width="7.60" height="7.35" fill="#ee5a24" fill-opacity="0.88"/><rect x="564.20" y="966.40" width="7.60" height="7.35" fill="#ee5a24" fill-opacity="0.88"/><rect x="571.40" y="966.40" width="7.60" height="7.35" fill="#ee5a24" fill-opacity="0.88"/><rect x="578.60" y="966.40" width="7.60" height="7.35" fill="#ee5a24" fill-opacity="0.88"/><rect x="585.80" y="966.40" width="7.60" height="7.35" fill="#e6261f" fill-opacity="0.72"/><rect x="593.00" y="966.40" width="7.60" height="7.35" fill="#b01c1c" fill-opacity="0.45"/><rect x="449.00" y="973.35" width="7.60" height="7.35" fill="#b01c1c" fill-opacity="0.45"/><rect x="456.20" y="973.35" width="7.60" height="7.35" fill="#e6261f" fill-opacity="0.72"/><rect x="463.40" y="973.35" width="7.60" height="7.35" fill="#e6261f" fill-opacity="0.72"/><rect x="470.60" y="973.35" width="7.60" height="7.35" fill="#ee5a24" fill-opacity="0.88"/><rect x="477.80" y="973.35" width="7.60" height="7.35" fill="#ee5a24" fill-opacity="0.88"/><rect x="485.00" y="973.35" width="7.60" height="7.35" fill="#f8e03a" fill-opacity="0.88"/><rect x="492.20" y="973.35" width="7.60" height="7.35" fill="#f8e03a" fill-opacity="0.88"/><rect x="499.40" y="973.35" width="7.60" height="7.35" fill="#fbf28a" fill-opacity="0.88"/><rect x="506.60" y="973.35" width="7.60" height="7.35" fill="#fbf28a" fill-opacity="0.88"/><rect x="513.80" y="973.35" width="7.60" height="7.35" fill="#fbf28a" fill-opacity="0.88"/><rect x="521.00" y="973.35" width="7.60" height="7.35" fill="#fbf28a" fill-opacity="0.88"/><rect x="528.20" y="973.35" width="7.60" height="7.35" fill="#fbf28a" fill-opacity="0.88"/><rect x="535.40" y="973.35" width="7.60" height="7.35" fill="#fbf28a" fill-opacity="0.88"/><rect x="542.60" y="973.35" width="7.60" height="7.35" fill="#fbf28a" fill-opacity="0.88"/><rect x="549.80" y="973.35" width="7.60" height="7.35" fill="#fbf28a" fill-opacity="0.88"/><rect x="557.00" y="973.35" width="7.60" height="7.35" fill="#f8e03a" fill-opacity="0.88"/><rect x="564.20" y="973.35" width="7.60" height="7.35" fill="#f8e03a" fill-opacity="0.88"/><rect x="571.40" y="973.35" width="7.60" height="7.35" fill="#f8e03a" fill-opacity="0.88"/><rect x="578.60" y="973.35" width="7.60" height="7.35" fill="#f8e03a" fill-opacity="0.88"/><rect x="585.80" y="973.35" width="7.60" height="7.35" fill="#ee5a24" fill-opacity="0.88"/><rect x="593.00" y="973.35" width="7.60" height="7.35" fill="#ee5a24" fill-opacity="0.88"/><rect x="600.20" y="973.35" width="7.60" height="7.35" fill="#e6261f" fill-opacity="0.72"/><rect x="607.40" y="973.35" width="7.60" height="7.35" fill="#e6261f" fill-opacity="0.72"/><rect x="441.80" y="980.30" width="7.60" height="7.35" fill="#701616" fill-opacity="0.45"/><rect x="449.00" y="980.30" width="7.60" height="7.35" fill="#b01c1c" fill-opacity="0.45"/><rect x="456.20" y="980.30" width="7.60" height="7.35" fill="#e6261f" fill-opacity="0.72"/><rect x="463.40" y="980.30" width="7.60" height="7.35" fill="#ee5a24" fill-opacity="0.88"/><rect x="470.60" y="980.30" width="7.60" height="7.35" fill="#ee5a24" fill-opacity="0.88"/><rect x="477.80" y="980.30" width="7.60" height="7.35" fill="#ee5a24" fill-opacity="0.88"/><rect x="485.00" y="980.30" width="7.60" height="7.35" fill="#ee5a24" fill-opacity="0.88"/><rect x="492.20" y="980.30" width="7.60" height="7.35" fill="#f8e03a" fill-opacity="0.88"/><rect x="499.40" y="980.30" width="7.60" height="7.35" fill="#f8e03a" fill-opacity="0.88"/><rect x="506.60" y="980.30" width="7.60" height="7.35" fill="#fbf28a" fill-opacity="0.88"/><rect x="513.80" y="980.30" width="7.60" height="7.35" fill="#fbf28a" fill-opacity="0.88"/><rect x="521.00" y="980.30" width="7.60" height="7.35" fill="#fbf28a" fill-opacity="0.88"/><rect x="528.20" y="980.30" width="7.60" height="7.35" fill="#fbf28a" fill-opacity="0.88"/><rect x="535.40" y="980.30" width="7.60" height="7.35" fill="#fbf28a" fill-opacity="0.88"/><rect x="542.60" y="980.30" width="7.60" height="7.35" fill="#fbf28a" fill-opacity="0.88"/><rect x="549.80" y="980.30" width="7.60" height="7.35" fill="#fbf28a" fill-opacity="0.88"/><rect x="557.00" y="980.30" width="7.60" height="7.35" fill="#fbf28a" fill-opacity="0.88"/><rect x="564.20" y="980.30" width="7.60" height="7.35" fill="#fbf28a" fill-opacity="0.88"/><rect x="571.40" y="980.30" width="7.60" height="7.35" fill="#fbf28a" fill-opacity="0.88"/><rect x="578.60" y="980.30" width="7.60" height="7.35" fill="#fbf28a" fill-opacity="0.88"/><rect x="585.80" y="980.30" width="7.60" height="7.35" fill="#f8e03a" fill-opacity="0.88"/><rect x="593.00" y="980.30" width="7.60" height="7.35" fill="#ee5a24" fill-opacity="0.88"/><rect x="600.20" y="980.30" width="7.60" height="7.35" fill="#ee5a24" fill-opacity="0.88"/><rect x="607.40" y="980.30" width="7.60" height="7.35" fill="#ee5a24" fill-opacity="0.88"/><rect x="441.80" y="987.25" width="7.60" height="7.35" fill="#b01c1c" fill-opacity="0.45"/><rect x="449.00" y="987.25" width="7.60" height="7.35" fill="#b01c1c" fill-opacity="0.45"/><rect x="456.20" y="987.25" width="7.60" height="7.35" fill="#e6261f" fill-opacity="0.72"/><rect x="463.40" y="987.25" width="7.60" height="7.35" fill="#e6261f" fill-opacity="0.72"/><rect x="470.60" y="987.25" width="7.60" height="7.35" fill="#3c0e0e" fill-opacity="0.45"/><rect x="477.80" y="987.25" width="7.60" height="7.35" fill="#e6261f" fill-opacity="0.72"/><rect x="485.00" y="987.25" width="7.60" height="7.35" fill="#ee5a24" fill-opacity="0.88"/><rect x="492.20" y="987.25" width="7.60" height="7.35" fill="#ee5a24" fill-opacity="0.88"/><rect x="499.40" y="987.25" width="7.60" height="7.35" fill="#f8e03a" fill-opacity="0.88"/><rect x="506.60" y="987.25" width="7.60" height="7.35" fill="#f8e03a" fill-opacity="0.88"/><rect x="513.80" y="987.25" width="7.60" height="7.35" fill="#fbf28a" fill-opacity="0.88"/><rect x="521.00" y="987.25" width="7.60" height="7.35" fill="#fbf28a" fill-opacity="0.88"/><rect x="528.20" y="987.25" width="7.60" height="7.35" fill="#fbf28a" fill-opacity="0.88"/><rect x="535.40" y="987.25" width="7.60" height="7.35" fill="#fbf28a" fill-opacity="0.88"/><rect x="542.60" y="987.25" width="7.60" height="7.35" fill="#fbf28a" fill-opacity="0.88"/><rect x="549.80" y="987.25" width="7.60" height="7.35" fill="#fbf28a" fill-opacity="0.88"/><rect x="557.00" y="987.25" width="7.60" height="7.35" fill="#fbf28a" fill-opacity="0.88"/><rect x="564.20" y="987.25" width="7.60" height="7.35" fill="#fbf28a" fill-opacity="0.88"/><rect x="571.40" y="987.25" width="7.60" height="7.35" fill="#fbf28a" fill-opacity="0.88"/><rect x="578.60" y="987.25" width="7.60" height="7.35" fill="#fbf28a" fill-opacity="0.88"/><rect x="585.80" y="987.25" width="7.60" height="7.35" fill="#fbf28a" fill-opacity="0.88"/><rect x="593.00" y="987.25" width="7.60" height="7.35" fill="#fbf28a" fill-opacity="0.88"/><rect x="600.20" y="987.25" width="7.60" height="7.35" fill="#fbf28a" fill-opacity="0.88"/><rect x="607.40" y="987.25" width="7.60" height="7.35" fill="#fbf28a" fill-opacity="0.88"/><rect x="441.80" y="994.20" width="7.60" height="7.35" fill="#b01c1c" fill-opacity="0.45"/><rect x="449.00" y="994.20" width="7.60" height="7.35" fill="#e6261f" fill-opacity="0.72"/><rect x="456.20" y="994.20" width="7.60" height="7.35" fill="#e6261f" fill-opacity="0.72"/><rect x="463.40" y="994.20" width="7.60" height="7.35" fill="#e6261f" fill-opacity="0.72"/><rect x="470.60" y="994.20" width="7.60" height="7.35" fill="#ee5a24" fill-opacity="0.88"/><rect x="477.80" y="994.20" width="7.60" height="7.35" fill="#ee5a24" fill-opacity="0.88"/><rect x="485.00" y="994.20" width="7.60" height="7.35" fill="#ee5a24" fill-opacity="0.88"/><rect x="492.20" y="994.20" width="7.60" height="7.35" fill="#ee5a24" fill-opacity="0.88"/><rect x="499.40" y="994.20" width="7.60" height="7.35" fill="#f8e03a" fill-opacity="0.88"/><rect x="506.60" y="994.20" width="7.60" height="7.35" fill="#f8e03a" fill-opacity="0.88"/><rect x="513.80" y="994.20" width="7.60" height="7.35" fill="#f8e03a" fill-opacity="0.88"/><rect x="521.00" y="994.20" width="7.60" height="7.35" fill="#fbf28a" fill-opacity="0.88"/><rect x="528.20" y="994.20" width="7.60" height="7.35" fill="#fbf28a" fill-opacity="0.88"/><rect x="535.40" y="994.20" width="7.60" height="7.35" fill="#fbf28a" fill-opacity="0.88"/><rect x="542.60" y="994.20" width="7.60" height="7.35" fill="#fbf28a" fill-opacity="0.88"/><rect x="549.80" y="994.20" width="7.60" height="7.35" fill="#fbf28a" fill-opacity="0.88"/><rect x="557.00" y="994.20" width="7.60" height="7.35" fill="#fbf28a" fill-opacity="0.88"/><rect x="564.20" y="994.20" width="7.60" height="7.35" fill="#fbf28a" fill-opacity="0.88"/><rect x="571.40" y="994.20" width="7.60" height="7.35" fill="#fffcee" fill-opacity="0.88"/><rect x="578.60" y="994.20" width="7.60" height="7.35" fill="#fffcee" fill-opacity="0.88"/><rect x="585.80" y="994.20" width="7.60" height="7.35" fill="#fbf28a" fill-opacity="0.88"/><rect x="593.00" y="994.20" width="7.60" height="7.35" fill="#fbf28a" fill-opacity="0.88"/><rect x="600.20" y="994.20" width="7.60" height="7.35" fill="#fbf28a" fill-opacity="0.88"/><rect x="607.40" y="994.20" width="7.60" height="7.35" fill="#fbf28a" fill-opacity="0.88"/><rect x="441.80" y="1001.15" width="7.60" height="7.35" fill="#e6261f" fill-opacity="0.72"/><rect x="449.00" y="1001.15" width="7.60" height="7.35" fill="#e6261f" fill-opacity="0.72"/><rect x="456.20" y="1001.15" width="7.60" height="7.35" fill="#ee5a24" fill-opacity="0.88"/><rect x="463.40" y="1001.15" width="7.60" height="7.35" fill="#ee5a24" fill-opacity="0.88"/><rect x="470.60" y="1001.15" width="7.60" height="7.35" fill="#ee5a24" fill-opacity="0.88"/><rect x="477.80" y="1001.15" width="7.60" height="7.35" fill="#ee5a24" fill-opacity="0.88"/><rect x="485.00" y="1001.15" width="7.60" height="7.35" fill="#ee5a24" fill-opacity="0.88"/><rect x="492.20" y="1001.15" width="7.60" height="7.35" fill="#ee5a24" fill-opacity="0.88"/><rect x="499.40" y="1001.15" width="7.60" height="7.35" fill="#f8e03a" fill-opacity="0.88"/><rect x="506.60" y="1001.15" width="7.60" height="7.35" fill="#fbf28a" fill-opacity="0.88"/><rect x="513.80" y="1001.15" width="7.60" height="7.35" fill="#fbf28a" fill-opacity="0.88"/><rect x="521.00" y="1001.15" width="7.60" height="7.35" fill="#f8e03a" fill-opacity="0.88"/><rect x="528.20" y="1001.15" width="7.60" height="7.35" fill="#f8e03a" fill-opacity="0.88"/><rect x="535.40" y="1001.15" width="7.60" height="7.35" fill="#fbf28a" fill-opacity="0.88"/><rect x="542.60" y="1001.15" width="7.60" height="7.35" fill="#fbf28a" fill-opacity="0.88"/><rect x="549.80" y="1001.15" width="7.60" height="7.35" fill="#fbf28a" fill-opacity="0.88"/><rect x="557.00" y="1001.15" width="7.60" height="7.35" fill="#fbf28a" fill-opacity="0.88"/><rect x="564.20" y="1001.15" width="7.60" height="7.35" fill="#fbf28a" fill-opacity="0.88"/><rect x="571.40" y="1001.15" width="7.60" height="7.35" fill="#fffcee" fill-opacity="0.88"/><rect x="578.60" y="1001.15" width="7.60" height="7.35" fill="#fffcee" fill-opacity="0.88"/><rect x="585.80" y="1001.15" width="7.60" height="7.35" fill="#fbf28a" fill-opacity="0.88"/><rect x="593.00" y="1001.15" width="7.60" height="7.35" fill="#fbf28a" fill-opacity="0.88"/><rect x="600.20" y="1001.15" width="7.60" height="7.35" fill="#fbf28a" fill-opacity="0.88"/><rect x="607.40" y="1001.15" width="7.60" height="7.35" fill="#fbf28a" fill-opacity="0.88"/><rect x="441.80" y="1008.10" width="7.60" height="7.35" fill="#ee5a24" fill-opacity="0.88"/><rect x="449.00" y="1008.10" width="7.60" height="7.35" fill="#ee5a24" fill-opacity="0.88"/><rect x="456.20" y="1008.10" width="7.60" height="7.35" fill="#ee5a24" fill-opacity="0.88"/><rect x="463.40" y="1008.10" width="7.60" height="7.35" fill="#f4aa2c" fill-opacity="0.88"/><rect x="470.60" y="1008.10" width="7.60" height="7.35" fill="#ee5a24" fill-opacity="0.88"/><rect x="477.80" y="1008.10" width="7.60" height="7.35" fill="#ee5a24" fill-opacity="0.88"/><rect x="485.00" y="1008.10" width="7.60" height="7.35" fill="#ee5a24" fill-opacity="0.88"/><rect x="492.20" y="1008.10" width="7.60" height="7.35" fill="#ee5a24" fill-opacity="0.88"/><rect x="499.40" y="1008.10" width="7.60" height="7.35" fill="#ee5a24" fill-opacity="0.88"/><rect x="506.60" y="1008.10" width="7.60" height="7.35" fill="#f8e03a" fill-opacity="0.88"/><rect x="513.80" y="1008.10" width="7.60" height="7.35" fill="#f8e03a" fill-opacity="0.88"/><rect x="521.00" y="1008.10" width="7.60" height="7.35" fill="#f8e03a" fill-opacity="0.88"/><rect x="528.20" y="1008.10" width="7.60" height="7.35" fill="#f8e03a" fill-opacity="0.88"/><rect x="535.40" y="1008.10" width="7.60" height="7.35" fill="#f8e03a" fill-opacity="0.88"/><rect x="542.60" y="1008.10" width="7.60" height="7.35" fill="#f8e03a" fill-opacity="0.88"/><rect x="549.80" y="1008.10" width="7.60" height="7.35" fill="#f8e03a" fill-opacity="0.88"/><rect x="557.00" y="1008.10" width="7.60" height="7.35" fill="#fbf28a" fill-opacity="0.88"/><rect x="564.20" y="1008.10" width="7.60" height="7.35" fill="#fbf28a" fill-opacity="0.88"/><rect x="571.40" y="1008.10" width="7.60" height="7.35" fill="#fbf28a" fill-opacity="0.88"/><rect x="578.60" y="1008.10" width="7.60" height="7.35" fill="#fbf28a" fill-opacity="0.88"/><rect x="585.80" y="1008.10" width="7.60" height="7.35" fill="#fbf28a" fill-opacity="0.88"/><rect x="593.00" y="1008.10" width="7.60" height="7.35" fill="#fbf28a" fill-opacity="0.88"/><rect x="600.20" y="1008.10" width="7.60" height="7.35" fill="#fbf28a" fill-opacity="0.88"/><rect x="607.40" y="1008.10" width="7.60" height="7.35" fill="#ee5a24" fill-opacity="0.88"/><rect x="441.80" y="1015.05" width="7.60" height="7.35" fill="#ee5a24" fill-opacity="0.88"/><rect x="449.00" y="1015.05" width="7.60" height="7.35" fill="#f4aa2c" fill-opacity="0.88"/><rect x="456.20" y="1015.05" width="7.60" height="7.35" fill="#f8e03a" fill-opacity="0.88"/><rect x="463.40" y="1015.05" width="7.60" height="7.35" fill="#f8e03a" fill-opacity="0.88"/><rect x="470.60" y="1015.05" width="7.60" height="7.35" fill="#f4aa2c" fill-opacity="0.88"/><rect x="477.80" y="1015.05" width="7.60" height="7.35" fill="#ee5a24" fill-opacity="0.88"/><rect x="485.00" y="1015.05" width="7.60" height="7.35" fill="#ee5a24" fill-opacity="0.88"/><rect x="492.20" y="1015.05" width="7.60" height="7.35" fill="#ee5a24" fill-opacity="0.88"/><rect x="499.40" y="1015.05" width="7.60" height="7.35" fill="#ee5a24" fill-opacity="0.88"/><rect x="506.60" y="1015.05" width="7.60" height="7.35" fill="#ee5a24" fill-opacity="0.88"/><rect x="513.80" y="1015.05" width="7.60" height="7.35" fill="#ee5a24" fill-opacity="0.88"/><rect x="521.00" y="1015.05" width="7.60" height="7.35" fill="#ee5a24" fill-opacity="0.88"/><rect x="528.20" y="1015.05" width="7.60" height="7.35" fill="#ee5a24" fill-opacity="0.88"/><rect x="535.40" y="1015.05" width="7.60" height="7.35" fill="#ee5a24" fill-opacity="0.88"/><rect x="542.60" y="1015.05" width="7.60" height="7.35" fill="#ee5a24" fill-opacity="0.88"/><rect x="549.80" y="1015.05" width="7.60" height="7.35" fill="#ee5a24" fill-opacity="0.88"/><rect x="557.00" y="1015.05" width="7.60" height="7.35" fill="#ee5a24" fill-opacity="0.88"/><rect x="564.20" y="1015.05" width="7.60" height="7.35" fill="#ee5a24" fill-opacity="0.88"/><rect x="571.40" y="1015.05" width="7.60" height="7.35" fill="#ee5a24" fill-opacity="0.88"/><rect x="578.60" y="1015.05" width="7.60" height="7.35" fill="#ee5a24" fill-opacity="0.88"/><rect x="585.80" y="1015.05" width="7.60" height="7.35" fill="#ee5a24" fill-opacity="0.88"/><rect x="593.00" y="1015.05" width="7.60" height="7.35" fill="#ee5a24" fill-opacity="0.88"/><rect x="600.20" y="1015.05" width="7.60" height="7.35" fill="#ee5a24" fill-opacity="0.88"/><rect x="607.40" y="1015.05" width="7.60" height="7.35" fill="#e6261f" fill-opacity="0.72"/><rect x="441.80" y="1022.00" width="7.60" height="7.35" fill="#ee5a24" fill-opacity="0.88"/><rect x="449.00" y="1022.00" width="7.60" height="7.35" fill="#ee5a24" fill-opacity="0.88"/><rect x="456.20" y="1022.00" width="7.60" height="7.35" fill="#f8e03a" fill-opacity="0.88"/><rect x="463.40" y="1022.00" width="7.60" height="7.35" fill="#f8e03a" fill-opacity="0.88"/><rect x="470.60" y="1022.00" width="7.60" height="7.35" fill="#ee5a24" fill-opacity="0.88"/><rect x="477.80" y="1022.00" width="7.60" height="7.35" fill="#ee5a24" fill-opacity="0.88"/><rect x="485.00" y="1022.00" width="7.60" height="7.35" fill="#ee5a24" fill-opacity="0.88"/><rect x="492.20" y="1022.00" width="7.60" height="7.35" fill="#e6261f" fill-opacity="0.72"/><rect x="499.40" y="1022.00" width="7.60" height="7.35" fill="#ee5a24" fill-opacity="0.88"/><rect x="506.60" y="1022.00" width="7.60" height="7.35" fill="#ee5a24" fill-opacity="0.88"/><rect x="513.80" y="1022.00" width="7.60" height="7.35" fill="#e6261f" fill-opacity="0.72"/><rect x="521.00" y="1022.00" width="7.60" height="7.35" fill="#b01c1c" fill-opacity="0.45"/><rect x="528.20" y="1022.00" width="7.60" height="7.35" fill="#701616" fill-opacity="0.45"/><rect x="535.40" y="1022.00" width="7.60" height="7.35" fill="#3c0e0e" fill-opacity="0.45"/><rect x="441.80" y="1028.95" width="7.60" height="7.35" fill="#ee5a24" fill-opacity="0.88"/><rect x="449.00" y="1028.95" width="7.60" height="7.35" fill="#ee5a24" fill-opacity="0.88"/><rect x="456.20" y="1028.95" width="7.60" height="7.35" fill="#ee5a24" fill-opacity="0.88"/><rect x="463.40" y="1028.95" width="7.60" height="7.35" fill="#ee5a24" fill-opacity="0.88"/><rect x="470.60" y="1028.95" width="7.60" height="7.35" fill="#ee5a24" fill-opacity="0.88"/><rect x="477.80" y="1028.95" width="7.60" height="7.35" fill="#e6261f" fill-opacity="0.72"/><rect x="485.00" y="1028.95" width="7.60" height="7.35" fill="#e6261f" fill-opacity="0.72"/><rect x="441.80" y="1035.90" width="7.60" height="7.35" fill="#ee5a24" fill-opacity="0.88"/><rect x="449.00" y="1035.90" width="7.60" height="7.35" fill="#ee5a24" fill-opacity="0.88"/><rect x="456.20" y="1035.90" width="7.60" height="7.35" fill="#e6261f" fill-opacity="0.72"/><rect x="463.40" y="1035.90" width="7.60" height="7.35" fill="#e6261f" fill-opacity="0.72"/><rect x="470.60" y="1035.90" width="7.60" height="7.35" fill="#b01c1c" fill-opacity="0.45"/><rect x="441.80" y="1042.85" width="7.60" height="7.35" fill="#e6261f" fill-opacity="0.72"/><rect x="449.00" y="1042.85" width="7.60" height="7.35" fill="#b01c1c" fill-opacity="0.45"/><rect x="456.20" y="1042.85" width="7.60" height="7.35" fill="#b01c1c" fill-opacity="0.45"/><rect x="463.40" y="1042.85" width="7.60" height="7.35" fill="#701616" fill-opacity="0.45"/><rect x="441.80" y="1049.80" width="7.60" height="7.35" fill="#701616" fill-opacity="0.45"/><rect x="449.00" y="1049.80" width="7.60" height="7.35" fill="#3c0e0e" fill-opacity="0.45"/></g></g>
<text x="1024.5" y="609.0" style="font-family:'Liberation Sans',sans-serif;font-size:39.5px" fill="#111" stroke="#111" stroke-width="0.5" text-anchor="middle" >4°C</text>
<path d="M806.5 625 H1245" stroke="#222" stroke-width="2.5"/>
<text x="850.0" y="663.0" style="font-family:'Liberation Sans',sans-serif;font-size:25px" fill="#111" stroke="#111" stroke-width="0.5" text-anchor="middle" >MRI</text>
<text x="1025.0" y="663.0" style="font-family:'Liberation Sans',sans-serif;font-size:25px" fill="#111" stroke="#111" stroke-width="0.5" text-anchor="middle" >MPI</text>
<text x="1200.0" y="663.0" style="font-family:'Liberation Sans',sans-serif;font-size:25px" fill="#111" stroke="#111" stroke-width="0.5" text-anchor="middle" >Merge</text>
<clipPath id="m4a"><rect x="766.7" y="672" width="168.3" height="396"/></clipPath><g clip-path="url(#m4a)"><rect x="766.7" y="672" width="168.3" height="396" fill="#000"/><g transform="translate(766.7,672)"><g filter="url(#tex)"><rect x="0" y="0" width="168.3" height="396" fill="#000"/><rect x="0" y="8" width="168.3" height="340" fill="#0a0a0a"/><g filter="url(#blur6)"><ellipse cx="20" cy="140" rx="14" ry="40" fill="#1c1c1c"/><ellipse cx="150" cy="160" rx="12" ry="50" fill="#1e1e1e"/></g><g filter="url(#blur1)"><path d="M62 20 C68 17 74 20 78 28 C100 24 122 40 127 66 C130 90 126 105 122 114 C124 125 132 140 136 160 C138 180 142 200 146 215 C150 250 150 290 146 348 L8 348 C5 320 3 290 4 260 C8 235 12 215 16 195 C20 170 25 150 40 130 C45 122 48 118 50 112 C44 100 40 80 42 55 C44 38 50 24 58 16Z" fill="#a6a6a6"/></g><g filter="url(#blur2)"><path d="M62 34 C76 24 110 26 122 48 C130 70 128 98 114 110 C104 116 92 117 82 115 C68 110 60 98 58 80 C56 62 56 44 62 34Z" fill="#c8c8c8"/><ellipse cx="52" cy="168" rx="26" ry="38" fill="#b8b8b8"/><ellipse cx="116" cy="168" rx="22" ry="38" fill="#b0b0b0"/><ellipse cx="48" cy="318" rx="40" ry="30" fill="#aaaaaa"/><ellipse cx="115" cy="318" rx="30" ry="30" fill="#a8a8a8"/><path d="M22 238 C50 220 110 218 140 236 L140 250 C110 234 50 236 22 252Z" fill="#b4b4b4"/></g><g filter="url(#blur1)"><path d="M62 196 C70 184 78 178 86 178 C94 178 102 184 108 196 C98 192 92 190 85 190 C78 190 70 192 62 196Z" fill="#1a1a1a"/><path d="M72 138 L84 178 L96 138" stroke="#d8d8d8" stroke-width="2.5" fill="none"/><path d="M66 145 L90 165 M102 145 L80 165" stroke="#6a6a6a" stroke-width="1.5" fill="none"/><path d="M136 92 C155 100 160 120 152 135 C145 145 132 140 128 128" stroke="#3a3a3a" stroke-width="6" fill="none"/><path d="M60 34 C56 60 58 90 66 100" stroke="#555" stroke-width="2" fill="none"/><path d="M66 100 C80 116 100 118 118 104" stroke="#3a3a3a" stroke-width="2" fill="none"/></g><g filter="url(#blur2)"><path d="M24 252 C30 236 44 226 62 224 C72 224 76 232 76 244 L75 290 C58 294 40 292 26 286 C22 274 22 262 24 252Z" fill="#2e2e2e"/><path d="M90 230 C102 222 122 220 132 230 C140 244 140 262 136 278 C122 282 106 282 94 278 C90 262 88 244 90 230Z" fill="#2a2a2a"/></g><g filter="url(#blur2)"><ellipse cx="113" cy="300" rx="20" ry="24" fill="#a6a6a6"/><ellipse cx="50" cy="322" rx="34" ry="28" fill="#9e9e9e"/></g><g filter="url(#blur1)"><path d="M80 230 C84 250 86 280 85 304" stroke="#a8a8a8" stroke-width="7" fill="none"/><path d="M21 265 C35 250 50 240 62 242 C68 244 70 248 71 252" stroke="#c8c8c8" stroke-width="4" fill="none"/><path d="M74 236 C80 230 90 230 98 236" stroke="#b0b0b0" stroke-width="3" fill="none"/><circle cx="64" cy="286" r="4" fill="#a0a0a0"/><path d="M84 325 V345" stroke="#555" stroke-width="4"/></g><rect x="0" y="348" width="168.3" height="48" fill="#000"/><rect x="0" y="0" width="168.3" height="8" fill="#000"/></g></g></g>
<rect x="940.8" y="672" width="168.2" height="396" fill="#000"/>
<g clip-path="url(#mpi4)"><clipPath id="mpi4"><rect x="940.8" y="672" width="168.2" height="396"/></clipPath><g filter="url(#blur1)"><g shape-rendering="crispEdges"><rect x="1024.80" y="813.00" width="7.40" height="7.35" fill="#3c0e0e"/><rect x="1017.80" y="819.95" width="7.40" height="7.35" fill="#3c0e0e"/><rect x="1024.80" y="819.95" width="7.40" height="7.35" fill="#701616"/><rect x="1017.80" y="826.90" width="7.40" height="7.35" fill="#701616"/><rect x="1024.80" y="826.90" width="7.40" height="7.35" fill="#701616"/><rect x="1031.80" y="826.90" width="7.40" height="7.35" fill="#701616"/><rect x="1038.80" y="826.90" width="7.40" height="7.35" fill="#3c0e0e"/><rect x="1017.80" y="833.85" width="7.40" height="7.35" fill="#701616"/><rect x="1024.80" y="833.85" width="7.40" height="7.35" fill="#3c0e0e"/><rect x="1031.80" y="833.85" width="7.40" height="7.35" fill="#701616"/><rect x="1038.80" y="833.85" width="7.40" height="7.35" fill="#701616"/><rect x="1017.80" y="840.80" width="7.40" height="7.35" fill="#701616"/><rect x="1024.80" y="840.80" width="7.40" height="7.35" fill="#3c0e0e"/><rect x="1031.80" y="840.80" width="7.40" height="7.35" fill="#3c0e0e"/><rect x="1038.80" y="840.80" width="7.40" height="7.35" fill="#701616"/><rect x="1073.80" y="840.80" width="7.40" height="7.35" fill="#3c0e0e"/><rect x="1010.80" y="847.75" width="7.40" height="7.35" fill="#3c0e0e"/><rect x="1017.80" y="847.75" width="7.40" height="7.35" fill="#701616"/><rect x="1024.80" y="847.75" width="7.40" height="7.35" fill="#701616"/><rect x="1031.80" y="847.75" width="7.40" height="7.35" fill="#701616"/><rect x="1038.80" y="847.75" width="7.40" height="7.35" fill="#701616"/><rect x="1045.80" y="847.75" width="7.40" height="7.35" fill="#3c0e0e"/><rect x="996.80" y="854.70" width="7.40" height="7.35" fill="#701616"/><rect x="1003.80" y="854.70" width="7.40" height="7.35" fill="#b01c1c"/><rect x="1010.80" y="854.70" width="7.40" height="7.35" fill="#d82020"/><rect x="1017.80" y="854.70" width="7.40" height="7.35" fill="#d82020"/><rect x="1024.80" y="854.70" width="7.40" height="7.35" fill="#d82020"/><rect x="1031.80" y="854.70" width="7.40" height="7.35" fill="#d82020"/><rect x="1038.80" y="854.70" width="7.40" height="7.35" fill="#b01c1c"/><rect x="1045.80" y="854.70" width="7.40" height="7.35" fill="#701616"/><rect x="982.80" y="861.65" width="7.40" height="7.35" fill="#701616"/><rect x="989.80" y="861.65" width="7.40" height="7.35" fill="#b01c1c"/><rect x="996.80" y="861.65" width="7.40" height="7.35" fill="#d82020"/><rect x="1003.80" y="861.65" width="7.40" height="7.35" fill="#e6261f"/><rect x="1010.80" y="861.65" width="7.40" height="7.35" fill="#e6261f"/><rect x="1017.80" y="861.65" width="7.40" height="7.35" fill="#e6261f"/><rect x="1024.80" y="861.65" width="7.40" height="7.35" fill="#e6261f"/><rect x="1031.80" y="861.65" width="7.40" height="7.35" fill="#e6261f"/><rect x="1038.80" y="861.65" width="7.40" height="7.35" fill="#d82020"/><rect x="1045.80" y="861.65" width="7.40" height="7.35" fill="#b01c1c"/><rect x="1052.80" y="861.65" width="7.40" height="7.35" fill="#701616"/><rect x="982.80" y="868.60" width="7.40" height="7.35" fill="#b01c1c"/><rect x="989.80" y="868.60" width="7.40" height="7.35" fill="#d82020"/><rect x="996.80" y="868.60" width="7.40" height="7.35" fill="#e6261f"/><rect x="1003.80" y="868.60" width="7.40" height="7.35" fill="#e6261f"/><rect x="1010.80" y="868.60" width="7.40" height="7.35" fill="#e6261f"/><rect x="1017.80" y="868.60" width="7.40" height="7.35" fill="#e6261f"/><rect x="1024.80" y="868.60" width="7.40" height="7.35" fill="#f4aa2c"/><rect x="1031.80" y="868.60" width="7.40" height="7.35" fill="#e6261f"/><rect x="1038.80" y="868.60" width="7.40" height="7.35" fill="#e6261f"/><rect x="1045.80" y="868.60" width="7.40" height="7.35" fill="#d82020"/><rect x="1052.80" y="868.60" width="7.40" height="7.35" fill="#b01c1c"/><rect x="1059.80" y="868.60" width="7.40" height="7.35" fill="#701616"/><rect x="975.80" y="875.55" width="7.40" height="7.35" fill="#701616"/><rect x="982.80" y="875.55" width="7.40" height="7.35" fill="#b01c1c"/><rect x="989.80" y="875.55" width="7.40" height="7.35" fill="#d82020"/><rect x="996.80" y="875.55" width="7.40" height="7.35" fill="#e6261f"/><rect x="1003.80" y="875.55" width="7.40" height="7.35" fill="#e6261f"/><rect x="1010.80" y="875.55" width="7.40" height="7.35" fill="#e6261f"/><rect x="1017.80" y="875.55" width="7.40" height="7.35" fill="#e6261f"/><rect x="1024.80" y="875.55" width="7.40" height="7.35" fill="#e6261f"/><rect x="1031.80" y="875.55" width="7.40" height="7.35" fill="#e6261f"/><rect x="1038.80" y="875.55" width="7.40" height="7.35" fill="#e6261f"/><rect x="1045.80" y="875.55" width="7.40" height="7.35" fill="#d82020"/><rect x="1052.80" y="875.55" width="7.40" height="7.35" fill="#d82020"/><rect x="1059.80" y="875.55" width="7.40" height="7.35" fill="#b01c1c"/><rect x="1066.80" y="875.55" width="7.40" height="7.35" fill="#701616"/><rect x="975.80" y="882.50" width="7.40" height="7.35" fill="#701616"/><rect x="982.80" y="882.50" width="7.40" height="7.35" fill="#b01c1c"/><rect x="989.80" y="882.50" width="7.40" height="7.35" fill="#b01c1c"/><rect x="996.80" y="882.50" width="7.40" height="7.35" fill="#d82020"/><rect x="1003.80" y="882.50" width="7.40" height="7.35" fill="#d82020"/><rect x="1010.80" y="882.50" width="7.40" height="7.35" fill="#d82020"/><rect x="1017.80" y="882.50" width="7.40" height="7.35" fill="#d82020"/><rect x="1024.80" y="882.50" width="7.40" height="7.35" fill="#d82020"/><rect x="1031.80" y="882.50" width="7.40" height="7.35" fill="#d82020"/><rect x="1038.80" y="882.50" width="7.40" height="7.35" fill="#d82020"/><rect x="1045.80" y="882.50" width="7.40" height="7.35" fill="#b01c1c"/><rect x="1052.80" y="882.50" width="7.40" height="7.35" fill="#b01c1c"/><rect x="1059.80" y="882.50" width="7.40" height="7.35" fill="#701616"/><rect x="1066.80" y="882.50" width="7.40" height="7.35" fill="#701616"/><rect x="982.80" y="889.45" width="7.40" height="7.35" fill="#3c0e0e"/><rect x="989.80" y="889.45" width="7.40" height="7.35" fill="#701616"/><rect x="996.80" y="889.45" width="7.40" height="7.35" fill="#701616"/><rect x="1003.80" y="889.45" width="7.40" height="7.35" fill="#701616"/><rect x="1010.80" y="889.45" width="7.40" height="7.35" fill="#701616"/><rect x="1017.80" y="889.45" width="7.40" height="7.35" fill="#701616"/><rect x="1024.80" y="889.45" width="7.40" height="7.35" fill="#701616"/><rect x="1031.80" y="889.45" width="7.40" height="7.35" fill="#701616"/><rect x="1038.80" y="889.45" width="7.40" height="7.35" fill="#701616"/><rect x="1045.80" y="889.45" width="7.40" height="7.35" fill="#701616"/><rect x="1052.80" y="889.45" width="7.40" height="7.35" fill="#701616"/><rect x="1059.80" y="889.45" width="7.40" height="7.35" fill="#3c0e0e"/><rect x="1066.80" y="889.45" width="7.40" height="7.35" fill="#3c0e0e"/><rect x="982.80" y="917.25" width="7.40" height="7.35" fill="#b01c1c"/><rect x="989.80" y="917.25" width="7.40" height="7.35" fill="#d82020"/><rect x="996.80" y="917.25" width="7.40" height="7.35" fill="#e6261f"/><rect x="1003.80" y="917.25" width="7.40" height="7.35" fill="#e6261f"/><rect x="1010.80" y="917.25" width="7.40" height="7.35" fill="#e6261f"/><rect x="1017.80" y="917.25" width="7.40" height="7.35" fill="#e6261f"/><rect x="1024.80" y="917.25" width="7.40" height="7.35" fill="#d82020"/><rect x="1031.80" y="917.25" width="7.40" height="7.35" fill="#b01c1c"/><rect x="1038.80" y="917.25" width="7.40" height="7.35" fill="#701616"/><rect x="968.80" y="924.20" width="7.40" height="7.35" fill="#701616"/><rect x="975.80" y="924.20" width="7.40" height="7.35" fill="#b01c1c"/><rect x="982.80" y="924.20" width="7.40" height="7.35" fill="#d82020"/><rect x="989.80" y="924.20" width="7.40" height="7.35" fill="#f4aa2c"/><rect x="996.80" y="924.20" width="7.40" height="7.35" fill="#f8e03a"/><rect x="1003.80" y="924.20" width="7.40" height="7.35" fill="#f8e03a"/><rect x="1010.80" y="924.20" width="7.40" height="7.35" fill="#f8e03a"/><rect x="1017.80" y="924.20" width="7.40" height="7.35" fill="#f4aa2c"/><rect x="1024.80" y="924.20" width="7.40" height="7.35" fill="#f4aa2c"/><rect x="1031.80" y="924.20" width="7.40" height="7.35" fill="#e6261f"/><rect x="1038.80" y="924.20" width="7.40" height="7.35" fill="#e6261f"/><rect x="1045.80" y="924.20" width="7.40" height="7.35" fill="#d82020"/><rect x="1052.80" y="924.20" width="7.40" height="7.35" fill="#701616"/><rect x="947.80" y="931.15" width="7.40" height="7.35" fill="#701616"/><rect x="954.80" y="931.15" width="7.40" height="7.35" fill="#b01c1c"/><rect x="961.80" y="931.15" width="7.40" height="7.35" fill="#b01c1c"/><rect x="968.80" y="931.15" width="7.40" height="7.35" fill="#d82020"/><rect x="975.80" y="931.15" width="7.40" height="7.35" fill="#e6261f"/><rect x="982.80" y="931.15" width="7.40" height="7.35" fill="#f4aa2c"/><rect x="989.80" y="931.15" width="7.40" height="7.35" fill="#f8e03a"/><rect x="996.80" y="931.15" width="7.40" height="7.35" fill="#f8e03a"/><rect x="1003.80" y="931.15" width="7.40" height="7.35" fill="#f8e03a"/><rect x="1010.80" y="931.15" width="7.40" height="7.35" fill="#f8e03a"/><rect x="1017.80" y="931.15" width="7.40" height="7.35" fill="#f8e03a"/><rect x="1024.80" y="931.15" width="7.40" height="7.35" fill="#f8e03a"/><rect x="1031.80" y="931.15" width="7.40" height="7.35" fill="#f4aa2c"/><rect x="1038.80" y="931.15" width="7.40" height="7.35" fill="#e6261f"/><rect x="1045.80" y="931.15" width="7.40" height="7.35" fill="#e6261f"/><rect x="1052.80" y="931.15" width="7.40" height="7.35" fill="#e6261f"/><rect x="1059.80" y="931.15" width="7.40" height="7.35" fill="#d82020"/><rect x="1066.80" y="931.15" width="7.40" height="7.35" fill="#b01c1c"/><rect x="1073.80" y="931.15" width="7.40" height="7.35" fill="#701616"/><rect x="947.80" y="938.10" width="7.40" height="7.35" fill="#b01c1c"/><rect x="954.80" y="938.10" width="7.40" height="7.35" fill="#d82020"/><rect x="961.80" y="938.10" width="7.40" height="7.35" fill="#d82020"/><rect x="968.80" y="938.10" width="7.40" height="7.35" fill="#e6261f"/><rect x="975.80" y="938.10" width="7.40" height="7.35" fill="#ee5a24"/><rect x="982.80" y="938.10" width="7.40" height="7.35" fill="#f8e03a"/><rect x="989.80" y="938.10" width="7.40" height="7.35" fill="#fbf28a"/><rect x="996.80" y="938.10" width="7.40" height="7.35" fill="#fbf28a"/><rect x="1003.80" y="938.10" width="7.40" height="7.35" fill="#fffcee"/><rect x="1010.80" y="938.10" width="7.40" height="7.35" fill="#fbf28a"/><rect x="1017.80" y="938.10" width="7.40" height="7.35" fill="#f8e03a"/><rect x="1024.80" y="938.10" width="7.40" height="7.35" fill="#f8e03a"/><rect x="1031.80" y="938.10" width="7.40" height="7.35" fill="#f8e03a"/><rect x="1038.80" y="938.10" width="7.40" height="7.35" fill="#f4aa2c"/><rect x="1045.80" y="938.10" width="7.40" height="7.35" fill="#e6261f"/><rect x="1052.80" y="938.10" width="7.40" height="7.35" fill="#e6261f"/><rect x="1059.80" y="938.10" width="7.40" height="7.35" fill="#e6261f"/><rect x="1066.80" y="938.10" width="7.40" height="7.35" fill="#d82020"/><rect x="1073.80" y="938.10" width="7.40" height="7.35" fill="#b01c1c"/><rect x="1080.80" y="938.10" width="7.40" height="7.35" fill="#701616"/><rect x="940.80" y="945.05" width="7.40" height="7.35" fill="#b01c1c"/><rect x="947.80" y="945.05" width="7.40" height="7.35" fill="#d82020"/><rect x="954.80" y="945.05" width="7.40" height="7.35" fill="#e6261f"/><rect x="961.80" y="945.05" width="7.40" height="7.35" fill="#e6261f"/><rect x="968.80" y="945.05" width="7.40" height="7.35" fill="#ee5a24"/><rect x="975.80" y="945.05" width="7.40" height="7.35" fill="#f4aa2c"/><rect x="982.80" y="945.05" width="7.40" height="7.35" fill="#f8e03a"/><rect x="989.80" y="945.05" width="7.40" height="7.35" fill="#fbf28a"/><rect x="996.80" y="945.05" width="7.40" height="7.35" fill="#fffcee"/><rect x="1003.80" y="945.05" width="7.40" height="7.35" fill="#fffcee"/><rect x="1010.80" y="945.05" width="7.40" height="7.35" fill="#fffcee"/><rect x="1017.80" y="945.05" width="7.40" height="7.35" fill="#fbf28a"/><rect x="1024.80" y="945.05" width="7.40" height="7.35" fill="#f8e03a"/><rect x="1031.80" y="945.05" width="7.40" height="7.35" fill="#f8e03a"/><rect x="1038.80" y="945.05" width="7.40" height="7.35" fill="#f4aa2c"/><rect x="1045.80" y="945.05" width="7.40" height="7.35" fill="#f4aa2c"/><rect x="1052.80" y="945.05" width="7.40" height="7.35" fill="#e6261f"/><rect x="1059.80" y="945.05" width="7.40" height="7.35" fill="#e6261f"/><rect x="1066.80" y="945.05" width="7.40" height="7.35" fill="#e6261f"/><rect x="1073.80" y="945.05" width="7.40" height="7.35" fill="#d82020"/><rect x="1080.80" y="945.05" width="7.40" height="7.35" fill="#b01c1c"/><rect x="940.80" y="952.00" width="7.40" height="7.35" fill="#d82020"/><rect x="947.80" y="952.00" width="7.40" height="7.35" fill="#e6261f"/><rect x="954.80" y="952.00" width="7.40" height="7.35" fill="#e6261f"/><rect x="961.80" y="952.00" width="7.40" height="7.35" fill="#ee5a24"/><rect x="968.80" y="952.00" width="7.40" height="7.35" fill="#f4aa2c"/><rect x="975.80" y="952.00" width="7.40" height="7.35" fill="#f8e03a"/><rect x="982.80" y="952.00" width="7.40" height="7.35" fill="#f8e03a"/><rect x="989.80" y="952.00" width="7.40" height="7.35" fill="#fbf28a"/><rect x="996.80" y="952.00" width="7.40" height="7.35" fill="#fbf28a"/><rect x="1003.80" y="952.00" width="7.40" height="7.35" fill="#fbf28a"/><rect x="1010.80" y="952.00" width="7.40" height="7.35" fill="#f8e03a"/><rect x="1017.80" y="952.00" width="7.40" height="7.35" fill="#f8e03a"/><rect x="1024.80" y="952.00" width="7.40" height="7.35" fill="#f8e03a"/><rect x="1031.80" y="952.00" width="7.40" height="7.35" fill="#f8e03a"/><rect x="1038.80" y="952.00" width="7.40" height="7.35" fill="#f8e03a"/><rect x="1045.80" y="952.00" width="7.40" height="7.35" fill="#f4aa2c"/><rect x="1052.80" y="952.00" width="7.40" height="7.35" fill="#e6261f"/><rect x="1059.80" y="952.00" width="7.40" height="7.35" fill="#e6261f"/><rect x="1066.80" y="952.00" width="7.40" height="7.35" fill="#e6261f"/><rect x="1073.80" y="952.00" width="7.40" height="7.35" fill="#e6261f"/><rect x="1080.80" y="952.00" width="7.40" height="7.35" fill="#d82020"/><rect x="940.80" y="958.95" width="7.40" height="7.35" fill="#d82020"/><rect x="947.80" y="958.95" width="7.40" height="7.35" fill="#e6261f"/><rect x="954.80" y="958.95" width="7.40" height="7.35" fill="#e6261f"/><rect x="961.80" y="958.95" width="7.40" height="7.35" fill="#ee5a24"/><rect x="968.80" y="958.95" width="7.40" height="7.35" fill="#f4aa2c"/><rect x="975.80" y="958.95" width="7.40" height="7.35" fill="#f4aa2c"/><rect x="982.80" y="958.95" width="7.40" height="7.35" fill="#f8e03a"/><rect x="989.80" y="958.95" width="7.40" height="7.35" fill="#f8e03a"/><rect x="996.80" y="958.95" width="7.40" height="7.35" fill="#f8e03a"/><rect x="1003.80" y="958.95" width="7.40" height="7.35" fill="#f8e03a"/><rect x="1010.80" y="958.95" width="7.40" height="7.35" fill="#f8e03a"/><rect x="1017.80" y="958.95" width="7.40" height="7.35" fill="#f8e03a"/><rect x="1024.80" y="958.95" width="7.40" height="7.35" fill="#f8e03a"/><rect x="1031.80" y="958.95" width="7.40" height="7.35" fill="#f8e03a"/><rect x="1038.80" y="958.95" width="7.40" height="7.35" fill="#f8e03a"/><rect x="1045.80" y="958.95" width="7.40" height="7.35" fill="#f8e03a"/><rect x="1052.80" y="958.95" width="7.40" height="7.35" fill="#f4aa2c"/><rect x="1059.80" y="958.95" width="7.40" height="7.35" fill="#f4aa2c"/><rect x="1066.80" y="958.95" width="7.40" height="7.35" fill="#e6261f"/><rect x="1073.80" y="958.95" width="7.40" height="7.35" fill="#e6261f"/><rect x="1080.80" y="958.95" width="7.40" height="7.35" fill="#e6261f"/><rect x="1087.80" y="958.95" width="7.40" height="7.35" fill="#d82020"/><rect x="940.80" y="965.90" width="7.40" height="7.35" fill="#d82020"/><rect x="947.80" y="965.90" width="7.40" height="7.35" fill="#d82020"/><rect x="954.80" y="965.90" width="7.40" height="7.35" fill="#e6261f"/><rect x="961.80" y="965.90" width="7.40" height="7.35" fill="#e6261f"/><rect x="968.80" y="965.90" width="7.40" height="7.35" fill="#e6261f"/><rect x="975.80" y="965.90" width="7.40" height="7.35" fill="#e6261f"/><rect x="982.80" y="965.90" width="7.40" height="7.35" fill="#e6261f"/><rect x="989.80" y="965.90" width="7.40" height="7.35" fill="#e6261f"/><rect x="996.80" y="965.90" width="7.40" height="7.35" fill="#e6261f"/><rect x="1003.80" y="965.90" width="7.40" height="7.35" fill="#f4aa2c"/><rect x="1010.80" y="965.90" width="7.40" height="7.35" fill="#f4aa2c"/><rect x="1017.80" y="965.90" width="7.40" height="7.35" fill="#f4aa2c"/><rect x="1024.80" y="965.90" width="7.40" height="7.35" fill="#f8e03a"/><rect x="1031.80" y="965.90" width="7.40" height="7.35" fill="#f8e03a"/><rect x="1038.80" y="965.90" width="7.40" height="7.35" fill="#f8e03a"/><rect x="1045.80" y="965.90" width="7.40" height="7.35" fill="#f8e03a"/><rect x="1052.80" y="965.90" width="7.40" height="7.35" fill="#f8e03a"/><rect x="1059.80" y="965.90" width="7.40" height="7.35" fill="#f4aa2c"/><rect x="1066.80" y="965.90" width="7.40" height="7.35" fill="#f4aa2c"/><rect x="1073.80" y="965.90" width="7.40" height="7.35" fill="#e6261f"/><rect x="1080.80" y="965.90" width="7.40" height="7.35" fill="#e6261f"/><rect x="1087.80" y="965.90" width="7.40" height="7.35" fill="#d82020"/><rect x="1094.80" y="965.90" width="7.40" height="7.35" fill="#b01c1c"/><rect x="940.80" y="972.85" width="7.40" height="7.35" fill="#b01c1c"/><rect x="947.80" y="972.85" width="7.40" height="7.35" fill="#b01c1c"/><rect x="954.80" y="972.85" width="7.40" height="7.35" fill="#d82020"/><rect x="961.80" y="972.85" width="7.40" height="7.35" fill="#d82020"/><rect x="968.80" y="972.85" width="7.40" height="7.35" fill="#d82020"/><rect x="975.80" y="972.85" width="7.40" height="7.35" fill="#d82020"/><rect x="982.80" y="972.85" width="7.40" height="7.35" fill="#d82020"/><rect x="989.80" y="972.85" width="7.40" height="7.35" fill="#d82020"/><rect x="996.80" y="972.85" width="7.40" height="7.35" fill="#d82020"/><rect x="1003.80" y="972.85" width="7.40" height="7.35" fill="#d82020"/><rect x="1010.80" y="972.85" width="7.40" height="7.35" fill="#e6261f"/><rect x="1017.80" y="972.85" width="7.40" height="7.35" fill="#e6261f"/><rect x="1024.80" y="972.85" width="7.40" height="7.35" fill="#f4aa2c"/><rect x="1031.80" y="972.85" width="7.40" height="7.35" fill="#f8e03a"/><rect x="1038.80" y="972.85" width="7.40" height="7.35" fill="#f8e03a"/><rect x="1045.80" y="972.85" width="7.40" height="7.35" fill="#f8e03a"/><rect x="1052.80" y="972.85" width="7.40" height="7.35" fill="#f8e03a"/><rect x="1059.80" y="972.85" width="7.40" height="7.35" fill="#f8e03a"/><rect x="1066.80" y="972.85" width="7.40" height="7.35" fill="#f8e03a"/><rect x="1073.80" y="972.85" width="7.40" height="7.35" fill="#f4aa2c"/><rect x="1080.80" y="972.85" width="7.40" height="7.35" fill="#e6261f"/><rect x="1087.80" y="972.85" width="7.40" height="7.35" fill="#e6261f"/><rect x="1094.80" y="972.85" width="7.40" height="7.35" fill="#e6261f"/><rect x="1101.80" y="972.85" width="7.40" height="7.35" fill="#d82020"/><rect x="947.80" y="979.80" width="7.40" height="7.35" fill="#701616"/><rect x="954.80" y="979.80" width="7.40" height="7.35" fill="#701616"/><rect x="961.80" y="979.80" width="7.40" height="7.35" fill="#3c0e0e"/><rect x="996.80" y="979.80" width="7.40" height="7.35" fill="#3c0e0e"/><rect x="1003.80" y="979.80" width="7.40" height="7.35" fill="#701616"/><rect x="1010.80" y="979.80" width="7.40" height="7.35" fill="#b01c1c"/><rect x="1017.80" y="979.80" width="7.40" height="7.35" fill="#d82020"/><rect x="1024.80" y="979.80" width="7.40" height="7.35" fill="#e6261f"/><rect x="1031.80" y="979.80" width="7.40" height="7.35" fill="#e6261f"/><rect x="1038.80" y="979.80" width="7.40" height="7.35" fill="#f4aa2c"/><rect x="1045.80" y="979.80" width="7.40" height="7.35" fill="#f8e03a"/><rect x="1052.80" y="979.80" width="7.40" height="7.35" fill="#f8e03a"/><rect x="1059.80" y="979.80" width="7.40" height="7.35" fill="#fbf28a"/><rect x="1066.80" y="979.80" width="7.40" height="7.35" fill="#fbf28a"/><rect x="1073.80" y="979.80" width="7.40" height="7.35" fill="#f8e03a"/><rect x="1080.80" y="979.80" width="7.40" height="7.35" fill="#f8e03a"/><rect x="1087.80" y="979.80" width="7.40" height="7.35" fill="#f4aa2c"/><rect x="1094.80" y="979.80" width="7.40" height="7.35" fill="#e6261f"/><rect x="1101.80" y="979.80" width="7.40" height="7.35" fill="#e6261f"/><rect x="975.80" y="986.75" width="7.40" height="7.35" fill="#3c0e0e"/><rect x="1003.80" y="986.75" width="7.40" height="7.35" fill="#701616"/><rect x="1010.80" y="986.75" width="7.40" height="7.35" fill="#b01c1c"/><rect x="1017.80" y="986.75" width="7.40" height="7.35" fill="#d82020"/><rect x="1024.80" y="986.75" width="7.40" height="7.35" fill="#d82020"/><rect x="1031.80" y="986.75" width="7.40" height="7.35" fill="#e6261f"/><rect x="1038.80" y="986.75" width="7.40" height="7.35" fill="#e6261f"/><rect x="1045.80" y="986.75" width="7.40" height="7.35" fill="#f4aa2c"/><rect x="1052.80" y="986.75" width="7.40" height="7.35" fill="#f8e03a"/><rect x="1059.80" y="986.75" width="7.40" height="7.35" fill="#f8e03a"/><rect x="1066.80" y="986.75" width="7.40" height="7.35" fill="#fbf28a"/><rect x="1073.80" y="986.75" width="7.40" height="7.35" fill="#fbf28a"/><rect x="1080.80" y="986.75" width="7.40" height="7.35" fill="#f8e03a"/><rect x="1087.80" y="986.75" width="7.40" height="7.35" fill="#f8e03a"/><rect x="1094.80" y="986.75" width="7.40" height="7.35" fill="#e6261f"/><rect x="1101.80" y="986.75" width="7.40" height="7.35" fill="#e6261f"/><rect x="968.80" y="993.70" width="7.40" height="7.35" fill="#3c0e0e"/><rect x="975.80" y="993.70" width="7.40" height="7.35" fill="#701616"/><rect x="996.80" y="993.70" width="7.40" height="7.35" fill="#701616"/><rect x="1003.80" y="993.70" width="7.40" height="7.35" fill="#701616"/><rect x="1010.80" y="993.70" width="7.40" height="7.35" fill="#b01c1c"/><rect x="1017.80" y="993.70" width="7.40" height="7.35" fill="#d82020"/><rect x="1024.80" y="993.70" width="7.40" height="7.35" fill="#d82020"/><rect x="1031.80" y="993.70" width="7.40" height="7.35" fill="#e6261f"/><rect x="1038.80" y="993.70" width="7.40" height="7.35" fill="#e6261f"/><rect x="1045.80" y="993.70" width="7.40" height="7.35" fill="#e6261f"/><rect x="1052.80" y="993.70" width="7.40" height="7.35" fill="#f4aa2c"/><rect x="1059.80" y="993.70" width="7.40" height="7.35" fill="#f8e03a"/><rect x="1066.80" y="993.70" width="7.40" height="7.35" fill="#f8e03a"/><rect x="1073.80" y="993.70" width="7.40" height="7.35" fill="#f8e03a"/><rect x="1080.80" y="993.70" width="7.40" height="7.35" fill="#f8e03a"/><rect x="1087.80" y="993.70" width="7.40" height="7.35" fill="#f8e03a"/><rect x="1094.80" y="993.70" width="7.40" height="7.35" fill="#e6261f"/><rect x="1101.80" y="993.70" width="7.40" height="7.35" fill="#e6261f"/><rect x="961.80" y="1000.65" width="7.40" height="7.35" fill="#3c0e0e"/><rect x="968.80" y="1000.65" width="7.40" height="7.35" fill="#701616"/><rect x="982.80" y="1000.65" width="7.40" height="7.35" fill="#3c0e0e"/><rect x="996.80" y="1000.65" width="7.40" height="7.35" fill="#701616"/><rect x="1003.80" y="1000.65" width="7.40" height="7.35" fill="#701616"/><rect x="1010.80" y="1000.65" width="7.40" height="7.35" fill="#b01c1c"/><rect x="1017.80" y="1000.65" width="7.40" height="7.35" fill="#b01c1c"/><rect x="1024.80" y="1000.65" width="7.40" height="7.35" fill="#b01c1c"/><rect x="1031.80" y="1000.65" width="7.40" height="7.35" fill="#d82020"/><rect x="1038.80" y="1000.65" width="7.40" height="7.35" fill="#d82020"/><rect x="1045.80" y="1000.65" width="7.40" height="7.35" fill="#e6261f"/><rect x="1052.80" y="1000.65" width="7.40" height="7.35" fill="#e6261f"/><rect x="1059.80" y="1000.65" width="7.40" height="7.35" fill="#e6261f"/><rect x="1066.80" y="1000.65" width="7.40" height="7.35" fill="#e6261f"/><rect x="1073.80" y="1000.65" width="7.40" height="7.35" fill="#f4aa2c"/><rect x="1080.80" y="1000.65" width="7.40" height="7.35" fill="#f4aa2c"/><rect x="1087.80" y="1000.65" width="7.40" height="7.35" fill="#e6261f"/><rect x="1094.80" y="1000.65" width="7.40" height="7.35" fill="#e6261f"/><rect x="1101.80" y="1000.65" width="7.40" height="7.35" fill="#d82020"/><rect x="982.80" y="1007.60" width="7.40" height="7.35" fill="#3c0e0e"/><rect x="989.80" y="1007.60" width="7.40" height="7.35" fill="#3c0e0e"/><rect x="996.80" y="1007.60" width="7.40" height="7.35" fill="#701616"/><rect x="1003.80" y="1007.60" width="7.40" height="7.35" fill="#701616"/><rect x="1010.80" y="1007.60" width="7.40" height="7.35" fill="#b01c1c"/><rect x="1017.80" y="1007.60" width="7.40" height="7.35" fill="#b01c1c"/><rect x="1024.80" y="1007.60" width="7.40" height="7.35" fill="#b01c1c"/><rect x="1031.80" y="1007.60" width="7.40" height="7.35" fill="#701616"/><rect x="1038.80" y="1007.60" width="7.40" height="7.35" fill="#701616"/><rect x="1045.80" y="1007.60" width="7.40" height="7.35" fill="#b01c1c"/><rect x="1052.80" y="1007.60" width="7.40" height="7.35" fill="#b01c1c"/><rect x="1059.80" y="1007.60" width="7.40" height="7.35" fill="#b01c1c"/><rect x="1066.80" y="1007.60" width="7.40" height="7.35" fill="#d82020"/><rect x="1073.80" y="1007.60" width="7.40" height="7.35" fill="#d82020"/><rect x="1080.80" y="1007.60" width="7.40" height="7.35" fill="#d82020"/><rect x="1087.80" y="1007.60" width="7.40" height="7.35" fill="#d82020"/><rect x="1094.80" y="1007.60" width="7.40" height="7.35" fill="#b01c1c"/><rect x="1101.80" y="1007.60" width="7.40" height="7.35" fill="#701616"/><rect x="954.80" y="1014.55" width="7.40" height="7.35" fill="#3c0e0e"/><rect x="961.80" y="1014.55" width="7.40" height="7.35" fill="#701616"/><rect x="968.80" y="1014.55" width="7.40" height="7.35" fill="#701616"/><rect x="975.80" y="1014.55" width="7.40" height="7.35" fill="#701616"/><rect x="982.80" y="1014.55" width="7.40" height="7.35" fill="#701616"/><rect x="989.80" y="1014.55" width="7.40" height="7.35" fill="#701616"/><rect x="996.80" y="1014.55" width="7.40" height="7.35" fill="#701616"/><rect x="1003.80" y="1014.55" width="7.40" height="7.35" fill="#b01c1c"/><rect x="1010.80" y="1014.55" width="7.40" height="7.35" fill="#d82020"/><rect x="1017.80" y="1014.55" width="7.40" height="7.35" fill="#b01c1c"/><rect x="1024.80" y="1014.55" width="7.40" height="7.35" fill="#b01c1c"/><rect x="1031.80" y="1014.55" width="7.40" height="7.35" fill="#701616"/><rect x="989.80" y="1021.50" width="7.40" height="7.35" fill="#3c0e0e"/><rect x="996.80" y="1021.50" width="7.40" height="7.35" fill="#701616"/><rect x="1003.80" y="1021.50" width="7.40" height="7.35" fill="#701616"/><rect x="1010.80" y="1021.50" width="7.40" height="7.35" fill="#b01c1c"/><rect x="1017.80" y="1021.50" width="7.40" height="7.35" fill="#701616"/><rect x="1003.80" y="1028.45" width="7.40" height="7.35" fill="#3c0e0e"/><rect x="1010.80" y="1028.45" width="7.40" height="7.35" fill="#3c0e0e"/></g></g></g>
<clipPath id="m4b"><rect x="1116" y="672" width="168" height="396"/></clipPath><g clip-path="url(#m4b)"><rect x="1116" y="672" width="168" height="396" fill="#000"/><g transform="translate(1116,672)"><g filter="url(#tex)"><rect x="0" y="0" width="168" height="396" fill="#000"/><rect x="0" y="8" width="168" height="340" fill="#0a0a0a"/><g filter="url(#blur6)"><ellipse cx="20" cy="140" rx="14" ry="40" fill="#1c1c1c"/><ellipse cx="150" cy="160" rx="12" ry="50" fill="#1e1e1e"/></g><g filter="url(#blur1)"><path d="M62 20 C68 17 74 20 78 28 C100 24 122 40 127 66 C130 90 126 105 122 114 C124 125 132 140 136 160 C138 180 142 200 146 215 C150 250 150 290 146 348 L8 348 C5 320 3 290 4 260 C8 235 12 215 16 195 C20 170 25 150 40 130 C45 122 48 118 50 112 C44 100 40 80 42 55 C44 38 50 24 58 16Z" fill="#a6a6a6"/></g><g filter="url(#blur2)"><path d="M62 34 C76 24 110 26 122 48 C130 70 128 98 114 110 C104 116 92 117 82 115 C68 110 60 98 58 80 C56 62 56 44 62 34Z" fill="#c8c8c8"/><ellipse cx="52" cy="168" rx="26" ry="38" fill="#b8b8b8"/><ellipse cx="116" cy="168" rx="22" ry="38" fill="#b0b0b0"/><ellipse cx="48" cy="318" rx="40" ry="30" fill="#aaaaaa"/><ellipse cx="115" cy="318" rx="30" ry="30" fill="#a8a8a8"/><path d="M22 238 C50 220 110 218 140 236 L140 250 C110 234 50 236 22 252Z" fill="#b4b4b4"/></g><g filter="url(#blur1)"><path d="M62 196 C70 184 78 178 86 178 C94 178 102 184 108 196 C98 192 92 190 85 190 C78 190 70 192 62 196Z" fill="#1a1a1a"/><path d="M72 138 L84 178 L96 138" stroke="#d8d8d8" stroke-width="2.5" fill="none"/><path d="M66 145 L90 165 M102 145 L80 165" stroke="#6a6a6a" stroke-width="1.5" fill="none"/><path d="M136 92 C155 100 160 120 152 135 C145 145 132 140 128 128" stroke="#3a3a3a" stroke-width="6" fill="none"/><path d="M60 34 C56 60 58 90 66 100" stroke="#555" stroke-width="2" fill="none"/><path d="M66 100 C80 116 100 118 118 104" stroke="#3a3a3a" stroke-width="2" fill="none"/></g><g filter="url(#blur2)"><path d="M24 252 C30 236 44 226 62 224 C72 224 76 232 76 244 L75 290 C58 294 40 292 26 286 C22 274 22 262 24 252Z" fill="#2e2e2e"/><path d="M90 230 C102 222 122 220 132 230 C140 244 140 262 136 278 C122 282 106 282 94 278 C90 262 88 244 90 230Z" fill="#2a2a2a"/></g><g filter="url(#blur2)"><ellipse cx="113" cy="300" rx="20" ry="24" fill="#a6a6a6"/><ellipse cx="50" cy="322" rx="34" ry="28" fill="#9e9e9e"/></g><g filter="url(#blur1)"><path d="M80 230 C84 250 86 280 85 304" stroke="#a8a8a8" stroke-width="7" fill="none"/><path d="M21 265 C35 250 50 240 62 242 C68 244 70 248 71 252" stroke="#c8c8c8" stroke-width="4" fill="none"/><path d="M74 236 C80 230 90 230 98 236" stroke="#b0b0b0" stroke-width="3" fill="none"/><circle cx="64" cy="286" r="4" fill="#a0a0a0"/><path d="M84 325 V345" stroke="#555" stroke-width="4"/></g><rect x="0" y="348" width="168" height="48" fill="#000"/><rect x="0" y="0" width="168" height="8" fill="#000"/></g><rect x="0" y="8" width="168" height="340" fill="#a06050" opacity="0.1"/></g></g>
<g clip-path="url(#m4b)" filter="url(#blur1)"><g shape-rendering="crispEdges"><rect x="1200.00" y="813.00" width="7.40" height="7.35" fill="#3c0e0e" fill-opacity="0.45"/><rect x="1193.00" y="819.95" width="7.40" height="7.35" fill="#3c0e0e" fill-opacity="0.45"/><rect x="1200.00" y="819.95" width="7.40" height="7.35" fill="#701616" fill-opacity="0.45"/><rect x="1193.00" y="826.90" width="7.40" height="7.35" fill="#701616" fill-opacity="0.45"/><rect x="1200.00" y="826.90" width="7.40" height="7.35" fill="#701616" fill-opacity="0.45"/><rect x="1207.00" y="826.90" width="7.40" height="7.35" fill="#701616" fill-opacity="0.45"/><rect x="1214.00" y="826.90" width="7.40" height="7.35" fill="#3c0e0e" fill-opacity="0.45"/><rect x="1193.00" y="833.85" width="7.40" height="7.35" fill="#701616" fill-opacity="0.45"/><rect x="1200.00" y="833.85" width="7.40" height="7.35" fill="#3c0e0e" fill-opacity="0.45"/><rect x="1207.00" y="833.85" width="7.40" height="7.35" fill="#701616" fill-opacity="0.45"/><rect x="1214.00" y="833.85" width="7.40" height="7.35" fill="#701616" fill-opacity="0.45"/><rect x="1193.00" y="840.80" width="7.40" height="7.35" fill="#701616" fill-opacity="0.45"/><rect x="1200.00" y="840.80" width="7.40" height="7.35" fill="#3c0e0e" fill-opacity="0.45"/><rect x="1207.00" y="840.80" width="7.40" height="7.35" fill="#3c0e0e" fill-opacity="0.45"/><rect x="1214.00" y="840.80" width="7.40" height="7.35" fill="#701616" fill-opacity="0.45"/><rect x="1249.00" y="840.80" width="7.40" height="7.35" fill="#3c0e0e" fill-opacity="0.45"/><rect x="1186.00" y="847.75" width="7.40" height="7.35" fill="#3c0e0e" fill-opacity="0.45"/><rect x="1193.00" y="847.75" width="7.40" height="7.35" fill="#701616" fill-opacity="0.45"/><rect x="1200.00" y="847.75" width="7.40" height="7.35" fill="#701616" fill-opacity="0.45"/><rect x="1207.00" y="847.75" width="7.40" height="7.35" fill="#701616" fill-opacity="0.45"/><rect x="1214.00" y="847.75" width="7.40" height="7.35" fill="#701616" fill-opacity="0.45"/><rect x="1221.00" y="847.75" width="7.40" height="7.35" fill="#3c0e0e" fill-opacity="0.45"/><rect x="1172.00" y="854.70" width="7.40" height="7.35" fill="#701616" fill-opacity="0.45"/><rect x="1179.00" y="854.70" width="7.40" height="7.35" fill="#b01c1c" fill-opacity="0.45"/><rect x="1186.00" y="854.70" width="7.40" height="7.35" fill="#e6261f" fill-opacity="0.72"/><rect x="1193.00" y="854.70" width="7.40" height="7.35" fill="#e6261f" fill-opacity="0.72"/><rect x="1200.00" y="854.70" width="7.40" height="7.35" fill="#e6261f" fill-opacity="0.72"/><rect x="1207.00" y="854.70" width="7.40" height="7.35" fill="#e6261f" fill-opacity="0.72"/><rect x="1214.00" y="854.70" width="7.40" height="7.35" fill="#b01c1c" fill-opacity="0.45"/><rect x="1221.00" y="854.70" width="7.40" height="7.35" fill="#701616" fill-opacity="0.45"/><rect x="1158.00" y="861.65" width="7.40" height="7.35" fill="#701616" fill-opacity="0.45"/><rect x="1165.00" y="861.65" width="7.40" height="7.35" fill="#b01c1c" fill-opacity="0.45"/><rect x="1172.00" y="861.65" width="7.40" height="7.35" fill="#e6261f" fill-opacity="0.72"/><rect x="1179.00" y="861.65" width="7.40" height="7.35" fill="#ee5a24" fill-opacity="0.88"/><rect x="1186.00" y="861.65" width="7.40" height="7.35" fill="#ee5a24" fill-opacity="0.88"/><rect x="1193.00" y="861.65" width="7.40" height="7.35" fill="#ee5a24" fill-opacity="0.88"/><rect x="1200.00" y="861.65" width="7.40" height="7.35" fill="#ee5a24" fill-opacity="0.88"/><rect x="1207.00" y="861.65" width="7.40" height="7.35" fill="#ee5a24" fill-opacity="0.88"/><rect x="1214.00" y="861.65" width="7.40" height="7.35" fill="#e6261f" fill-opacity="0.72"/><rect x="1221.00" y="861.65" width="7.40" height="7.35" fill="#b01c1c" fill-opacity="0.45"/><rect x="1228.00" y="861.65" width="7.40" height="7.35" fill="#701616" fill-opacity="0.45"/><rect x="1158.00" y="868.60" width="7.40" height="7.35" fill="#b01c1c" fill-opacity="0.45"/><rect x="1165.00" y="868.60" width="7.40" height="7.35" fill="#e6261f" fill-opacity="0.72"/><rect x="1172.00" y="868.60" width="7.40" height="7.35" fill="#ee5a24" fill-opacity="0.88"/><rect x="1179.00" y="868.60" width="7.40" height="7.35" fill="#ee5a24" fill-opacity="0.88"/><rect x="1186.00" y="868.60" width="7.40" height="7.35" fill="#ee5a24" fill-opacity="0.88"/><rect x="1193.00" y="868.60" width="7.40" height="7.35" fill="#ee5a24" fill-opacity="0.88"/><rect x="1200.00" y="868.60" width="7.40" height="7.35" fill="#f8e03a" fill-opacity="0.88"/><rect x="1207.00" y="868.60" width="7.40" height="7.35" fill="#ee5a24" fill-opacity="0.88"/><rect x="1214.00" y="868.60" width="7.40" height="7.35" fill="#ee5a24" fill-opacity="0.88"/><rect x="1221.00" y="868.60" width="7.40" height="7.35" fill="#e6261f" fill-opacity="0.72"/><rect x="1228.00" y="868.60" width="7.40" height="7.35" fill="#b01c1c" fill-opacity="0.45"/><rect x="1235.00" y="868.60" width="7.40" height="7.35" fill="#701616" fill-opacity="0.45"/><rect x="1151.00" y="875.55" width="7.40" height="7.35" fill="#701616" fill-opacity="0.45"/><rect x="1158.00" y="875.55" width="7.40" height="7.35" fill="#b01c1c" fill-opacity="0.45"/><rect x="1165.00" y="875.55" width="7.40" height="7.35" fill="#e6261f" fill-opacity="0.72"/><rect x="1172.00" y="875.55" width="7.40" height="7.35" fill="#ee5a24" fill-opacity="0.88"/><rect x="1179.00" y="875.55" width="7.40" height="7.35" fill="#ee5a24" fill-opacity="0.88"/><rect x="1186.00" y="875.55" width="7.40" height="7.35" fill="#ee5a24" fill-opacity="0.88"/><rect x="1193.00" y="875.55" width="7.40" height="7.35" fill="#ee5a24" fill-opacity="0.88"/><rect x="1200.00" y="875.55" width="7.40" height="7.35" fill="#ee5a24" fill-opacity="0.88"/><rect x="1207.00" y="875.55" width="7.40" height="7.35" fill="#ee5a24" fill-opacity="0.88"/><rect x="1214.00" y="875.55" width="7.40" height="7.35" fill="#ee5a24" fill-opacity="0.88"/><rect x="1221.00" y="875.55" width="7.40" height="7.35" fill="#e6261f" fill-opacity="0.72"/><rect x="1228.00" y="875.55" width="7.40" height="7.35" fill="#e6261f" fill-opacity="0.72"/><rect x="1235.00" y="875.55" width="7.40" height="7.35" fill="#b01c1c" fill-opacity="0.45"/><rect x="1242.00" y="875.55" width="7.40" height="7.35" fill="#701616" fill-opacity="0.45"/><rect x="1151.00" y="882.50" width="7.40" height="7.35" fill="#701616" fill-opacity="0.45"/><rect x="1158.00" y="882.50" width="7.40" height="7.35" fill="#b01c1c" fill-opacity="0.45"/><rect x="1165.00" y="882.50" width="7.40" height="7.35" fill="#b01c1c" fill-opacity="0.45"/><rect x="1172.00" y="882.50" width="7.40" height="7.35" fill="#e6261f" fill-opacity="0.72"/><rect x="1179.00" y="882.50" width="7.40" height="7.35" fill="#e6261f" fill-opacity="0.72"/><rect x="1186.00" y="882.50" width="7.40" height="7.35" fill="#e6261f" fill-opacity="0.72"/><rect x="1193.00" y="882.50" width="7.40" height="7.35" fill="#e6261f" fill-opacity="0.72"/><rect x="1200.00" y="882.50" width="7.40" height="7.35" fill="#e6261f" fill-opacity="0.72"/><rect x="1207.00" y="882.50" width="7.40" height="7.35" fill="#e6261f" fill-opacity="0.72"/><rect x="1214.00" y="882.50" width="7.40" height="7.35" fill="#e6261f" fill-opacity="0.72"/><rect x="1221.00" y="882.50" width="7.40" height="7.35" fill="#b01c1c" fill-opacity="0.45"/><rect x="1228.00" y="882.50" width="7.40" height="7.35" fill="#b01c1c" fill-opacity="0.45"/><rect x="1235.00" y="882.50" width="7.40" height="7.35" fill="#701616" fill-opacity="0.45"/><rect x="1242.00" y="882.50" width="7.40" height="7.35" fill="#701616" fill-opacity="0.45"/><rect x="1158.00" y="889.45" width="7.40" height="7.35" fill="#3c0e0e" fill-opacity="0.45"/><rect x="1165.00" y="889.45" width="7.40" height="7.35" fill="#701616" fill-opacity="0.45"/><rect x="1172.00" y="889.45" width="7.40" height="7.35" fill="#701616" fill-opacity="0.45"/><rect x="1179.00" y="889.45" width="7.40" height="7.35" fill="#701616" fill-opacity="0.45"/><rect x="1186.00" y="889.45" width="7.40" height="7.35" fill="#701616" fill-opacity="0.45"/><rect x="1193.00" y="889.45" width="7.40" height="7.35" fill="#701616" fill-opacity="0.45"/><rect x="1200.00" y="889.45" width="7.40" height="7.35" fill="#701616" fill-opacity="0.45"/><rect x="1207.00" y="889.45" width="7.40" height="7.35" fill="#701616" fill-opacity="0.45"/><rect x="1214.00" y="889.45" width="7.40" height="7.35" fill="#701616" fill-opacity="0.45"/><rect x="1221.00" y="889.45" width="7.40" height="7.35" fill="#701616" fill-opacity="0.45"/><rect x="1228.00" y="889.45" width="7.40" height="7.35" fill="#701616" fill-opacity="0.45"/><rect x="1235.00" y="889.45" width="7.40" height="7.35" fill="#3c0e0e" fill-opacity="0.45"/><rect x="1242.00" y="889.45" width="7.40" height="7.35" fill="#3c0e0e" fill-opacity="0.45"/><rect x="1158.00" y="917.25" width="7.40" height="7.35" fill="#b01c1c" fill-opacity="0.45"/><rect x="1165.00" y="917.25" width="7.40" height="7.35" fill="#e6261f" fill-opacity="0.72"/><rect x="1172.00" y="917.25" width="7.40" height="7.35" fill="#ee5a24" fill-opacity="0.88"/><rect x="1179.00" y="917.25" width="7.40" height="7.35" fill="#ee5a24" fill-opacity="0.88"/><rect x="1186.00" y="917.25" width="7.40" height="7.35" fill="#ee5a24" fill-opacity="0.88"/><rect x="1193.00" y="917.25" width="7.40" height="7.35" fill="#ee5a24" fill-opacity="0.88"/><rect x="1200.00" y="917.25" width="7.40" height="7.35" fill="#e6261f" fill-opacity="0.72"/><rect x="1207.00" y="917.25" width="7.40" height="7.35" fill="#b01c1c" fill-opacity="0.45"/><rect x="1214.00" y="917.25" width="7.40" height="7.35" fill="#701616" fill-opacity="0.45"/><rect x="1144.00" y="924.20" width="7.40" height="7.35" fill="#701616" fill-opacity="0.45"/><rect x="1151.00" y="924.20" width="7.40" height="7.35" fill="#b01c1c" fill-opacity="0.45"/><rect x="1158.00" y="924.20" width="7.40" height="7.35" fill="#e6261f" fill-opacity="0.72"/><rect x="1165.00" y="924.20" width="7.40" height="7.35" fill="#f8e03a" fill-opacity="0.88"/><rect x="1172.00" y="924.20" width="7.40" height="7.35" fill="#fbf28a" fill-opacity="0.88"/><rect x="1179.00" y="924.20" width="7.40" height="7.35" fill="#fbf28a" fill-opacity="0.88"/><rect x="1186.00" y="924.20" width="7.40" height="7.35" fill="#fbf28a" fill-opacity="0.88"/><rect x="1193.00" y="924.20" width="7.40" height="7.35" fill="#f8e03a" fill-opacity="0.88"/><rect x="1200.00" y="924.20" width="7.40" height="7.35" fill="#f8e03a" fill-opacity="0.88"/><rect x="1207.00" y="924.20" width="7.40" height="7.35" fill="#ee5a24" fill-opacity="0.88"/><rect x="1214.00" y="924.20" width="7.40" height="7.35" fill="#ee5a24" fill-opacity="0.88"/><rect x="1221.00" y="924.20" width="7.40" height="7.35" fill="#e6261f" fill-opacity="0.72"/><rect x="1228.00" y="924.20" width="7.40" height="7.35" fill="#701616" fill-opacity="0.45"/><rect x="1123.00" y="931.15" width="7.40" height="7.35" fill="#701616" fill-opacity="0.45"/><rect x="1130.00" y="931.15" width="7.40" height="7.35" fill="#b01c1c" fill-opacity="0.45"/><rect x="1137.00" y="931.15" width="7.40" height="7.35" fill="#b01c1c" fill-opacity="0.45"/><rect x="1144.00" y="931.15" width="7.40" height="7.35" fill="#e6261f" fill-opacity="0.72"/><rect x="1151.00" y="931.15" width="7.40" height="7.35" fill="#ee5a24" fill-opacity="0.88"/><rect x="1158.00" y="931.15" width="7.40" height="7.35" fill="#f8e03a" fill-opacity="0.88"/><rect x="1165.00" y="931.15" width="7.40" height="7.35" fill="#fbf28a" fill-opacity="0.88"/><rect x="1172.00" y="931.15" width="7.40" height="7.35" fill="#fbf28a" fill-opacity="0.88"/><rect x="1179.00" y="931.15" width="7.40" height="7.35" fill="#fbf28a" fill-opacity="0.88"/><rect x="1186.00" y="931.15" width="7.40" height="7.35" fill="#fbf28a" fill-opacity="0.88"/><rect x="1193.00" y="931.15" width="7.40" height="7.35" fill="#fbf28a" fill-opacity="0.88"/><rect x="1200.00" y="931.15" width="7.40" height="7.35" fill="#fbf28a" fill-opacity="0.88"/><rect x="1207.00" y="931.15" width="7.40" height="7.35" fill="#f8e03a" fill-opacity="0.88"/><rect x="1214.00" y="931.15" width="7.40" height="7.35" fill="#ee5a24" fill-opacity="0.88"/><rect x="1221.00" y="931.15" width="7.40" height="7.35" fill="#ee5a24" fill-opacity="0.88"/><rect x="1228.00" y="931.15" width="7.40" height="7.35" fill="#ee5a24" fill-opacity="0.88"/><rect x="1235.00" y="931.15" width="7.40" height="7.35" fill="#e6261f" fill-opacity="0.72"/><rect x="1242.00" y="931.15" width="7.40" height="7.35" fill="#b01c1c" fill-opacity="0.45"/><rect x="1249.00" y="931.15" width="7.40" height="7.35" fill="#701616" fill-opacity="0.45"/><rect x="1123.00" y="938.10" width="7.40" height="7.35" fill="#b01c1c" fill-opacity="0.45"/><rect x="1130.00" y="938.10" width="7.40" height="7.35" fill="#e6261f" fill-opacity="0.72"/><rect x="1137.00" y="938.10" width="7.40" height="7.35" fill="#e6261f" fill-opacity="0.72"/><rect x="1144.00" y="938.10" width="7.40" height="7.35" fill="#ee5a24" fill-opacity="0.88"/><rect x="1151.00" y="938.10" width="7.40" height="7.35" fill="#f4aa2c" fill-opacity="0.88"/><rect x="1158.00" y="938.10" width="7.40" height="7.35" fill="#fbf28a" fill-opacity="0.88"/><rect x="1165.00" y="938.10" width="7.40" height="7.35" fill="#fbf28a" fill-opacity="0.88"/><rect x="1172.00" y="938.10" width="7.40" height="7.35" fill="#fbf28a" fill-opacity="0.88"/><rect x="1179.00" y="938.10" width="7.40" height="7.35" fill="#fffcee" fill-opacity="0.88"/><rect x="1186.00" y="938.10" width="7.40" height="7.35" fill="#fbf28a" fill-opacity="0.88"/><rect x="1193.00" y="938.10" width="7.40" height="7.35" fill="#fbf28a" fill-opacity="0.88"/><rect x="1200.00" y="938.10" width="7.40" height="7.35" fill="#fbf28a" fill-opacity="0.88"/><rect x="1207.00" y="938.10" width="7.40" height="7.35" fill="#fbf28a" fill-opacity="0.88"/><rect x="1214.00" y="938.10" width="7.40" height="7.35" fill="#f8e03a" fill-opacity="0.88"/><rect x="1221.00" y="938.10" width="7.40" height="7.35" fill="#ee5a24" fill-opacity="0.88"/><rect x="1228.00" y="938.10" width="7.40" height="7.35" fill="#ee5a24" fill-opacity="0.88"/><rect x="1235.00" y="938.10" width="7.40" height="7.35" fill="#ee5a24" fill-opacity="0.88"/><rect x="1242.00" y="938.10" width="7.40" height="7.35" fill="#e6261f" fill-opacity="0.72"/><rect x="1249.00" y="938.10" width="7.40" height="7.35" fill="#b01c1c" fill-opacity="0.45"/><rect x="1256.00" y="938.10" width="7.40" height="7.35" fill="#701616" fill-opacity="0.45"/><rect x="1116.00" y="945.05" width="7.40" height="7.35" fill="#b01c1c" fill-opacity="0.45"/><rect x="1123.00" y="945.05" width="7.40" height="7.35" fill="#e6261f" fill-opacity="0.72"/><rect x="1130.00" y="945.05" width="7.40" height="7.35" fill="#ee5a24" fill-opacity="0.88"/><rect x="1137.00" y="945.05" width="7.40" height="7.35" fill="#ee5a24" fill-opacity="0.88"/><rect x="1144.00" y="945.05" width="7.40" height="7.35" fill="#f4aa2c" fill-opacity="0.88"/><rect x="1151.00" y="945.05" width="7.40" height="7.35" fill="#f8e03a" fill-opacity="0.88"/><rect x="1158.00" y="945.05" width="7.40" height="7.35" fill="#fbf28a" fill-opacity="0.88"/><rect x="1165.00" y="945.05" width="7.40" height="7.35" fill="#fbf28a" fill-opacity="0.88"/><rect x="1172.00" y="945.05" width="7.40" height="7.35" fill="#fffcee" fill-opacity="0.88"/><rect x="1179.00" y="945.05" width="7.40" height="7.35" fill="#fffcee" fill-opacity="0.88"/><rect x="1186.00" y="945.05" width="7.40" height="7.35" fill="#fffcee" fill-opacity="0.88"/><rect x="1193.00" y="945.05" width="7.40" height="7.35" fill="#fbf28a" fill-opacity="0.88"/><rect x="1200.00" y="945.05" width="7.40" height="7.35" fill="#fbf28a" fill-opacity="0.88"/><rect x="1207.00" y="945.05" width="7.40" height="7.35" fill="#fbf28a" fill-opacity="0.88"/><rect x="1214.00" y="945.05" width="7.40" height="7.35" fill="#f8e03a" fill-opacity="0.88"/><rect x="1221.00" y="945.05" width="7.40" height="7.35" fill="#f8e03a" fill-opacity="0.88"/><rect x="1228.00" y="945.05" width="7.40" height="7.35" fill="#ee5a24" fill-opacity="0.88"/><rect x="1235.00" y="945.05" width="7.40" height="7.35" fill="#ee5a24" fill-opacity="0.88"/><rect x="1242.00" y="945.05" width="7.40" height="7.35" fill="#ee5a24" fill-opacity="0.88"/><rect x="1249.00" y="945.05" width="7.40" height="7.35" fill="#e6261f" fill-opacity="0.72"/><rect x="1256.00" y="945.05" width="7.40" height="7.35" fill="#b01c1c" fill-opacity="0.45"/><rect x="1116.00" y="952.00" width="7.40" height="7.35" fill="#e6261f" fill-opacity="0.72"/><rect x="1123.00" y="952.00" width="7.40" height="7.35" fill="#ee5a24" fill-opacity="0.88"/><rect x="1130.00" y="952.00" width="7.40" height="7.35" fill="#ee5a24" fill-opacity="0.88"/><rect x="1137.00" y="952.00" width="7.40" height="7.35" fill="#f4aa2c" fill-opacity="0.88"/><rect x="1144.00" y="952.00" width="7.40" height="7.35" fill="#f8e03a" fill-opacity="0.88"/><rect x="1151.00" y="952.00" width="7.40" height="7.35" fill="#fbf28a" fill-opacity="0.88"/><rect x="1158.00" y="952.00" width="7.40" height="7.35" fill="#fbf28a" fill-opacity="0.88"/><rect x="1165.00" y="952.00" width="7.40" height="7.35" fill="#fbf28a" fill-opacity="0.88"/><rect x="1172.00" y="952.00" width="7.40" height="7.35" fill="#fbf28a" fill-opacity="0.88"/><rect x="1179.00" y="952.00" width="7.40" height="7.35" fill="#fbf28a" fill-opacity="0.88"/><rect x="1186.00" y="952.00" width="7.40" height="7.35" fill="#fbf28a" fill-opacity="0.88"/><rect x="1193.00" y="952.00" width="7.40" height="7.35" fill="#fbf28a" fill-opacity="0.88"/><rect x="1200.00" y="952.00" width="7.40" height="7.35" fill="#fbf28a" fill-opacity="0.88"/><rect x="1207.00" y="952.00" width="7.40" height="7.35" fill="#fbf28a" fill-opacity="0.88"/><rect x="1214.00" y="952.00" width="7.40" height="7.35" fill="#fbf28a" fill-opacity="0.88"/><rect x="1221.00" y="952.00" width="7.40" height="7.35" fill="#f8e03a" fill-opacity="0.88"/><rect x="1228.00" y="952.00" width="7.40" height="7.35" fill="#ee5a24" fill-opacity="0.88"/><rect x="1235.00" y="952.00" width="7.40" height="7.35" fill="#ee5a24" fill-opacity="0.88"/><rect x="1242.00" y="952.00" width="7.40" height="7.35" fill="#ee5a24" fill-opacity="0.88"/><rect x="1249.00" y="952.00" width="7.40" height="7.35" fill="#ee5a24" fill-opacity="0.88"/><rect x="1256.00" y="952.00" width="7.40" height="7.35" fill="#e6261f" fill-opacity="0.72"/><rect x="1116.00" y="958.95" width="7.40" height="7.35" fill="#e6261f" fill-opacity="0.72"/><rect x="1123.00" y="958.95" width="7.40" height="7.35" fill="#ee5a24" fill-opacity="0.88"/><rect x="1130.00" y="958.95" width="7.40" height="7.35" fill="#ee5a24" fill-opacity="0.88"/><rect x="1137.00" y="958.95" width="7.40" height="7.35" fill="#f4aa2c" fill-opacity="0.88"/><rect x="1144.00" y="958.95" width="7.40" height="7.35" fill="#f8e03a" fill-opacity="0.88"/><rect x="1151.00" y="958.95" width="7.40" height="7.35" fill="#f8e03a" fill-opacity="0.88"/><rect x="1158.00" y="958.95" width="7.40" height="7.35" fill="#fbf28a" fill-opacity="0.88"/><rect x="1165.00" y="958.95" width="7.40" height="7.35" fill="#fbf28a" fill-opacity="0.88"/><rect x="1172.00" y="958.95" width="7.40" height="7.35" fill="#fbf28a" fill-opacity="0.88"/><rect x="1179.00" y="958.95" width="7.40" height="7.35" fill="#fbf28a" fill-opacity="0.88"/><rect x="1186.00" y="958.95" width="7.40" height="7.35" fill="#fbf28a" fill-opacity="0.88"/><rect x="1193.00" y="958.95" width="7.40" height="7.35" fill="#fbf28a" fill-opacity="0.88"/><rect x="1200.00" y="958.95" width="7.40" height="7.35" fill="#fbf28a" fill-opacity="0.88"/><rect x="1207.00" y="958.95" width="7.40" height="7.35" fill="#fbf28a" fill-opacity="0.88"/><rect x="1214.00" y="958.95" width="7.40" height="7.35" fill="#fbf28a" fill-opacity="0.88"/><rect x="1221.00" y="958.95" width="7.40" height="7.35" fill="#fbf28a" fill-opacity="0.88"/><rect x="1228.00" y="958.95" width="7.40" height="7.35" fill="#f8e03a" fill-opacity="0.88"/><rect x="1235.00" y="958.95" width="7.40" height="7.35" fill="#f8e03a" fill-opacity="0.88"/><rect x="1242.00" y="958.95" width="7.40" height="7.35" fill="#ee5a24" fill-opacity="0.88"/><rect x="1249.00" y="958.95" width="7.40" height="7.35" fill="#ee5a24" fill-opacity="0.88"/><rect x="1256.00" y="958.95" width="7.40" height="7.35" fill="#ee5a24" fill-opacity="0.88"/><rect x="1263.00" y="958.95" width="7.40" height="7.35" fill="#e6261f" fill-opacity="0.72"/><rect x="1116.00" y="965.90" width="7.40" height="7.35" fill="#e6261f" fill-opacity="0.72"/><rect x="1123.00" y="965.90" width="7.40" height="7.35" fill="#e6261f" fill-opacity="0.72"/><rect x="1130.00" y="965.90" width="7.40" height="7.35" fill="#ee5a24" fill-opacity="0.88"/><rect x="1137.00" y="965.90" width="7.40" height="7.35" fill="#ee5a24" fill-opacity="0.88"/><rect x="1144.00" y="965.90" width="7.40" height="7.35" fill="#ee5a24" fill-opacity="0.88"/><rect x="1151.00" y="965.90" width="7.40" height="7.35" fill="#ee5a24" fill-opacity="0.88"/><rect x="1158.00" y="965.90" width="7.40" height="7.35" fill="#ee5a24" fill-opacity="0.88"/><rect x="1165.00" y="965.90" width="7.40" height="7.35" fill="#ee5a24" fill-opacity="0.88"/><rect x="1172.00" y="965.90" width="7.40" height="7.35" fill="#ee5a24" fill-opacity="0.88"/><rect x="1179.00" y="965.90" width="7.40" height="7.35" fill="#f8e03a" fill-opacity="0.88"/><rect x="1186.00" y="965.90" width="7.40" height="7.35" fill="#f8e03a" fill-opacity="0.88"/><rect x="1193.00" y="965.90" width="7.40" height="7.35" fill="#f8e03a" fill-opacity="0.88"/><rect x="1200.00" y="965.90" width="7.40" height="7.35" fill="#fbf28a" fill-opacity="0.88"/><rect x="1207.00" y="965.90" width="7.40" height="7.35" fill="#fbf28a" fill-opacity="0.88"/><rect x="1214.00" y="965.90" width="7.40" height="7.35" fill="#fbf28a" fill-opacity="0.88"/><rect x="1221.00" y="965.90" width="7.40" height="7.35" fill="#fbf28a" fill-opacity="0.88"/><rect x="1228.00" y="965.90" width="7.40" height="7.35" fill="#fbf28a" fill-opacity="0.88"/><rect x="1235.00" y="965.90" width="7.40" height="7.35" fill="#f8e03a" fill-opacity="0.88"/><rect x="1242.00" y="965.90" width="7.40" height="7.35" fill="#f8e03a" fill-opacity="0.88"/><rect x="1249.00" y="965.90" width="7.40" height="7.35" fill="#ee5a24" fill-opacity="0.88"/><rect x="1256.00" y="965.90" width="7.40" height="7.35" fill="#ee5a24" fill-opacity="0.88"/><rect x="1263.00" y="965.90" width="7.40" height="7.35" fill="#e6261f" fill-opacity="0.72"/><rect x="1270.00" y="965.90" width="7.40" height="7.35" fill="#b01c1c" fill-opacity="0.45"/><rect x="1116.00" y="972.85" width="7.40" height="7.35" fill="#b01c1c" fill-opacity="0.45"/><rect x="1123.00" y="972.85" width="7.40" height="7.35" fill="#b01c1c" fill-opacity="0.45"/><rect x="1130.00" y="972.85" width="7.40" height="7.35" fill="#e6261f" fill-opacity="0.72"/><rect x="1137.00" y="972.85" width="7.40" height="7.35" fill="#e6261f" fill-opacity="0.72"/><rect x="1144.00" y="972.85" width="7.40" height="7.35" fill="#e6261f" fill-opacity="0.72"/><rect x="1151.00" y="972.85" width="7.40" height="7.35" fill="#e6261f" fill-opacity="0.72"/><rect x="1158.00" y="972.85" width="7.40" height="7.35" fill="#e6261f" fill-opacity="0.72"/><rect x="1165.00" y="972.85" width="7.40" height="7.35" fill="#e6261f" fill-opacity="0.72"/><rect x="1172.00" y="972.85" width="7.40" height="7.35" fill="#e6261f" fill-opacity="0.72"/><rect x="1179.00" y="972.85" width="7.40" height="7.35" fill="#e6261f" fill-opacity="0.72"/><rect x="1186.00" y="972.85" width="7.40" height="7.35" fill="#ee5a24" fill-opacity="0.88"/><rect x="1193.00" y="972.85" width="7.40" height="7.35" fill="#ee5a24" fill-opacity="0.88"/><rect x="1200.00" y="972.85" width="7.40" height="7.35" fill="#f8e03a" fill-opacity="0.88"/><rect x="1207.00" y="972.85" width="7.40" height="7.35" fill="#fbf28a" fill-opacity="0.88"/><rect x="1214.00" y="972.85" width="7.40" height="7.35" fill="#fbf28a" fill-opacity="0.88"/><rect x="1221.00" y="972.85" width="7.40" height="7.35" fill="#fbf28a" fill-opacity="0.88"/><rect x="1228.00" y="972.85" width="7.40" height="7.35" fill="#fbf28a" fill-opacity="0.88"/><rect x="1235.00" y="972.85" width="7.40" height="7.35" fill="#fbf28a" fill-opacity="0.88"/><rect x="1242.00" y="972.85" width="7.40" height="7.35" fill="#fbf28a" fill-opacity="0.88"/><rect x="1249.00" y="972.85" width="7.40" height="7.35" fill="#f8e03a" fill-opacity="0.88"/><rect x="1256.00" y="972.85" width="7.40" height="7.35" fill="#ee5a24" fill-opacity="0.88"/><rect x="1263.00" y="972.85" width="7.40" height="7.35" fill="#ee5a24" fill-opacity="0.88"/><rect x="1270.00" y="972.85" width="7.40" height="7.35" fill="#ee5a24" fill-opacity="0.88"/><rect x="1277.00" y="972.85" width="7.40" height="7.35" fill="#e6261f" fill-opacity="0.72"/><rect x="1123.00" y="979.80" width="7.40" height="7.35" fill="#701616" fill-opacity="0.45"/><rect x="1130.00" y="979.80" width="7.40" height="7.35" fill="#701616" fill-opacity="0.45"/><rect x="1137.00" y="979.80" width="7.40" height="7.35" fill="#3c0e0e" fill-opacity="0.45"/><rect x="1172.00" y="979.80" width="7.40" height="7.35" fill="#3c0e0e" fill-opacity="0.45"/><rect x="1179.00" y="979.80" width="7.40" height="7.35" fill="#701616" fill-opacity="0.45"/><rect x="1186.00" y="979.80" width="7.40" height="7.35" fill="#b01c1c" fill-opacity="0.45"/><rect x="1193.00" y="979.80" width="7.40" height="7.35" fill="#e6261f" fill-opacity="0.72"/><rect x="1200.00" y="979.80" width="7.40" height="7.35" fill="#ee5a24" fill-opacity="0.88"/><rect x="1207.00" y="979.80" width="7.40" height="7.35" fill="#ee5a24" fill-opacity="0.88"/><rect x="1214.00" y="979.80" width="7.40" height="7.35" fill="#f8e03a" fill-opacity="0.88"/><rect x="1221.00" y="979.80" width="7.40" height="7.35" fill="#fbf28a" fill-opacity="0.88"/><rect x="1228.00" y="979.80" width="7.40" height="7.35" fill="#fbf28a" fill-opacity="0.88"/><rect x="1235.00" y="979.80" width="7.40" height="7.35" fill="#fbf28a" fill-opacity="0.88"/><rect x="1242.00" y="979.80" width="7.40" height="7.35" fill="#fbf28a" fill-opacity="0.88"/><rect x="1249.00" y="979.80" width="7.40" height="7.35" fill="#fbf28a" fill-opacity="0.88"/><rect x="1256.00" y="979.80" width="7.40" height="7.35" fill="#fbf28a" fill-opacity="0.88"/><rect x="1263.00" y="979.80" width="7.40" height="7.35" fill="#f8e03a" fill-opacity="0.88"/><rect x="1270.00" y="979.80" width="7.40" height="7.35" fill="#ee5a24" fill-opacity="0.88"/><rect x="1277.00" y="979.80" width="7.40" height="7.35" fill="#ee5a24" fill-opacity="0.88"/><rect x="1151.00" y="986.75" width="7.40" height="7.35" fill="#3c0e0e" fill-opacity="0.45"/><rect x="1179.00" y="986.75" width="7.40" height="7.35" fill="#701616" fill-opacity="0.45"/><rect x="1186.00" y="986.75" width="7.40" height="7.35" fill="#b01c1c" fill-opacity="0.45"/><rect x="1193.00" y="986.75" width="7.40" height="7.35" fill="#e6261f" fill-opacity="0.72"/><rect x="1200.00" y="986.75" width="7.40" height="7.35" fill="#e6261f" fill-opacity="0.72"/><rect x="1207.00" y="986.75" width="7.40" height="7.35" fill="#ee5a24" fill-opacity="0.88"/><rect x="1214.00" y="986.75" width="7.40" height="7.35" fill="#ee5a24" fill-opacity="0.88"/><rect x="1221.00" y="986.75" width="7.40" height="7.35" fill="#f8e03a" fill-opacity="0.88"/><rect x="1228.00" y="986.75" width="7.40" height="7.35" fill="#fbf28a" fill-opacity="0.88"/><rect x="1235.00" y="986.75" width="7.40" height="7.35" fill="#fbf28a" fill-opacity="0.88"/><rect x="1242.00" y="986.75" width="7.40" height="7.35" fill="#fbf28a" fill-opacity="0.88"/><rect x="1249.00" y="986.75" width="7.40" height="7.35" fill="#fbf28a" fill-opacity="0.88"/><rect x="1256.00" y="986.75" width="7.40" height="7.35" fill="#fbf28a" fill-opacity="0.88"/><rect x="1263.00" y="986.75" width="7.40" height="7.35" fill="#fbf28a" fill-opacity="0.88"/><rect x="1270.00" y="986.75" width="7.40" height="7.35" fill="#ee5a24" fill-opacity="0.88"/><rect x="1277.00" y="986.75" width="7.40" height="7.35" fill="#ee5a24" fill-opacity="0.88"/><rect x="1144.00" y="993.70" width="7.40" height="7.35" fill="#3c0e0e" fill-opacity="0.45"/><rect x="1151.00" y="993.70" width="7.40" height="7.35" fill="#701616" fill-opacity="0.45"/><rect x="1172.00" y="993.70" width="7.40" height="7.35" fill="#701616" fill-opacity="0.45"/><rect x="1179.00" y="993.70" width="7.40" height="7.35" fill="#701616" fill-opacity="0.45"/><rect x="1186.00" y="993.70" width="7.40" height="7.35" fill="#b01c1c" fill-opacity="0.45"/><rect x="1193.00" y="993.70" width="7.40" height="7.35" fill="#e6261f" fill-opacity="0.72"/><rect x="1200.00" y="993.70" width="7.40" height="7.35" fill="#e6261f" fill-opacity="0.72"/><rect x="1207.00" y="993.70" width="7.40" height="7.35" fill="#ee5a24" fill-opacity="0.88"/><rect x="1214.00" y="993.70" width="7.40" height="7.35" fill="#ee5a24" fill-opacity="0.88"/><rect x="1221.00" y="993.70" width="7.40" height="7.35" fill="#ee5a24" fill-opacity="0.88"/><rect x="1228.00" y="993.70" width="7.40" height="7.35" fill="#f8e03a" fill-opacity="0.88"/><rect x="1235.00" y="993.70" width="7.40" height="7.35" fill="#fbf28a" fill-opacity="0.88"/><rect x="1242.00" y="993.70" width="7.40" height="7.35" fill="#fbf28a" fill-opacity="0.88"/><rect x="1249.00" y="993.70" width="7.40" height="7.35" fill="#fbf28a" fill-opacity="0.88"/><rect x="1256.00" y="993.70" width="7.40" height="7.35" fill="#fbf28a" fill-opacity="0.88"/><rect x="1263.00" y="993.70" width="7.40" height="7.35" fill="#fbf28a" fill-opacity="0.88"/><rect x="1270.00" y="993.70" width="7.40" height="7.35" fill="#ee5a24" fill-opacity="0.88"/><rect x="1277.00" y="993.70" width="7.40" height="7.35" fill="#ee5a24" fill-opacity="0.88"/><rect x="1137.00" y="1000.65" width="7.40" height="7.35" fill="#3c0e0e" fill-opacity="0.45"/><rect x="1144.00" y="1000.65" width="7.40" height="7.35" fill="#701616" fill-opacity="0.45"/><rect x="1158.00" y="1000.65" width="7.40" height="7.35" fill="#3c0e0e" fill-opacity="0.45"/><rect x="1172.00" y="1000.65" width="7.40" height="7.35" fill="#701616" fill-opacity="0.45"/><rect x="1179.00" y="1000.65" width="7.40" height="7.35" fill="#701616" fill-opacity="0.45"/><rect x="1186.00" y="1000.65" width="7.40" height="7.35" fill="#b01c1c" fill-opacity="0.45"/><rect x="1193.00" y="1000.65" width="7.40" height="7.35" fill="#b01c1c" fill-opacity="0.45"/><rect x="1200.00" y="1000.65" width="7.40" height="7.35" fill="#b01c1c" fill-opacity="0.45"/><rect x="1207.00" y="1000.65" width="7.40" height="7.35" fill="#e6261f" fill-opacity="0.72"/><rect x="1214.00" y="1000.65" width="7.40" height="7.35" fill="#e6261f" fill-opacity="0.72"/><rect x="1221.00" y="1000.65" width="7.40" height="7.35" fill="#ee5a24" fill-opacity="0.88"/><rect x="1228.00" y="1000.65" width="7.40" height="7.35" fill="#ee5a24" fill-opacity="0.88"/><rect x="1235.00" y="1000.65" width="7.40" height="7.35" fill="#ee5a24" fill-opacity="0.88"/><rect x="1242.00" y="1000.65" width="7.40" height="7.35" fill="#ee5a24" fill-opacity="0.88"/><rect x="1249.00" y="1000.65" width="7.40" height="7.35" fill="#f8e03a" fill-opacity="0.88"/><rect x="1256.00" y="1000.65" width="7.40" height="7.35" fill="#f8e03a" fill-opacity="0.88"/><rect x="1263.00" y="1000.65" width="7.40" height="7.35" fill="#ee5a24" fill-opacity="0.88"/><rect x="1270.00" y="1000.65" width="7.40" height="7.35" fill="#ee5a24" fill-opacity="0.88"/><rect x="1277.00" y="1000.65" width="7.40" height="7.35" fill="#e6261f" fill-opacity="0.72"/><rect x="1158.00" y="1007.60" width="7.40" height="7.35" fill="#3c0e0e" fill-opacity="0.45"/><rect x="1165.00" y="1007.60" width="7.40" height="7.35" fill="#3c0e0e" fill-opacity="0.45"/><rect x="1172.00" y="1007.60" width="7.40" height="7.35" fill="#701616" fill-opacity="0.45"/><rect x="1179.00" y="1007.60" width="7.40" height="7.35" fill="#701616" fill-opacity="0.45"/><rect x="1186.00" y="1007.60" width="7.40" height="7.35" fill="#b01c1c" fill-opacity="0.45"/><rect x="1193.00" y="1007.60" width="7.40" height="7.35" fill="#b01c1c" fill-opacity="0.45"/><rect x="1200.00" y="1007.60" width="7.40" height="7.35" fill="#b01c1c" fill-opacity="0.45"/><rect x="1207.00" y="1007.60" width="7.40" height="7.35" fill="#701616" fill-opacity="0.45"/><rect x="1214.00" y="1007.60" width="7.40" height="7.35" fill="#701616" fill-opacity="0.45"/><rect x="1221.00" y="1007.60" width="7.40" height="7.35" fill="#b01c1c" fill-opacity="0.45"/><rect x="1228.00" y="1007.60" width="7.40" height="7.35" fill="#b01c1c" fill-opacity="0.45"/><rect x="1235.00" y="1007.60" width="7.40" height="7.35" fill="#b01c1c" fill-opacity="0.45"/><rect x="1242.00" y="1007.60" width="7.40" height="7.35" fill="#e6261f" fill-opacity="0.72"/><rect x="1249.00" y="1007.60" width="7.40" height="7.35" fill="#e6261f" fill-opacity="0.72"/><rect x="1256.00" y="1007.60" width="7.40" height="7.35" fill="#e6261f" fill-opacity="0.72"/><rect x="1263.00" y="1007.60" width="7.40" height="7.35" fill="#e6261f" fill-opacity="0.72"/><rect x="1270.00" y="1007.60" width="7.40" height="7.35" fill="#b01c1c" fill-opacity="0.45"/><rect x="1277.00" y="1007.60" width="7.40" height="7.35" fill="#701616" fill-opacity="0.45"/><rect x="1130.00" y="1014.55" width="7.40" height="7.35" fill="#3c0e0e" fill-opacity="0.45"/><rect x="1137.00" y="1014.55" width="7.40" height="7.35" fill="#701616" fill-opacity="0.45"/><rect x="1144.00" y="1014.55" width="7.40" height="7.35" fill="#701616" fill-opacity="0.45"/><rect x="1151.00" y="1014.55" width="7.40" height="7.35" fill="#701616" fill-opacity="0.45"/><rect x="1158.00" y="1014.55" width="7.40" height="7.35" fill="#701616" fill-opacity="0.45"/><rect x="1165.00" y="1014.55" width="7.40" height="7.35" fill="#701616" fill-opacity="0.45"/><rect x="1172.00" y="1014.55" width="7.40" height="7.35" fill="#701616" fill-opacity="0.45"/><rect x="1179.00" y="1014.55" width="7.40" height="7.35" fill="#b01c1c" fill-opacity="0.45"/><rect x="1186.00" y="1014.55" width="7.40" height="7.35" fill="#e6261f" fill-opacity="0.72"/><rect x="1193.00" y="1014.55" width="7.40" height="7.35" fill="#b01c1c" fill-opacity="0.45"/><rect x="1200.00" y="1014.55" width="7.40" height="7.35" fill="#b01c1c" fill-opacity="0.45"/><rect x="1207.00" y="1014.55" width="7.40" height="7.35" fill="#701616" fill-opacity="0.45"/><rect x="1165.00" y="1021.50" width="7.40" height="7.35" fill="#3c0e0e" fill-opacity="0.45"/><rect x="1172.00" y="1021.50" width="7.40" height="7.35" fill="#701616" fill-opacity="0.45"/><rect x="1179.00" y="1021.50" width="7.40" height="7.35" fill="#701616" fill-opacity="0.45"/><rect x="1186.00" y="1021.50" width="7.40" height="7.35" fill="#b01c1c" fill-opacity="0.45"/><rect x="1193.00" y="1021.50" width="7.40" height="7.35" fill="#701616" fill-opacity="0.45"/><rect x="1179.00" y="1028.45" width="7.40" height="7.35" fill="#3c0e0e" fill-opacity="0.45"/><rect x="1186.00" y="1028.45" width="7.40" height="7.35" fill="#3c0e0e" fill-opacity="0.45"/></g></g>
<rect x="629.5" y="669.5" width="11.5" height="398.0999999999999" fill="url(#cbar)"/>
<path d="M641.0 669.5 V1067.6" stroke="#555" stroke-width="1.5"/>
<path d="M629.5 669.5 V1067.6" stroke="#bbb" stroke-width="1"/>
<path d="M637.0 692.5 H641.0" stroke="#555" stroke-width="1.5"/>
<text x="645.0" y="701.5" style="font-family:'Liberation Sans',sans-serif;font-size:25.5px" fill="#222" stroke="#222" stroke-width="0.5" text-anchor="start" >0.16</text>
<path d="M637.0 744.9 H641.0" stroke="#555" stroke-width="1.5"/>
<text x="645.0" y="753.9" style="font-family:'Liberation Sans',sans-serif;font-size:25.5px" fill="#222" stroke="#222" stroke-width="0.5" text-anchor="start" >0.14</text>
<path d="M637.0 797.3 H641.0" stroke="#555" stroke-width="1.5"/>
<text x="645.0" y="806.3" style="font-family:'Liberation Sans',sans-serif;font-size:25.5px" fill="#222" stroke="#222" stroke-width="0.5" text-anchor="start" >0.12</text>
<path d="M637.0 849.7 H641.0" stroke="#555" stroke-width="1.5"/>
<text x="645.0" y="858.7" style="font-family:'Liberation Sans',sans-serif;font-size:25.5px" fill="#222" stroke="#222" stroke-width="0.5" text-anchor="start" >0.1</text>
<path d="M637.0 902.1 H641.0" stroke="#555" stroke-width="1.5"/>
<text x="645.0" y="911.1" style="font-family:'Liberation Sans',sans-serif;font-size:25.5px" fill="#222" stroke="#222" stroke-width="0.5" text-anchor="start" >0.08</text>
<path d="M637.0 954.5 H641.0" stroke="#555" stroke-width="1.5"/>
<text x="645.0" y="963.5" style="font-family:'Liberation Sans',sans-serif;font-size:25.5px" fill="#222" stroke="#222" stroke-width="0.5" text-anchor="start" >0.06</text>
<path d="M637.0 1006.9 H641.0" stroke="#555" stroke-width="1.5"/>
<text x="645.0" y="1015.9" style="font-family:'Liberation Sans',sans-serif;font-size:25.5px" fill="#222" stroke="#222" stroke-width="0.5" text-anchor="start" >0.04</text>
<path d="M637.0 1059.3 H641.0" stroke="#555" stroke-width="1.5"/>
<text x="645.0" y="1068.3" style="font-family:'Liberation Sans',sans-serif;font-size:25.5px" fill="#222" stroke="#222" stroke-width="0.5" text-anchor="start" >0.02</text>
<text transform="translate(727,871.5) rotate(-90)" text-anchor="middle" style="font-family:'Liberation Sans',sans-serif;font-size:26.8px" fill="#222">Relative Fe distribution in %</text>
<rect x="1301.5" y="669.5" width="11.5" height="398.0999999999999" fill="url(#cbar)"/>
<path d="M1313.0 669.5 V1067.6" stroke="#555" stroke-width="1.5"/>
<path d="M1301.5 669.5 V1067.6" stroke="#bbb" stroke-width="1"/>
<path d="M1309.0 692.5 H1313.0" stroke="#555" stroke-width="1.5"/>
<text x="1317.0" y="701.5" style="font-family:'Liberation Sans',sans-serif;font-size:25.5px" fill="#222" stroke="#222" stroke-width="0.5" text-anchor="start" >0.16</text>
<path d="M1309.0 744.9 H1313.0" stroke="#555" stroke-width="1.5"/>
<text x="1317.0" y="753.9" style="font-family:'Liberation Sans',sans-serif;font-size:25.5px" fill="#222" stroke="#222" stroke-width="0.5" text-anchor="start" >0.14</text>
<path d="M1309.0 797.3 H1313.0" stroke="#555" stroke-width="1.5"/>
<text x="1317.0" y="806.3" style="font-family:'Liberation Sans',sans-serif;font-size:25.5px" fill="#222" stroke="#222" stroke-width="0.5" text-anchor="start" >0.12</text>
<path d="M1309.0 849.7 H1313.0" stroke="#555" stroke-width="1.5"/>
<text x="1317.0" y="858.7" style="font-family:'Liberation Sans',sans-serif;font-size:25.5px" fill="#222" stroke="#222" stroke-width="0.5" text-anchor="start" >0.1</text>
<path d="M1309.0 902.1 H1313.0" stroke="#555" stroke-width="1.5"/>
<text x="1317.0" y="911.1" style="font-family:'Liberation Sans',sans-serif;font-size:25.5px" fill="#222" stroke="#222" stroke-width="0.5" text-anchor="start" >0.08</text>
<path d="M1309.0 954.5 H1313.0" stroke="#555" stroke-width="1.5"/>
<text x="1317.0" y="963.5" style="font-family:'Liberation Sans',sans-serif;font-size:25.5px" fill="#222" stroke="#222" stroke-width="0.5" text-anchor="start" >0.06</text>
<path d="M1309.0 1006.9 H1313.0" stroke="#555" stroke-width="1.5"/>
<text x="1317.0" y="1015.9" style="font-family:'Liberation Sans',sans-serif;font-size:25.5px" fill="#222" stroke="#222" stroke-width="0.5" text-anchor="start" >0.04</text>
<path d="M1309.0 1059.3 H1313.0" stroke="#555" stroke-width="1.5"/>
<text x="1317.0" y="1068.3" style="font-family:'Liberation Sans',sans-serif;font-size:25.5px" fill="#222" stroke="#222" stroke-width="0.5" text-anchor="start" >0.02</text>
<text transform="translate(1399,871.5) rotate(-90)" text-anchor="middle" style="font-family:'Liberation Sans',sans-serif;font-size:26.8px" fill="#222">Relative Fe distribution in %</text>
<text x="86.0" y="714.0" style="font-family:'Liberation Sans',sans-serif;font-size:25.5px" fill="#222" stroke="#222" stroke-width="0.5" text-anchor="end" >-10</text>
<text x="86.0" y="781.2" style="font-family:'Liberation Sans',sans-serif;font-size:25.5px" fill="#222" stroke="#222" stroke-width="0.5" text-anchor="end" >0</text>
<text x="86.0" y="848.4" style="font-family:'Liberation Sans',sans-serif;font-size:25.5px" fill="#222" stroke="#222" stroke-width="0.5" text-anchor="end" >10</text>
<text x="86.0" y="915.6" style="font-family:'Liberation Sans',sans-serif;font-size:25.5px" fill="#222" stroke="#222" stroke-width="0.5" text-anchor="end" >20</text>
<text x="86.0" y="982.8" style="font-family:'Liberation Sans',sans-serif;font-size:25.5px" fill="#222" stroke="#222" stroke-width="0.5" text-anchor="end" >30</text>
<text x="86.0" y="1050.0" style="font-family:'Liberation Sans',sans-serif;font-size:25.5px" fill="#222" stroke="#222" stroke-width="0.5" text-anchor="end" >40</text>
<text x="114.0" y="1098.0" style="font-family:'Liberation Sans',sans-serif;font-size:25.5px" fill="#222" stroke="#222" stroke-width="0.5" text-anchor="middle" >-10</text>
<text x="179.0" y="1098.0" style="font-family:'Liberation Sans',sans-serif;font-size:25.5px" fill="#222" stroke="#222" stroke-width="0.5" text-anchor="middle" >0</text>
<text x="248.0" y="1098.0" style="font-family:'Liberation Sans',sans-serif;font-size:25.5px" fill="#222" stroke="#222" stroke-width="0.5" text-anchor="middle" >10</text>
<text transform="translate(40,871) rotate(-90)" text-anchor="middle" style="font-family:'Liberation Sans',sans-serif;font-size:28px" fill="#222">Position (mm)</text>
<g transform="translate(1460,620) scale(0.42671)" fill="none" stroke="#111" stroke-width="5.2" stroke-linejoin="round" stroke-linecap="round">
<path d="M135 225 C140 160 170 80 205 45 C220 35 235 40 255 60 C290 100 330 160 350 205"/>
<path d="M135 225 C130 232 128 240 140 242 M350 205 C362 205 380 210 390 225 C395 240 378 245 362 240"/>
<path d="M112 325 C118 380 128 430 130 520 C132 600 110 680 98 760 C94 800 100 840 112 870"/>
<path d="M390 330 C380 400 378 460 395 540 C410 620 440 700 432 780 C428 830 415 860 405 885"/>
<path d="M80 262 C60 262 42 275 45 290 C50 302 75 300 95 310 C105 315 108 320 112 325"/>
<path d="M405 250 C420 240 445 240 455 262 C460 285 440 300 420 300 C405 300 395 315 390 330"/>
<path d="M130 285 C120 300 125 315 135 305 L140 290 L150 310 L160 290 L150 280" stroke-width="5"/>
<path d="M385 270 C395 285 390 300 378 292 L372 280" stroke-width="5"/>
<path d="M112 870 C90 855 60 840 38 848 C22 860 30 890 55 905 C90 925 120 945 150 945 C158 930 152 915 165 905 C180 898 200 902 205 920"/>
<path d="M240 920 C250 935 290 940 340 925 C370 920 390 935 420 930 C460 915 495 890 500 870 C495 850 470 850 440 860 C425 868 412 878 405 885"/>
<path d="M205 920 C205 980 190 1030 178 1080" stroke-width="5"/><path d="M240 920 C238 980 222 1030 212 1080" stroke-width="5"/>
</g>
<g transform="translate(1460,620) scale(0.42671)">
<ellipse cx="215" cy="40" rx="16" ry="9" fill="#111"/><ellipse cx="183" cy="135" rx="11" ry="16" fill="#111"/><ellipse cx="295" cy="128" rx="11" ry="16" fill="#111"/>
</g>
<rect x="1498.8" y="729.3" width="139.1" height="86.6" fill="none" stroke="#e8262c" stroke-width="9.4"/>
<rect x="1787" y="643" width="22" height="398" fill="url(#cbar)"/>
<path d="M1809 643 V1041" stroke="#555" stroke-width="1.5"/><path d="M1787 643 V1041" stroke="#ccc" stroke-width="1"/>
<path d="M1787 665.8 H1792" stroke="#777" stroke-width="1.5"/>
<text x="1783.0" y="674.8" style="font-family:'Liberation Sans',sans-serif;font-size:25.5px" fill="#222" stroke="#222" stroke-width="0.5" text-anchor="end" >0.16</text>
<path d="M1787 718.3 H1792" stroke="#777" stroke-width="1.5"/>
<text x="1783.0" y="727.3" style="font-family:'Liberation Sans',sans-serif;font-size:25.5px" fill="#222" stroke="#222" stroke-width="0.5" text-anchor="end" >0.14</text>
<path d="M1787 770.8 H1792" stroke="#777" stroke-width="1.5"/>
<text x="1783.0" y="779.8" style="font-family:'Liberation Sans',sans-serif;font-size:25.5px" fill="#222" stroke="#222" stroke-width="0.5" text-anchor="end" >0.12</text>
<path d="M1787 823.3 H1792" stroke="#777" stroke-width="1.5"/>
<text x="1783.0" y="832.3" style="font-family:'Liberation Sans',sans-serif;font-size:25.5px" fill="#222" stroke="#222" stroke-width="0.5" text-anchor="end" >0.1</text>
<path d="M1787 875.8 H1792" stroke="#777" stroke-width="1.5"/>
<text x="1783.0" y="884.8" style="font-family:'Liberation Sans',sans-serif;font-size:25.5px" fill="#222" stroke="#222" stroke-width="0.5" text-anchor="end" >0.08</text>
<path d="M1787 928.3 H1792" stroke="#777" stroke-width="1.5"/>
<text x="1783.0" y="937.3" style="font-family:'Liberation Sans',sans-serif;font-size:25.5px" fill="#222" stroke="#222" stroke-width="0.5" text-anchor="end" >0.06</text>
<path d="M1787 980.8 H1792" stroke="#777" stroke-width="1.5"/>
<text x="1783.0" y="989.8" style="font-family:'Liberation Sans',sans-serif;font-size:25.5px" fill="#222" stroke="#222" stroke-width="0.5" text-anchor="end" >0.04</text>
<path d="M1787 1033.3 H1792" stroke="#777" stroke-width="1.5"/>
<text x="1783.0" y="1042.3" style="font-family:'Liberation Sans',sans-serif;font-size:25.5px" fill="#222" stroke="#222" stroke-width="0.5" text-anchor="end" >0.02</text>
<text transform="translate(1718,846) rotate(-90)" text-anchor="middle" style="font-family:'Liberation Sans',sans-serif;font-size:26.8px" fill="#222">Relative Fe distribution in %</text>
<clipPath id="e23"><rect x="1829.6" y="614.6" width="359.9" height="227.9"/></clipPath><g clip-path="url(#e23)"><g transform="translate(1829.6,614.6)"><g filter="url(#tex)"><rect x="0" y="0" width="359.9" height="227.9" fill="#120e0e"/><g filter="url(#blur2)">
<path d="M78 0 L270 0 C285 20 300 60 318 100 C328 130 334 180 344 228 L12 228 C8 180 10 130 22 90 C32 60 55 25 78 0Z" fill="#bdb5b5"/>
</g>
<g filter="url(#blur4)">
<ellipse cx="60" cy="150" rx="45" ry="80" fill="#c6bebe"/>
<ellipse cx="295" cy="160" rx="40" ry="75" fill="#c4bcbc"/>
<ellipse cx="178" cy="22" rx="40" ry="26" fill="#cfc7c7"/>
<path d="M126 113 L145 100 L162 165 L126 165Z" fill="#8e8484"/>
<path d="M187 130 L213 125 L213 161 L190 161Z" fill="#968c8c"/>
<path d="M235 95 L268 90 L265 148 L240 140Z" fill="#a09696"/>
<path d="M60 200 C120 190 240 190 320 205 L320 228 L60 228Z" fill="#b0a6a6"/>
<path d="M120 50 C140 70 160 90 175 100 C190 90 215 70 240 50" stroke="#a09696" stroke-width="8" fill="none"/>
</g>
<g filter="url(#blur1)" fill="none">
<path d="M140 0 C150 25 165 38 182 39 C200 38 214 22 224 0" stroke="#7a7070" stroke-width="3"/>
<path d="M30 210 C45 190 55 180 60 165" stroke="#e8e0e0" stroke-width="3"/>
<path d="M90 200 C100 170 115 140 130 110" stroke="#ddd" stroke-width="2"/>
<path d="M300 60 C315 80 325 110 330 140" stroke="#d8d0d0" stroke-width="2"/>
</g>
<g filter="url(#blur6)"><path d="M-10 -10 H80 C60 20 40 45 30 60 C20 90 15 130 12 228 H-10Z" fill="#1c1616"/><path d="M370 -10 H268 C290 30 305 70 320 105 C330 140 334 180 340 238 H370Z" fill="#1c1616"/></g></g></g></g>
<clipPath id="e4"><rect x="1829.6" y="850" width="359.9" height="227.8"/></clipPath><g clip-path="url(#e4)"><g transform="translate(1829.6,850)"><g filter="url(#tex)"><rect x="0" y="0" width="359.9" height="227.8" fill="#120e0e"/><g filter="url(#blur2)">
<path d="M105 0 L262 0 C272 30 280 60 285 90 C295 130 300 180 305 228 L28 228 C32 180 40 130 50 90 C62 55 85 20 105 0Z" fill="#b4acac"/>
</g>
<g filter="url(#blur4)">
<ellipse cx="112" cy="130" rx="55" ry="85" fill="#bcb4b4"/>
<ellipse cx="240" cy="120" rx="45" ry="80" fill="#b8b0b0"/>
<ellipse cx="178" cy="22" rx="60" ry="22" fill="#8a8282"/>
<path d="M30 210 H300 V228 H30Z" fill="#7a7070"/>
</g>
<g filter="url(#blur1)" fill="none">
<path d="M140 30 C152 42 160 52 166 62" stroke="#4a4040" stroke-width="4"/>
<path d="M230 34 C218 42 206 50 194 58" stroke="#4a4040" stroke-width="4"/>
<path d="M166 64 C160 100 150 130 130 160 C115 180 100 195 88 212" stroke="#8a8080" stroke-width="2"/>
<path d="M196 56 C205 100 215 140 230 175 C236 190 240 200 243 205" stroke="#8a8080" stroke-width="2"/>
</g>
<g filter="url(#blur6)"><path d="M-10 -10 H110 C85 25 65 55 55 80 C42 120 32 170 28 238 H-10Z" fill="#1a1414"/><path d="M370 -10 H255 C275 40 285 80 295 110 C300 140 305 180 308 238 H370Z" fill="#1a1414"/></g></g></g></g>
<g clip-path="url(#e4)"><g transform="translate(1829.6,850)">
<g filter="url(#blur2)">
<path d="M176 44 C195 80 225 140 255 190 L265 212 L78 212 C95 180 140 110 176 44Z" fill="#ff3030" fill-opacity="0.3"/>
<path d="M81 160 H252 V212 H81Z" fill="#ff2a2a" fill-opacity="0.3"/>
<path d="M130 160 C145 130 165 118 175 118 C190 118 205 135 214 160 Z" fill="#c01010" fill-opacity="0.75"/>
<path d="M100 172 C130 162 210 160 240 172 L245 190 C200 178 140 178 95 192Z" fill="#e01818" fill-opacity="0.55"/>
</g>
<g filter="url(#blur1)"><rect x="172" y="157" width="14.5" height="14.5" fill="#f39030" fill-opacity="0.9"/><rect x="157.5" y="171.5" width="29" height="14.5" fill="#f8e890" fill-opacity="0.95"/></g>
<g fill="#e03030" fill-opacity="0.12" filter="url(#blur2)"><rect x="203" y="72" width="14.5" height="14.5"/><rect x="217" y="86" width="14.5" height="14.5"/><rect x="217" y="101" width="14.5" height="14.5"/><rect x="232" y="115" width="14.5" height="14.5"/><rect x="203" y="130" width="14.5" height="14.5"/><rect x="246" y="144" width="14.5" height="14.5"/><rect x="232" y="144" width="14.5" height="14.5"/><rect x="261" y="130" width="14.5" height="14.5"/><rect x="275" y="144" width="14.5" height="14.5"/><rect x="261" y="115" width="14.5" height="14.5"/></g>
</g></g>
<text x="1839.3" y="665" style="font-family:'Liberation Sans',sans-serif;font-size:52.5px" fill="#fff" stroke="#333" stroke-width="2.6" paint-order="stroke">23°C</text>
<text x="1839.5" y="900.5" style="font-family:'Liberation Sans',sans-serif;font-size:52.5px" fill="#fff" stroke="#333" stroke-width="2.6" paint-order="stroke">4°C</text>
</g></svg></body></html>
